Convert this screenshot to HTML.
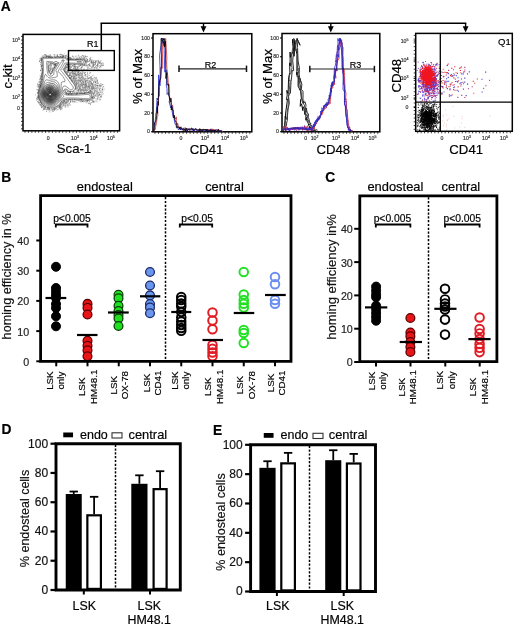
<!DOCTYPE html>
<html><head><meta charset="utf-8"><style>
html,body{margin:0;padding:0;background:#fff;}
svg{display:block;font-family:"Liberation Sans", sans-serif;filter:blur(0.35px);}
text{stroke:currentColor;stroke-width:0.18px;paint-order:stroke;}
</style></head><body>
<svg width="520" height="628" viewBox="0 0 520 628">
<rect width="520" height="628" fill="#fff"/>
<text x="0.8" y="11.2" font-size="13.8" text-anchor="start" font-weight="bold" fill="#000" color="#000">A</text>
<line x1="101.3" y1="50.6" x2="101.3" y2="23.3" stroke="#000" stroke-width="1.5"/>
<line x1="100.55" y1="23.3" x2="466.3" y2="23.3" stroke="#000" stroke-width="1.5"/>
<line x1="203.5" y1="23.3" x2="203.5" y2="27" stroke="#000" stroke-width="1.4"/>
<path d="M200.6,26.2 L206.4,26.2 L203.5,32.4 Z" fill="#000"/>
<line x1="330.8" y1="23.3" x2="330.8" y2="27" stroke="#000" stroke-width="1.4"/>
<path d="M327.90000000000003,26.2 L333.7,26.2 L330.8,32.4 Z" fill="#000"/>
<line x1="465.6" y1="23.3" x2="465.6" y2="27" stroke="#000" stroke-width="1.4"/>
<path d="M462.70000000000005,26.2 L468.5,26.2 L465.6,32.4 Z" fill="#000"/>
<path d="M74.5 71.8h0.75M78.0 85.6h0.75M90.9 62.6h0.75M50.4 64.1h0.75M54.3 66.4h0.75M52.3 109.5h0.75M60.9 104.3h0.75M85.7 92.9h0.75M48.7 72.4h0.75M67.1 70.8h0.75M89.1 89.0h0.75M89.9 72.6h0.75M66.6 64.7h0.75M85.2 85.9h0.75M82.3 89.3h0.75M85.6 56.6h0.75M87.2 90.6h0.75M91.9 62.9h0.75M66.9 100.8h0.75M84.1 73.5h0.75M84.1 93.0h0.75M81.9 76.7h0.75M95.0 82.4h0.75M74.3 82.2h0.75M68.5 99.7h0.75M96.1 68.0h0.75M54.9 65.1h0.75M65.1 67.4h0.75M95.2 64.1h0.75M101.9 89.6h0.75M71.4 78.6h0.75M80.9 56.8h0.75M99.1 94.3h0.75M95.5 61.2h0.75M97.4 83.0h0.75M75.9 85.0h0.75M47.7 109.6h0.75M70.0 64.7h0.75M89.1 65.8h0.75M89.8 60.2h0.75M83.9 59.2h0.75M102.1 84.7h0.75M94.3 62.5h0.75M74.0 73.3h0.75M67.1 74.8h0.75M73.3 70.5h0.75M75.6 79.1h0.75M81.3 77.4h0.75M89.3 64.1h0.75M90.9 61.5h0.75M79.5 80.8h0.75M42.4 69.8h0.75M40.0 76.9h0.75M41.1 106.9h0.75M68.4 94.4h0.75M38.5 97.5h0.75M75.4 69.4h0.75M72.9 76.3h0.75M45.9 56.5h0.75M82.1 78.1h0.75M48.7 110.4h0.75M97.2 85.4h0.75M88.5 83.7h0.75M64.8 55.6h0.75M74.0 66.5h0.75M69.8 77.4h0.75M74.4 99.5h0.75M91.4 61.8h0.75M42.1 72.7h0.75M97.5 93.2h0.75M76.7 59.5h0.75M74.6 66.1h0.75M40.8 61.9h0.75M73.3 71.9h0.75M48.6 70.5h0.75M100.2 96.5h0.75M70.9 79.7h0.75M37.7 99.7h0.75M67.9 93.3h0.75M84.2 93.0h0.75M70.4 69.4h0.75M85.9 70.0h0.75M54.1 64.8h0.75M52.7 69.4h0.75M72.5 73.7h0.75M83.9 89.0h0.75M41.9 104.9h0.75M97.2 99.2h0.75M70.9 94.2h0.75M78.9 87.9h0.75M92.9 101.2h0.75M66.6 93.7h0.75M67.5 64.4h0.75M66.1 67.4h0.75M69.3 78.6h0.75M85.3 87.1h0.75M80.9 100.1h0.75M59.1 106.3h0.75M43.1 109.3h0.75M72.8 57.0h0.75M53.7 109.2h0.75M79.1 77.9h0.75M81.2 100.0h0.75M80.2 99.7h0.75M70.5 93.7h0.75M81.2 67.7h0.75M44.0 54.7h0.75M66.3 67.2h0.75M40.8 60.0h0.75M66.6 93.2h0.75M95.7 91.6h0.75M92.5 65.5h0.75M74.7 94.1h0.75M48.0 56.8h0.75M98.7 88.4h0.75M62.4 55.8h0.75M85.5 101.7h0.75M70.9 58.9h0.75M100.0 66.3h0.75M94.2 69.2h0.75M79.9 86.1h0.75M91.5 93.4h0.75M81.7 83.5h0.75M46.1 56.9h0.75M77.3 93.7h0.75M83.8 84.4h0.75M68.9 67.6h0.75M68.0 59.0h0.75M97.3 65.5h0.75M41.1 103.1h0.75M91.4 80.1h0.75M78.8 73.5h0.75M53.4 109.6h0.75M74.7 69.6h0.75M99.6 86.3h0.75M69.2 66.3h0.75M78.2 74.9h0.75M74.1 64.7h0.75M101.9 92.1h0.75M65.9 102.6h0.75M77.8 100.0h0.75M97.0 80.1h0.75M94.6 64.1h0.75M82.5 81.3h0.75M80.5 89.1h0.75M90.6 82.0h0.75M72.5 65.9h0.75M39.4 87.1h0.75M81.5 93.1h0.75M99.9 99.2h0.75M85.3 81.1h0.75M49.2 56.9h0.75M95.2 62.7h0.75M70.5 57.3h0.75M97.7 96.9h0.75M49.2 64.8h0.75M82.7 65.1h0.75M72.2 71.7h0.75M72.5 59.2h0.75M41.1 76.3h0.75M67.4 58.9h0.75M70.9 69.7h0.75M38.6 90.8h0.75M84.5 58.6h0.75M40.3 85.5h0.75M67.1 70.1h0.75M95.7 79.0h0.75M85.3 78.6h0.75M83.0 90.7h0.75M90.5 59.5h0.75M60.2 108.4h0.75M97.1 81.0h0.75M89.1 60.7h0.75M86.2 86.6h0.75M40.1 84.9h0.75M82.5 87.9h0.75M40.1 70.6h0.75M81.5 92.6h0.75M74.7 82.0h0.75M80.9 83.1h0.75M90.9 89.1h0.75M37.3 96.3h0.75M38.5 89.9h0.75M95.4 88.3h0.75M41.9 106.4h0.75M37.3 83.8h0.75M100.6 66.1h0.75M75.2 74.5h0.75M74.9 68.1h0.75M83.6 90.8h0.75M79.6 84.3h0.75M78.1 90.4h0.75M66.4 93.9h0.75M98.3 61.5h0.75M40.6 62.7h0.75M66.9 64.6h0.75M93.9 91.3h0.75M103.4 86.5h0.75M94.3 67.5h0.75M77.8 80.7h0.75M48.9 71.3h0.75M82.5 101.0h0.75M85.5 87.7h0.75M70.6 75.5h0.75M94.5 101.7h0.75M78.4 89.0h0.75M59.0 106.7h0.75M75.4 73.6h0.75M40.0 87.1h0.75M73.0 74.6h0.75M41.5 60.2h0.75M75.7 84.9h0.75M66.2 99.9h0.75M41.6 63.2h0.75M92.9 63.7h0.75M41.3 58.9h0.75M39.5 100.1h0.75M60.9 54.9h0.75M82.6 72.3h0.75M79.8 59.4h0.75M41.4 73.9h0.75M78.4 85.8h0.75M77.7 77.0h0.75M90.4 90.3h0.75M59.9 106.2h0.75M81.0 80.4h0.75M89.9 92.0h0.75M78.3 91.8h0.75M75.5 87.4h0.75M57.0 56.2h0.75M89.1 87.5h0.75M73.1 68.5h0.75M97.0 85.4h0.75M87.2 78.1h0.75M47.7 56.2h0.75M46.2 109.4h0.75M78.7 75.8h0.75M84.6 86.0h0.75M55.3 65.0h0.75M37.7 97.3h0.75M81.7 70.5h0.75M89.9 85.4h0.75M87.1 100.5h0.75M83.1 82.4h0.75M91.8 97.6h0.75M75.1 79.1h0.75M40.5 105.8h0.75M78.9 80.3h0.75M75.2 59.7h0.75M87.1 59.8h0.75M92.1 86.3h0.75M70.2 78.6h0.75M41.4 78.2h0.75M75.8 87.2h0.75M93.8 79.8h0.75M68.0 94.3h0.75M65.3 103.1h0.75M92.8 62.1h0.75M71.2 94.0h0.75M74.8 83.5h0.75M80.3 86.4h0.75M63.3 100.8h0.75M54.4 109.0h0.75M48.5 108.0h0.75M78.6 92.6h0.75M66.8 71.6h0.75M86.9 60.3h0.75M81.8 70.4h0.75M86.5 100.2h0.75M65.5 99.9h0.75M71.2 76.5h0.75M84.6 88.0h0.75M91.7 98.2h0.75M88.8 77.8h0.75M79.1 66.0h0.75M62.1 102.1h0.75M75.9 74.6h0.75M70.2 78.1h0.75M99.5 85.5h0.75M78.2 74.7h0.75M85.5 61.3h0.75M84.0 93.2h0.75M81.1 77.5h0.75M65.3 92.2h0.75M59.2 107.4h0.75M79.2 89.2h0.75M79.6 79.0h0.75M89.0 93.0h0.75M41.7 76.6h0.75M79.6 100.4h0.75M101.3 96.1h0.75M72.3 80.0h0.75M96.0 85.7h0.75M92.8 88.9h0.75M92.7 63.1h0.75M71.9 65.5h0.75M76.2 94.1h0.75M58.1 57.0h0.75M64.1 68.9h0.75M65.0 68.3h0.75M47.2 56.3h0.75M68.0 91.6h0.75M88.7 84.2h0.75M92.4 66.5h0.75M89.2 100.0h0.75M58.4 106.1h0.75M40.3 85.3h0.75M43.1 105.4h0.75M70.7 70.9h0.75M81.4 85.7h0.75M79.0 86.4h0.75M68.3 100.2h0.75M48.8 57.1h0.75M83.3 93.5h0.75M94.8 86.0h0.75M49.9 74.1h0.75M95.0 61.5h0.75M90.8 79.1h0.75M97.5 96.9h0.75M54.2 65.4h0.75M60.3 106.8h0.75M61.4 57.3h0.75M76.1 83.9h0.75M93.6 64.8h0.75M89.6 85.6h0.75M43.1 105.5h0.75M91.2 87.8h0.75M95.7 78.1h0.75M74.1 92.6h0.75M76.3 93.9h0.75M88.4 103.3h0.75M70.0 101.9h0.75M93.3 81.9h0.75M84.4 87.1h0.75M82.2 64.8h0.75M85.3 85.7h0.75M70.7 93.5h0.75M66.3 66.9h0.75M99.0 62.4h0.75M90.9 102.7h0.75M40.9 102.9h0.75M99.5 63.1h0.75M90.9 82.4h0.75M87.6 82.3h0.75M67.8 94.2h0.75M77.0 88.1h0.75M93.3 82.8h0.75M63.3 56.3h0.75M69.5 68.3h0.75M90.9 61.0h0.75M59.4 105.9h0.75M40.0 86.5h0.75M40.9 83.4h0.75M97.1 64.3h0.75M83.2 79.1h0.75M50.5 70.0h0.75M51.4 71.3h0.75M71.1 80.5h0.75M70.2 67.0h0.75M41.2 66.4h0.75M53.9 68.0h0.75M80.1 81.2h0.75M71.6 69.3h0.75M43.4 57.7h0.75M77.3 83.6h0.75M67.1 70.6h0.75M64.9 102.9h0.75M93.1 87.6h0.75M69.2 69.5h0.75M75.6 75.3h0.75M40.5 58.8h0.75M91.5 67.6h0.75M66.0 101.6h0.75M91.1 87.0h0.75M50.7 56.8h0.75M41.5 65.6h0.75M41.0 65.7h0.75M77.4 69.4h0.75M73.6 82.2h0.75M83.9 65.3h0.75M91.9 96.7h0.75M51.2 68.1h0.75M48.8 108.7h0.75M85.1 84.4h0.75M41.7 79.6h0.75M59.2 57.5h0.75M90.2 104.3h0.75M89.2 65.4h0.75M73.1 77.6h0.75M75.2 68.4h0.75M69.0 64.9h0.75M61.5 108.7h0.75M49.4 66.0h0.75M100.8 65.2h0.75M68.6 65.3h0.75M38.8 98.0h0.75M74.1 66.9h0.75M75.1 66.9h0.75M85.4 61.1h0.75M52.2 57.5h0.75M61.9 56.7h0.75M83.8 57.2h0.75M100.6 83.7h0.75M85.7 90.5h0.75M93.1 101.9h0.75M74.4 80.9h0.75M78.0 72.2h0.75M86.7 56.5h0.75M69.5 91.9h0.75M37.1 93.6h0.75M85.2 90.2h0.75M41.4 107.6h0.75M90.3 90.6h0.75M66.0 93.2h0.75M77.5 87.3h0.75M79.9 84.5h0.75M85.0 74.4h0.75M77.8 74.6h0.75M87.4 100.6h0.75M81.1 79.2h0.75M90.7 92.0h0.75M66.4 94.0h0.75M84.1 65.2h0.75M78.6 70.4h0.75M52.4 63.9h0.75M74.0 74.0h0.75M77.0 93.9h0.75M82.4 84.4h0.75M69.4 59.3h0.75M84.8 84.5h0.75M82.2 66.7h0.75M89.7 90.4h0.75M88.8 85.5h0.75M83.7 91.0h0.75M79.6 77.1h0.75M87.4 86.6h0.75M85.6 65.9h0.75M71.9 75.1h0.75M66.3 92.9h0.75M39.9 82.6h0.75M64.9 102.1h0.75M97.7 95.5h0.75M41.7 60.8h0.75M82.8 87.7h0.75M100.1 85.2h0.75M91.4 83.5h0.75M92.3 85.0h0.75M91.5 99.2h0.75M101.9 89.8h0.75M93.7 87.8h0.75M64.5 101.2h0.75M71.2 77.1h0.75M62.1 57.4h0.75M73.7 76.2h0.75M47.9 67.7h0.75M66.9 67.4h0.75M94.6 84.9h0.75M41.1 60.3h0.75M91.4 91.5h0.75M87.1 80.3h0.75M46.3 111.3h0.75M86.3 61.1h0.75M40.1 81.4h0.75M86.5 80.7h0.75M93.2 86.1h0.75M72.7 70.5h0.75M54.5 108.4h0.75M59.1 105.0h0.75M73.5 58.0h0.75M92.0 97.3h0.75M70.0 58.4h0.75M47.2 107.7h0.75M91.1 63.0h0.75M69.3 57.8h0.75M67.9 70.9h0.75M63.4 102.6h0.75M69.9 74.2h0.75M93.7 64.9h0.75M83.1 65.2h0.75M66.8 90.0h0.75M94.6 94.9h0.75M49.4 108.8h0.75M63.9 101.6h0.75M75.6 69.6h0.75M100.6 92.7h0.75M49.3 109.5h0.75M39.2 61.7h0.75M78.1 85.1h0.75M81.4 101.7h0.75M74.7 67.9h0.75M78.3 80.9h0.75M88.3 86.2h0.75M87.9 64.8h0.75M85.7 81.0h0.75M41.8 58.0h0.75M67.4 58.3h0.75M81.0 65.8h0.75M73.4 78.6h0.75M66.8 67.4h0.75M42.5 106.5h0.75M77.3 67.3h0.75M53.8 54.7h0.75M89.0 86.9h0.75M74.9 72.9h0.75M92.3 84.7h0.75M77.2 74.1h0.75M47.7 57.0h0.75M63.7 68.9h0.75M60.2 109.8h0.75M82.8 56.3h0.75M85.5 88.8h0.75M73.7 68.0h0.75M93.3 66.7h0.75M87.1 61.8h0.75M81.9 55.5h0.75M84.7 84.1h0.75M92.3 97.5h0.75M69.6 105.1h0.75M82.0 75.0h0.75M55.9 65.4h0.75M40.9 104.4h0.75M82.9 84.6h0.75M89.5 88.5h0.75M93.6 98.3h0.75M47.5 108.8h0.75M50.7 63.1h0.75M90.6 76.8h0.75M101.3 63.4h0.75M97.1 66.3h0.75M56.0 108.3h0.75M71.7 70.4h0.75M86.4 87.0h0.75M55.0 108.5h0.75M94.3 88.4h0.75M95.2 84.3h0.75M92.5 78.3h0.75M71.4 70.7h0.75M40.9 60.2h0.75M84.6 55.9h0.75M50.1 67.8h0.75M37.1 101.7h0.75M43.7 107.3h0.75M70.6 72.4h0.75M48.8 55.2h0.75M79.6 91.0h0.75M65.6 55.5h0.75M81.4 85.2h0.75M91.0 93.4h0.75M64.2 70.2h0.75M85.5 63.3h0.75M50.8 65.2h0.75M84.0 92.7h0.75M41.5 79.8h0.75M40.1 82.8h0.75M75.8 93.2h0.75M71.5 76.4h0.75M72.2 99.7h0.75M99.4 94.6h0.75M66.6 74.5h0.75M57.0 55.2h0.75M48.6 108.0h0.75M72.2 92.9h0.75M38.3 96.3h0.75M63.3 56.4h0.75M72.9 91.9h0.75M69.6 99.6h0.75M87.5 82.9h0.75M38.7 87.4h0.75M78.2 71.8h0.75M89.9 91.2h0.75M63.2 101.9h0.75M67.0 71.8h0.75M70.1 92.4h0.75M83.8 59.4h0.75M62.7 102.6h0.75M80.3 87.9h0.75M50.9 57.4h0.75M81.2 73.7h0.75M40.4 70.0h0.75M82.2 101.4h0.75M54.7 65.1h0.75" stroke="#444" stroke-width="0.75" fill="none"/>
<path d="M70.8 59.1h0.75M80.8 90.8h0.75M95.0 63.2h0.75M89.1 103.6h0.75M74.0 81.8h0.75M37.8 86.1h0.75M80.8 90.5h0.75M60.0 105.3h0.75M66.5 73.6h0.75M92.9 64.6h0.75M76.0 58.3h0.75M91.1 83.4h0.75M52.1 70.4h0.75M79.4 58.1h0.75M40.3 62.7h0.75M69.0 73.1h0.75M60.3 56.4h0.75M44.6 56.6h0.75M84.7 100.2h0.75M70.8 77.4h0.75M83.6 100.7h0.75M83.8 72.3h0.75M63.3 102.4h0.75M93.0 96.6h0.75M65.4 71.1h0.75M65.1 67.8h0.75M79.3 65.9h0.75M42.3 66.0h0.75M75.9 89.7h0.75M45.3 108.6h0.75M74.8 100.7h0.75M64.8 107.0h0.75M96.5 60.6h0.75M50.5 57.4h0.75M85.9 81.9h0.75M69.1 58.8h0.75M43.0 109.3h0.75M99.0 63.4h0.75M85.6 79.3h0.75M69.2 77.8h0.75M96.0 96.1h0.75M42.2 73.5h0.75M40.4 76.6h0.75M82.5 86.4h0.75M79.3 58.4h0.75M78.2 79.9h0.75M87.4 101.0h0.75M91.9 66.4h0.75M95.0 67.1h0.75M82.3 83.4h0.75M86.5 84.5h0.75M75.2 66.8h0.75M99.5 92.3h0.75M82.3 84.0h0.75M38.9 86.3h0.75M88.1 78.6h0.75M88.5 83.6h0.75M73.7 78.2h0.75M77.1 88.7h0.75M75.0 77.0h0.75M65.7 92.6h0.75M79.3 85.6h0.75M87.5 88.4h0.75M75.1 85.5h0.75M101.7 65.6h0.75M66.8 73.1h0.75M36.7 97.5h0.75M75.0 89.3h0.75M83.5 78.0h0.75M89.8 85.9h0.75M92.5 78.7h0.75M82.1 85.7h0.75M95.7 66.9h0.75M92.9 86.1h0.75M87.7 89.6h0.75M55.4 57.2h0.75M54.1 108.8h0.75M86.6 65.6h0.75M94.7 60.5h0.75M98.0 63.7h0.75M46.3 56.1h0.75M89.4 70.7h0.75M74.9 79.6h0.75M69.0 70.7h0.75M72.0 81.7h0.75M99.2 85.2h0.75M89.8 83.9h0.75M77.8 69.5h0.75M61.4 105.2h0.75M50.6 55.8h0.75M38.0 95.2h0.75M61.3 102.0h0.75M49.3 71.4h0.75M80.6 92.6h0.75M75.7 82.1h0.75M75.1 83.9h0.75M65.3 67.7h0.75M54.9 109.6h0.75M91.7 98.0h0.75M52.7 70.3h0.75M77.2 92.3h0.75M90.7 78.4h0.75M77.3 72.7h0.75M79.7 78.6h0.75M93.4 87.1h0.75M70.4 99.6h0.75M87.3 60.0h0.75M64.3 69.8h0.75M83.8 89.1h0.75M93.1 102.3h0.75M41.0 59.9h0.75M100.0 94.7h0.75M80.1 84.7h0.75M90.7 62.4h0.75M82.7 91.7h0.75M82.2 83.6h0.75M89.3 77.9h0.75M74.0 84.6h0.75M86.0 85.0h0.75M87.7 86.9h0.75M84.5 60.6h0.75M92.4 92.5h0.75M69.4 59.4h0.75M78.1 82.5h0.75M61.0 109.3h0.75M94.3 91.6h0.75M67.0 101.0h0.75M71.7 77.6h0.75M41.9 59.1h0.75M75.7 71.5h0.75M69.4 78.4h0.75M74.6 85.9h0.75M85.8 90.5h0.75M68.6 102.9h0.75M42.6 110.2h0.75M56.0 57.0h0.75M81.3 85.2h0.75M99.2 63.2h0.75M86.5 80.1h0.75M36.0 100.1h0.75M96.9 87.0h0.75M76.0 92.9h0.75M77.6 79.7h0.75M89.1 83.9h0.75M52.0 110.2h0.75M72.6 101.7h0.75M89.8 90.2h0.75M87.2 100.6h0.75M80.8 90.3h0.75M76.7 69.2h0.75M59.0 107.4h0.75M59.8 106.2h0.75M102.5 65.5h0.75M81.9 87.4h0.75M69.0 68.8h0.75M72.0 59.0h0.75M92.1 101.3h0.75M65.5 65.7h0.75M93.1 63.9h0.75M84.0 69.9h0.75M93.2 96.9h0.75M75.2 88.6h0.75M97.3 90.4h0.75M77.5 58.8h0.75M85.1 82.6h0.75M74.5 64.5h0.75M80.0 82.2h0.75M79.5 73.4h0.75M63.5 69.5h0.75M86.7 87.8h0.75M73.3 65.7h0.75M82.3 58.2h0.75M67.0 105.8h0.75M102.9 93.9h0.75M71.5 64.6h0.75M96.5 68.6h0.75M40.5 64.4h0.75M66.8 105.7h0.75M69.6 57.6h0.75M38.7 85.9h0.75M85.1 92.9h0.75M99.2 95.3h0.75M84.2 78.9h0.75M70.1 69.8h0.75M41.2 66.8h0.75M75.4 71.9h0.75M89.8 65.3h0.75M79.2 76.9h0.75M75.4 72.8h0.75M37.7 97.4h0.75M69.7 76.2h0.75M67.7 76.0h0.75M100.4 62.8h0.75M88.7 87.1h0.75M75.6 59.6h0.75M86.5 100.6h0.75M74.6 79.0h0.75M82.2 77.0h0.75M63.5 69.9h0.75M71.6 81.0h0.75M92.4 102.3h0.75M101.9 65.5h0.75M89.4 90.6h0.75M68.8 75.7h0.75M79.3 78.4h0.75M63.4 100.5h0.75M79.4 93.9h0.75M92.2 85.4h0.75M39.9 101.3h0.75M67.5 93.4h0.75M95.1 90.3h0.75M87.1 69.3h0.75M90.8 60.9h0.75M68.3 71.7h0.75M83.2 82.5h0.75M76.5 69.6h0.75M102.7 84.6h0.75M96.4 81.4h0.75M39.0 85.2h0.75M69.5 104.6h0.75M91.7 62.0h0.75M88.3 91.3h0.75M68.1 56.1h0.75M96.1 90.7h0.75M97.6 69.6h0.75M69.6 91.9h0.75M82.6 100.2h0.75M84.1 64.5h0.75M99.6 100.1h0.75M46.0 57.0h0.75M80.5 80.0h0.75M82.3 78.9h0.75M101.2 97.3h0.75M80.4 59.5h0.75M89.4 61.5h0.75M91.2 60.8h0.75M82.6 81.3h0.75M88.0 61.2h0.75M82.6 89.2h0.75M92.0 95.2h0.75M90.7 61.9h0.75M48.3 66.6h0.75M80.2 72.8h0.75M87.6 85.3h0.75M43.1 57.1h0.75M70.2 59.2h0.75M39.0 102.9h0.75M48.3 68.6h0.75M93.7 95.0h0.75M39.1 84.7h0.75M58.6 105.7h0.75M63.7 103.6h0.75M66.3 71.2h0.75M80.3 79.2h0.75M64.2 71.4h0.75M76.2 58.8h0.75M95.1 62.6h0.75M46.9 108.7h0.75M84.9 59.7h0.75M100.7 85.8h0.75M38.3 82.1h0.75M43.2 105.4h0.75M88.0 100.2h0.75M91.9 75.7h0.75M62.8 101.6h0.75M93.2 96.1h0.75M100.2 96.3h0.75M90.3 83.9h0.75M96.5 82.7h0.75M81.5 89.7h0.75M67.1 101.1h0.75M77.4 57.9h0.75M76.7 74.3h0.75M38.3 91.4h0.75M42.2 104.7h0.75M77.8 59.5h0.75M75.1 81.1h0.75M75.9 56.1h0.75M92.1 87.9h0.75M95.0 66.9h0.75M74.2 66.0h0.75M100.8 85.0h0.75M62.4 55.7h0.75M67.2 66.4h0.75M69.9 73.4h0.75M78.6 90.5h0.75M65.2 105.9h0.75M40.8 73.2h0.75M89.5 92.4h0.75M91.7 63.9h0.75M86.4 60.1h0.75M84.6 65.6h0.75M85.5 83.5h0.75M62.0 106.8h0.75M40.7 105.3h0.75M60.6 56.7h0.75M92.7 84.2h0.75M57.4 54.3h0.75M44.5 55.6h0.75M84.5 85.9h0.75M67.6 72.1h0.75M96.6 80.2h0.75M65.3 73.0h0.75M84.0 90.8h0.75M70.8 59.3h0.75M65.2 90.7h0.75M72.3 76.5h0.75M76.3 80.4h0.75M44.6 106.7h0.75M78.9 101.3h0.75M84.5 92.9h0.75M84.5 92.9h0.75M93.6 97.7h0.75M79.5 77.9h0.75M81.7 74.2h0.75M78.9 71.4h0.75M70.1 102.1h0.75M72.0 70.4h0.75M78.7 68.6h0.75M85.9 85.5h0.75M82.7 89.0h0.75M65.5 73.4h0.75M69.8 66.6h0.75M65.4 90.0h0.75M84.5 70.4h0.75M84.1 90.0h0.75M66.8 74.9h0.75M64.9 105.2h0.75M98.1 66.2h0.75M41.7 74.2h0.75M68.0 76.3h0.75M95.8 87.8h0.75M95.3 62.8h0.75M96.9 81.6h0.75M75.6 81.1h0.75M99.8 86.2h0.75M85.4 60.8h0.75M42.2 64.9h0.75M83.5 59.6h0.75M83.2 81.3h0.75M74.2 80.8h0.75M38.0 102.6h0.75M100.9 85.6h0.75M42.6 104.3h0.75M86.0 64.3h0.75M38.4 86.5h0.75M70.7 66.5h0.75M74.2 64.5h0.75M78.4 86.3h0.75M88.6 64.5h0.75M46.5 55.5h0.75M63.4 101.4h0.75M54.6 66.4h0.75M69.9 69.8h0.75M60.2 107.3h0.75M89.6 59.3h0.75M92.0 89.3h0.75M86.9 76.0h0.75M100.3 88.5h0.75M38.5 91.9h0.75M57.1 55.9h0.75M76.4 100.7h0.75M40.2 79.4h0.75M68.3 91.8h0.75M88.6 86.5h0.75M78.4 79.5h0.75M87.8 78.4h0.75M75.2 67.8h0.75M91.0 92.8h0.75M88.4 78.5h0.75M75.9 59.1h0.75M67.6 71.9h0.75M61.2 104.3h0.75M40.4 83.7h0.75M92.1 88.9h0.75M70.8 93.8h0.75M52.3 70.6h0.75M85.2 85.9h0.75M62.5 104.6h0.75M49.8 71.8h0.75M74.1 82.6h0.75M88.4 92.1h0.75M81.1 59.0h0.75M90.1 92.6h0.75M65.5 100.7h0.75M52.4 108.8h0.75M65.3 68.6h0.75M92.7 67.2h0.75M68.0 71.9h0.75M98.0 83.3h0.75M95.8 80.1h0.75M71.7 76.3h0.75M97.5 98.4h0.75M39.9 59.9h0.75M43.4 106.5h0.75M61.7 106.3h0.75M66.8 100.3h0.75M50.8 64.2h0.75M41.6 65.4h0.75M64.4 102.9h0.75M54.3 107.8h0.75M39.2 86.0h0.75M64.1 68.8h0.75M41.4 61.9h0.75M92.7 69.2h0.75M94.5 92.4h0.75M91.1 94.6h0.75M96.6 89.4h0.75M37.2 96.1h0.75M85.8 102.8h0.75M73.9 101.2h0.75M68.3 76.9h0.75M92.9 62.4h0.75M77.3 67.3h0.75M41.8 56.9h0.75M40.5 102.4h0.75M89.5 81.5h0.75M76.5 78.8h0.75M40.0 81.2h0.75M94.3 90.6h0.75M96.5 61.4h0.75M77.1 90.7h0.75M100.6 60.6h0.75M82.1 74.1h0.75M94.9 78.0h0.75M39.7 100.7h0.75M87.3 61.3h0.75M95.7 62.2h0.75M46.2 56.8h0.75M41.1 83.6h0.75M91.0 92.4h0.75M89.7 91.3h0.75M81.7 82.9h0.75M98.7 84.7h0.75M86.1 85.4h0.75M63.4 57.4h0.75M62.6 105.6h0.75M42.9 108.7h0.75M74.4 81.1h0.75M90.7 87.9h0.75M69.2 75.3h0.75M43.3 105.9h0.75M72.6 79.2h0.75M90.2 66.3h0.75M40.9 68.3h0.75M72.0 55.9h0.75M87.3 72.2h0.75M62.7 103.6h0.75M81.0 57.7h0.75M77.5 71.9h0.75M41.4 106.0h0.75M85.6 93.6h0.75M69.7 57.7h0.75M89.3 101.2h0.75M69.8 69.2h0.75M51.2 108.2h0.75M73.1 78.8h0.75M77.9 84.1h0.75M91.9 83.8h0.75M76.1 88.7h0.75M73.1 68.7h0.75M84.5 79.4h0.75M87.1 65.3h0.75M86.8 89.7h0.75M102.8 63.4h0.75M48.2 66.0h0.75M79.2 84.0h0.75M80.8 74.4h0.75M63.7 91.1h0.75M92.5 101.4h0.75M97.6 60.6h0.75M63.2 55.4h0.75M88.5 84.5h0.75M66.3 64.7h0.75M40.3 80.8h0.75M94.4 84.4h0.75M89.2 75.3h0.75M93.8 80.7h0.75M74.8 73.6h0.75M64.4 71.4h0.75M86.0 84.2h0.75M99.3 90.3h0.75M74.6 82.7h0.75M79.9 72.3h0.75M81.3 80.9h0.75M66.7 102.3h0.75M41.9 56.3h0.75M88.0 81.0h0.75M61.2 104.6h0.75M99.0 62.4h0.75M85.7 60.3h0.75M77.6 71.6h0.75M79.9 65.3h0.75M101.1 64.2h0.75M60.7 103.0h0.75M94.0 97.6h0.75M89.2 86.6h0.75M67.3 65.8h0.75M65.5 68.2h0.75M88.9 103.3h0.75M67.1 91.4h0.75M88.7 64.7h0.75M98.1 95.6h0.75M55.4 65.5h0.75M86.6 74.8h0.75M82.9 58.0h0.75M79.7 77.9h0.75M81.8 82.8h0.75M80.8 86.8h0.75M76.8 73.5h0.75M77.2 73.7h0.75M72.3 59.6h0.75M50.6 65.3h0.75M53.2 108.2h0.75M92.5 88.4h0.75M68.9 75.5h0.75M94.2 96.0h0.75M98.6 69.1h0.75M73.7 58.3h0.75M90.0 92.6h0.75M39.0 104.4h0.75M38.2 101.9h0.75M84.3 64.8h0.75M67.2 65.8h0.75M62.0 102.9h0.75M76.4 92.7h0.75M67.6 64.4h0.75M92.2 93.1h0.75M85.2 82.6h0.75M70.3 92.0h0.75M89.8 68.3h0.75M41.6 69.9h0.75M88.9 101.8h0.75M80.3 90.8h0.75M79.9 92.0h0.75M77.8 77.9h0.75M38.7 87.3h0.75M94.6 63.2h0.75M74.9 80.5h0.75M76.4 93.1h0.75M80.0 58.7h0.75M68.1 69.6h0.75M75.4 67.2h0.75M74.0 78.6h0.75M80.5 93.6h0.75M87.3 59.1h0.75M48.6 57.3h0.75M81.9 59.0h0.75M35.1 94.9h0.75M49.6 70.1h0.75M85.3 83.8h0.75M80.4 89.0h0.75M70.0 100.9h0.75M37.5 89.7h0.75M99.0 89.8h0.75M84.2 85.5h0.75M75.0 71.8h0.75M90.1 103.2h0.75M60.0 105.1h0.75M87.8 85.1h0.75M79.3 100.3h0.75M79.9 78.6h0.75M71.6 101.1h0.75M82.1 85.6h0.75M69.2 69.1h0.75M99.4 89.5h0.75M76.9 70.5h0.75M74.4 70.9h0.75M74.8 99.7h0.75M69.4 94.2h0.75M67.8 104.1h0.75M73.0 101.4h0.75M72.1 74.0h0.75M41.2 105.4h0.75M70.5 75.4h0.75M82.2 84.2h0.75M87.9 78.9h0.75M92.5 68.2h0.75M77.1 68.7h0.75M63.1 104.9h0.75M96.1 91.9h0.75M42.7 107.7h0.75M77.3 67.3h0.75M76.0 75.6h0.75M53.6 67.8h0.75M70.7 67.3h0.75M83.3 69.4h0.75M77.7 69.8h0.75M57.8 56.7h0.75M77.0 73.0h0.75" stroke="#888" stroke-width="0.75" fill="none"/>
<path d="M78.2 59.3h0.75M92.3 80.3h0.75M41.9 70.6h0.75M82.1 87.2h0.75M77.8 90.0h0.75M39.9 102.2h0.75M41.7 68.7h0.75M96.6 93.2h0.75M40.9 105.8h0.75M46.2 55.8h0.75M79.9 81.2h0.75M60.0 56.5h0.75M65.7 68.9h0.75M41.5 75.6h0.75M65.0 66.7h0.75M73.0 80.0h0.75M47.7 107.9h0.75M44.5 107.3h0.75M69.8 74.9h0.75M54.2 110.3h0.75M76.1 84.5h0.75M56.8 55.9h0.75M93.2 94.3h0.75M74.2 77.3h0.75M85.2 81.1h0.75M64.9 69.8h0.75M82.8 102.0h0.75M59.7 105.6h0.75M75.6 76.0h0.75M36.5 89.6h0.75M85.3 89.9h0.75M42.2 68.8h0.75M96.0 88.1h0.75M39.0 102.9h0.75M76.4 83.2h0.75M76.7 93.6h0.75M61.8 55.3h0.75M37.3 99.0h0.75M100.8 96.1h0.75M45.4 57.6h0.75M72.7 80.5h0.75M68.5 72.4h0.75M96.6 101.6h0.75M50.6 66.1h0.75M84.7 75.7h0.75M84.5 64.8h0.75M41.4 74.9h0.75M75.4 78.6h0.75M54.8 107.9h0.75M62.0 103.1h0.75M72.2 81.8h0.75M50.8 109.3h0.75M56.5 106.7h0.75M62.7 55.1h0.75M83.7 87.5h0.75M41.4 77.6h0.75M61.5 102.3h0.75M54.2 109.5h0.75M50.6 69.3h0.75M93.0 65.1h0.75M48.5 57.5h0.75M86.1 58.6h0.75M52.1 72.7h0.75M71.9 100.8h0.75M81.6 93.6h0.75M77.9 83.7h0.75M90.9 68.2h0.75M86.2 89.8h0.75M76.3 78.5h0.75M69.7 93.1h0.75M38.1 90.7h0.75M86.9 76.6h0.75M92.1 83.6h0.75M86.5 62.0h0.75M71.0 79.8h0.75M81.0 83.0h0.75M79.5 75.0h0.75M66.2 71.9h0.75M60.5 107.1h0.75M87.6 87.8h0.75M76.3 66.8h0.75M44.0 109.4h0.75M52.2 111.0h0.75M70.0 73.3h0.75M83.5 83.4h0.75M82.7 76.1h0.75M60.7 103.0h0.75M79.7 93.3h0.75M76.1 74.9h0.75M76.2 84.0h0.75M65.2 71.2h0.75M69.0 93.8h0.75M76.8 80.8h0.75M75.3 69.6h0.75M48.4 66.1h0.75M37.3 97.6h0.75M90.6 86.4h0.75M65.5 57.1h0.75M85.2 72.5h0.75M80.5 90.7h0.75M83.1 100.8h0.75M87.0 73.1h0.75M44.1 107.0h0.75M41.7 75.4h0.75M52.9 109.1h0.75M61.5 107.8h0.75M45.5 55.1h0.75M76.4 69.9h0.75M62.9 55.9h0.75M68.2 70.7h0.75M59.2 108.7h0.75M98.0 92.5h0.75M61.1 101.8h0.75M77.8 56.8h0.75M82.7 77.9h0.75M65.3 91.2h0.75M84.8 75.3h0.75M45.3 107.5h0.75M81.2 84.9h0.75M103.3 65.3h0.75M40.0 104.7h0.75M81.9 79.4h0.75M79.8 88.9h0.75M95.4 95.9h0.75M92.4 98.7h0.75M78.6 81.5h0.75M73.9 79.0h0.75M48.3 69.4h0.75M92.5 89.3h0.75M93.1 94.0h0.75M57.6 109.6h0.75M89.8 93.0h0.75M90.5 57.4h0.75M81.6 100.1h0.75M73.2 73.5h0.75M45.1 107.7h0.75M60.9 107.4h0.75M50.1 57.0h0.75M57.6 106.9h0.75M65.9 56.1h0.75M38.1 97.3h0.75M102.1 89.8h0.75M39.3 60.9h0.75M94.2 97.4h0.75M87.2 92.7h0.75M40.2 79.2h0.75M95.8 77.5h0.75M89.9 99.8h0.75M50.2 63.9h0.75M89.0 91.8h0.75M90.0 90.6h0.75M73.6 83.6h0.75M97.3 65.2h0.75M88.7 78.3h0.75M38.8 85.8h0.75M79.3 93.3h0.75M92.4 100.3h0.75M69.8 92.9h0.75M66.0 103.4h0.75M63.9 101.4h0.75M41.2 103.3h0.75M91.9 91.7h0.75M48.9 56.3h0.75M52.8 111.5h0.75M79.5 89.3h0.75M50.0 69.9h0.75M40.3 102.5h0.75M76.0 82.5h0.75M80.1 65.3h0.75M59.4 54.9h0.75M79.6 56.8h0.75M55.7 55.0h0.75M71.6 73.5h0.75M48.2 108.1h0.75M82.7 77.8h0.75M56.8 107.5h0.75M76.6 86.3h0.75M50.8 108.7h0.75M99.7 97.5h0.75M95.4 95.4h0.75M84.8 74.9h0.75M80.2 81.2h0.75M41.1 81.3h0.75M98.1 62.3h0.75M80.6 75.1h0.75M73.8 68.8h0.75M97.2 91.6h0.75M76.3 68.7h0.75M40.3 64.7h0.75M80.7 91.7h0.75M38.8 88.3h0.75M68.9 73.8h0.75M80.2 84.9h0.75M81.5 89.3h0.75M76.6 99.9h0.75M74.4 75.1h0.75M93.3 62.6h0.75M69.7 75.6h0.75M86.2 85.5h0.75M84.4 60.7h0.75M77.7 74.8h0.75M40.7 66.7h0.75M87.8 66.8h0.75M74.9 76.9h0.75M88.7 68.6h0.75M67.7 75.6h0.75M92.7 97.1h0.75M43.8 106.9h0.75M73.6 101.9h0.75M39.7 100.8h0.75M57.3 56.2h0.75M39.9 78.1h0.75M41.5 79.2h0.75M82.0 73.4h0.75M47.8 108.9h0.75M74.1 73.6h0.75M86.0 92.8h0.75M97.1 94.9h0.75M50.0 63.9h0.75M87.5 74.2h0.75M74.4 70.2h0.75M67.7 72.0h0.75M93.5 60.8h0.75M65.2 57.0h0.75M72.1 101.8h0.75M85.5 88.8h0.75M39.2 84.4h0.75M50.2 68.7h0.75M90.5 91.1h0.75M45.4 54.7h0.75M66.8 104.8h0.75M67.6 65.4h0.75M76.4 75.3h0.75M67.3 56.6h0.75M68.2 100.9h0.75M42.0 70.9h0.75M93.8 77.7h0.75M95.8 94.4h0.75M85.4 83.3h0.75M44.1 107.3h0.75M90.7 76.8h0.75M49.1 68.0h0.75M88.2 86.3h0.75M73.7 81.9h0.75M54.6 67.5h0.75M77.8 83.2h0.75M84.3 79.6h0.75M93.2 65.1h0.75M95.1 81.6h0.75M101.5 93.9h0.75M69.3 75.7h0.75M64.3 71.8h0.75M69.2 66.8h0.75M73.5 64.4h0.75M84.6 57.7h0.75M81.5 80.6h0.75M70.0 101.4h0.75M53.5 68.2h0.75M86.3 65.8h0.75M38.2 95.3h0.75M91.3 84.6h0.75M90.6 78.7h0.75M79.3 74.7h0.75M75.8 83.4h0.75M69.6 91.7h0.75M73.6 77.8h0.75M66.3 73.0h0.75M65.3 92.0h0.75M63.6 103.8h0.75M94.7 82.1h0.75M91.1 100.3h0.75M63.8 100.5h0.75M75.6 88.3h0.75M91.8 90.1h0.75M62.0 57.3h0.75M91.1 88.8h0.75M48.6 56.8h0.75M77.9 100.7h0.75M88.1 92.1h0.75M69.7 58.1h0.75M86.1 83.2h0.75M36.4 98.9h0.75M98.7 85.8h0.75M39.0 81.4h0.75M102.0 89.2h0.75M52.3 68.0h0.75M96.9 83.1h0.75M88.5 92.7h0.75M97.8 62.6h0.75M87.8 61.8h0.75M48.7 70.9h0.75M79.8 92.9h0.75M66.1 74.0h0.75M50.5 72.1h0.75M70.4 70.0h0.75M78.9 57.7h0.75M76.6 81.1h0.75M90.1 77.7h0.75M88.9 91.4h0.75M87.3 67.1h0.75M71.8 93.8h0.75M54.5 56.9h0.75M69.6 64.9h0.75M69.9 102.2h0.75M69.5 67.8h0.75M63.5 104.1h0.75M81.1 80.5h0.75M80.9 84.9h0.75M74.6 102.2h0.75M72.5 71.7h0.75M87.4 80.4h0.75M62.5 102.8h0.75M59.5 106.6h0.75M69.1 74.2h0.75M80.8 76.2h0.75M64.5 70.6h0.75M62.0 56.8h0.75M38.6 103.0h0.75M92.8 92.7h0.75M85.2 81.5h0.75M41.1 58.2h0.75M73.7 78.8h0.75M87.7 100.3h0.75M39.7 60.5h0.75M92.8 96.1h0.75M65.1 72.0h0.75M51.1 73.8h0.75M66.3 102.1h0.75M73.0 66.8h0.75M67.0 102.2h0.75M89.1 58.8h0.75M39.3 82.6h0.75M72.7 93.9h0.75M92.2 87.4h0.75M73.7 91.1h0.75M79.2 75.0h0.75M68.9 65.8h0.75M76.9 92.4h0.75M80.6 68.7h0.75M74.9 56.3h0.75M98.4 94.2h0.75M40.0 85.3h0.75M71.0 58.7h0.75M64.7 72.0h0.75M70.2 78.1h0.75M88.1 87.1h0.75M45.9 56.5h0.75M80.2 101.7h0.75M89.8 80.3h0.75M79.9 65.0h0.75M85.8 86.1h0.75M61.5 103.1h0.75M70.9 72.6h0.75M102.6 64.6h0.75M92.8 98.7h0.75M81.8 71.7h0.75M53.3 65.1h0.75M48.9 111.9h0.75M38.3 102.4h0.75M44.0 108.3h0.75M45.1 106.9h0.75M39.0 79.2h0.75M75.6 85.3h0.75M81.9 90.2h0.75M52.0 68.6h0.75M91.3 89.0h0.75M70.2 58.9h0.75M70.2 99.7h0.75M41.2 74.7h0.75M92.6 86.7h0.75M80.3 73.3h0.75M94.0 93.5h0.75M99.2 67.4h0.75M98.2 60.3h0.75M91.9 79.8h0.75M78.6 86.8h0.75M78.0 72.9h0.75M96.2 65.5h0.75M36.9 92.6h0.75M66.6 73.6h0.75M76.5 91.1h0.75M38.1 92.3h0.75M54.1 55.8h0.75M92.5 84.2h0.75M76.3 59.4h0.75M72.7 73.5h0.75M94.3 92.5h0.75M89.4 73.3h0.75M95.7 100.2h0.75M38.8 84.3h0.75M74.6 65.7h0.75M69.0 77.7h0.75M100.0 63.0h0.75M39.3 99.5h0.75M98.7 94.0h0.75M51.6 63.7h0.75M79.4 88.6h0.75M52.1 57.2h0.75M73.9 76.2h0.75M37.8 87.0h0.75M55.0 57.5h0.75M100.5 67.3h0.75M43.8 108.0h0.75M97.7 64.3h0.75M83.8 80.3h0.75M95.3 90.9h0.75M48.0 56.1h0.75M85.6 85.0h0.75M72.1 80.7h0.75M83.6 93.6h0.75M67.9 106.0h0.75M78.3 66.8h0.75M42.7 55.6h0.75M80.5 80.4h0.75M64.3 90.3h0.75M40.4 85.3h0.75M76.7 81.1h0.75M37.4 92.2h0.75M90.9 77.8h0.75M39.9 101.1h0.75M93.9 81.6h0.75M44.6 109.3h0.75M68.0 68.3h0.75M71.0 67.3h0.75M78.1 90.3h0.75M60.3 103.8h0.75M38.2 85.3h0.75M40.7 103.5h0.75M62.4 57.4h0.75M86.4 91.7h0.75M77.7 72.4h0.75M96.8 93.0h0.75M85.3 56.6h0.75M80.2 59.1h0.75M84.7 64.7h0.75M83.0 84.6h0.75M72.6 94.3h0.75M86.2 62.7h0.75M70.1 68.1h0.75M74.0 77.0h0.75M60.3 104.8h0.75M79.3 87.5h0.75M64.5 105.9h0.75M74.6 93.4h0.75M63.8 101.3h0.75M78.1 89.6h0.75M87.7 67.7h0.75M99.1 89.2h0.75M68.1 70.1h0.75M44.1 108.0h0.75M95.5 89.0h0.75M91.3 86.1h0.75M78.5 81.2h0.75M40.9 66.5h0.75M65.5 104.0h0.75M53.4 108.6h0.75M69.9 66.2h0.75M40.3 104.4h0.75M84.5 92.3h0.75M75.5 88.4h0.75M96.8 67.7h0.75M59.9 54.4h0.75M39.9 78.1h0.75M67.5 58.8h0.75M38.0 98.8h0.75M67.3 91.3h0.75M67.3 72.6h0.75M80.7 89.6h0.75M61.7 101.8h0.75M72.6 91.4h0.75M68.8 93.4h0.75M68.9 66.0h0.75M88.5 92.5h0.75M97.6 85.4h0.75M81.0 75.8h0.75M69.5 77.5h0.75M47.1 109.1h0.75M83.7 57.8h0.75M95.2 82.6h0.75M86.7 101.5h0.75M54.3 109.1h0.75M98.8 99.7h0.75M41.9 72.9h0.75M97.3 98.2h0.75M45.1 55.1h0.75M41.9 71.6h0.75M49.7 65.3h0.75M93.4 65.0h0.75M81.8 93.5h0.75M82.5 86.0h0.75M49.6 68.5h0.75M41.7 68.2h0.75M90.9 62.2h0.75M56.7 109.3h0.75M83.3 89.1h0.75M50.5 69.5h0.75M82.0 81.7h0.75M60.3 107.8h0.75M60.1 54.6h0.75M39.3 84.3h0.75M75.7 79.0h0.75M64.5 105.1h0.75M42.0 69.1h0.75M60.1 103.7h0.75M78.3 77.0h0.75M82.5 80.8h0.75M68.4 66.8h0.75M54.7 107.7h0.75M84.5 82.3h0.75M74.6 84.8h0.75M77.4 68.1h0.75M52.7 70.1h0.75M78.0 65.0h0.75M58.1 105.8h0.75M92.8 60.9h0.75M80.1 65.5h0.75M74.5 64.5h0.75M74.8 80.5h0.75M50.3 55.2h0.75M103.7 89.2h0.75M66.5 72.8h0.75M66.7 72.9h0.75M84.7 80.6h0.75M100.6 86.8h0.75M92.6 61.8h0.75M102.4 62.9h0.75M84.1 101.4h0.75M50.5 57.0h0.75M59.9 106.7h0.75M36.6 98.7h0.75M68.3 101.5h0.75M72.7 72.7h0.75M65.8 92.7h0.75M76.0 83.1h0.75M58.5 107.8h0.75M83.4 82.4h0.75M93.0 93.5h0.75M77.7 74.6h0.75M84.6 78.3h0.75M90.9 84.1h0.75M72.6 70.0h0.75M41.7 58.8h0.75M68.8 91.3h0.75M70.0 99.9h0.75M85.5 100.6h0.75M38.3 93.6h0.75M83.1 84.9h0.75M38.7 89.8h0.75M76.7 75.6h0.75M76.4 93.4h0.75M69.0 75.0h0.75M69.6 99.9h0.75M90.1 58.7h0.75M82.8 55.8h0.75M68.8 68.5h0.75M97.2 63.9h0.75M77.1 59.3h0.75M84.9 60.2h0.75M86.9 59.8h0.75M69.9 92.1h0.75M78.6 72.2h0.75M54.5 67.2h0.75M81.5 67.5h0.75M76.6 83.5h0.75M90.1 81.5h0.75M49.8 57.0h0.75M59.8 105.0h0.75M88.3 92.7h0.75M89.3 81.9h0.75M90.7 99.0h0.75M68.4 66.0h0.75M56.7 57.3h0.75M95.2 95.8h0.75M38.5 96.7h0.75M68.7 75.7h0.75M93.0 88.4h0.75M65.5 92.2h0.75M38.1 102.1h0.75M57.0 106.3h0.75M79.7 75.4h0.75M63.6 101.9h0.75M94.9 86.7h0.75M72.3 56.4h0.75M90.6 82.5h0.75M94.0 89.7h0.75M49.0 70.8h0.75M88.9 82.2h0.75M95.9 83.8h0.75M73.2 78.3h0.75M72.3 72.2h0.75M73.9 99.4h0.75M60.3 57.1h0.75M73.4 75.8h0.75M92.5 88.0h0.75M76.4 85.4h0.75M42.9 57.3h0.75M63.2 105.3h0.75M83.0 84.3h0.75M92.1 93.4h0.75M69.0 103.4h0.75M68.5 75.4h0.75M37.6 84.6h0.75M99.6 92.0h0.75M88.6 64.7h0.75M72.4 65.9h0.75M87.2 101.8h0.75M99.7 61.6h0.75M89.2 80.7h0.75M50.7 57.5h0.75M72.0 72.0h0.75M77.5 66.4h0.75M83.0 58.5h0.75M39.8 58.7h0.75M76.4 71.3h0.75M96.8 87.0h0.75M81.8 90.5h0.75M75.2 70.7h0.75M60.3 105.7h0.75M64.1 100.2h0.75M40.1 78.2h0.75M67.8 69.9h0.75" stroke="#666" stroke-width="0.75" fill="none"/>
<path d="M65.0 107.1h0.75M38.8 99.0h0.75M91.6 66.4h0.75M97.8 89.0h0.75M80.1 79.7h0.75M85.4 62.5h0.75M81.7 64.6h0.75M40.0 84.0h0.75M50.3 68.6h0.75M67.4 72.4h0.75M66.1 55.8h0.75M86.4 58.1h0.75M53.5 110.3h0.75M77.6 89.8h0.75M94.1 102.2h0.75M67.4 93.0h0.75M81.8 58.3h0.75M92.2 64.1h0.75M94.4 90.9h0.75M83.3 59.0h0.75M80.3 87.3h0.75M87.9 89.5h0.75M43.9 106.0h0.75M102.6 87.4h0.75M80.8 69.3h0.75M77.8 86.9h0.75M87.9 89.5h0.75M86.5 81.0h0.75M38.5 89.0h0.75M90.1 60.4h0.75M40.9 83.9h0.75M71.6 65.3h0.75M96.6 92.8h0.75M37.9 91.9h0.75M77.0 70.8h0.75M65.6 90.9h0.75M93.6 88.1h0.75M84.7 75.3h0.75M74.4 101.1h0.75M41.9 103.8h0.75M80.8 65.9h0.75M50.0 67.3h0.75M78.7 99.8h0.75M100.4 90.5h0.75M70.7 66.8h0.75M85.4 89.1h0.75M76.1 100.1h0.75M72.6 70.3h0.75M68.8 65.1h0.75M82.3 90.0h0.75M77.0 74.6h0.75M79.2 74.5h0.75M81.0 77.3h0.75M54.4 66.2h0.75M82.4 65.8h0.75M89.0 90.3h0.75M66.2 73.7h0.75M71.2 78.0h0.75M56.2 57.1h0.75M99.8 87.2h0.75M87.9 82.2h0.75M84.6 60.7h0.75M70.5 99.9h0.75M91.8 93.7h0.75M86.7 78.6h0.75M77.0 72.7h0.75M82.3 73.7h0.75M72.1 101.2h0.75M73.2 99.9h0.75M81.0 80.1h0.75M75.8 86.5h0.75M93.0 75.1h0.75M78.0 81.8h0.75M67.6 107.3h0.75M41.5 105.2h0.75M88.3 88.2h0.75M89.0 92.6h0.75M46.6 55.2h0.75M81.7 75.2h0.75M78.2 80.1h0.75M67.5 71.4h0.75M101.0 91.4h0.75M41.9 64.5h0.75M79.7 93.3h0.75M84.4 73.1h0.75M67.1 74.8h0.75M75.6 86.3h0.75M75.1 68.7h0.75M82.9 93.0h0.75M51.2 66.3h0.75M88.6 91.5h0.75M40.7 83.7h0.75M85.3 64.6h0.75M92.8 96.2h0.75M66.5 58.1h0.75M39.1 104.9h0.75M43.6 57.7h0.75M75.6 78.1h0.75M49.1 70.2h0.75M64.8 69.7h0.75M79.8 59.4h0.75M87.7 64.9h0.75M56.8 107.6h0.75M41.6 57.1h0.75M89.4 85.5h0.75M77.3 74.2h0.75M55.0 108.8h0.75M90.1 83.8h0.75M85.4 92.3h0.75M84.0 72.5h0.75M62.7 102.5h0.75M93.6 62.1h0.75M71.8 81.0h0.75M41.4 103.0h0.75M96.7 94.7h0.75M69.2 76.1h0.75M37.1 89.8h0.75M76.9 75.0h0.75M82.6 84.7h0.75M81.8 70.8h0.75M83.6 74.8h0.75M85.4 80.1h0.75M77.0 72.3h0.75M48.1 65.4h0.75M50.1 70.2h0.75M93.6 87.0h0.75M98.7 65.6h0.75M75.0 81.8h0.75M55.6 107.9h0.75M54.1 65.3h0.75M83.0 89.6h0.75M64.1 53.8h0.75M96.3 93.6h0.75M51.9 71.4h0.75M55.8 110.6h0.75M100.3 64.9h0.75M90.5 85.0h0.75M61.5 103.1h0.75M74.7 92.0h0.75M80.4 77.7h0.75M80.8 74.9h0.75M53.2 67.0h0.75M95.5 93.0h0.75M77.3 92.7h0.75M77.5 82.1h0.75M37.9 100.8h0.75M41.1 73.7h0.75M86.8 92.5h0.75M68.3 99.7h0.75M85.3 75.4h0.75M37.2 85.8h0.75M61.3 102.7h0.75M93.6 94.8h0.75M94.3 77.0h0.75M90.8 82.3h0.75M77.3 86.6h0.75M42.4 106.4h0.75M49.9 54.6h0.75M84.5 92.6h0.75M97.3 92.6h0.75M87.6 88.9h0.75M94.8 78.8h0.75M74.3 84.2h0.75M77.8 83.7h0.75M39.7 58.4h0.75M42.6 107.2h0.75M41.4 67.2h0.75M88.8 68.5h0.75M90.9 99.3h0.75M81.5 72.7h0.75M61.9 54.8h0.75M91.6 66.4h0.75M102.7 91.2h0.75M77.7 73.2h0.75M82.8 68.2h0.75M87.6 79.3h0.75M56.6 107.2h0.75M67.2 58.7h0.75M97.2 93.8h0.75M95.6 84.8h0.75M74.1 59.2h0.75M75.0 89.5h0.75M84.3 81.4h0.75M79.6 93.5h0.75M82.0 81.2h0.75M70.2 75.2h0.75M74.8 75.8h0.75M76.1 83.7h0.75M52.2 109.0h0.75M52.2 57.5h0.75M68.2 101.9h0.75M43.7 106.2h0.75M93.6 97.8h0.75M58.7 56.4h0.75M62.0 103.8h0.75M92.4 59.8h0.75M80.1 73.6h0.75M77.0 84.7h0.75M74.2 77.1h0.75M39.8 76.0h0.75M39.0 88.8h0.75M42.6 106.9h0.75M83.9 85.2h0.75M66.7 67.7h0.75M50.1 73.3h0.75M42.4 107.1h0.75M62.8 100.9h0.75M74.2 71.9h0.75M65.4 92.7h0.75M49.2 68.3h0.75M99.3 62.1h0.75M63.1 106.0h0.75M81.8 65.4h0.75M85.0 85.5h0.75M76.0 85.9h0.75M73.6 83.2h0.75M76.6 102.5h0.75M74.7 78.7h0.75M82.0 87.2h0.75M76.3 74.4h0.75M37.9 99.0h0.75M79.6 86.7h0.75M81.4 65.8h0.75M90.2 86.9h0.75M82.5 71.4h0.75M40.6 57.6h0.75M41.7 76.8h0.75M51.2 72.1h0.75M39.1 85.1h0.75M99.6 66.1h0.75M77.3 74.0h0.75M94.5 88.1h0.75M97.3 87.0h0.75M86.5 85.9h0.75M76.9 82.7h0.75M65.3 90.8h0.75M52.8 67.7h0.75M76.5 82.1h0.75M44.5 107.3h0.75M58.6 108.7h0.75M99.0 88.1h0.75M88.7 90.8h0.75M52.0 71.7h0.75M39.9 105.5h0.75M39.7 75.3h0.75M64.9 107.2h0.75M85.3 75.1h0.75M37.7 92.6h0.75M52.9 109.5h0.75M80.0 86.4h0.75M45.2 108.0h0.75M72.6 73.7h0.75M86.7 80.9h0.75M50.7 111.9h0.75M62.3 56.1h0.75M79.1 82.9h0.75M81.1 68.7h0.75M87.5 78.4h0.75M97.7 91.1h0.75M92.0 99.9h0.75M66.4 66.1h0.75M77.9 55.5h0.75M76.6 78.1h0.75M50.2 68.2h0.75M41.7 77.4h0.75M64.3 71.0h0.75M87.4 80.9h0.75M96.8 89.0h0.75M91.4 80.9h0.75M78.8 78.9h0.75M40.7 60.0h0.75M75.9 81.1h0.75M80.9 74.4h0.75M68.3 71.4h0.75M80.1 92.4h0.75M86.0 83.5h0.75M80.7 57.0h0.75M96.0 69.9h0.75M80.9 84.5h0.75M88.6 77.9h0.75M64.8 105.6h0.75M102.1 87.3h0.75M71.0 58.9h0.75M71.5 79.8h0.75M74.1 101.2h0.75M72.9 81.6h0.75M53.4 108.1h0.75M85.6 63.7h0.75M97.8 87.2h0.75M89.0 92.4h0.75M95.6 62.3h0.75M75.3 84.7h0.75M50.8 66.0h0.75M79.3 75.3h0.75M94.7 68.5h0.75M91.5 96.9h0.75M78.6 74.4h0.75M65.6 89.5h0.75M52.3 70.3h0.75M48.5 67.6h0.75M95.8 98.9h0.75M64.2 55.9h0.75M99.9 91.4h0.75M75.5 64.8h0.75M100.1 66.0h0.75M75.1 92.1h0.75M89.2 64.3h0.75M92.4 66.9h0.75M89.5 92.4h0.75M92.6 92.9h0.75M87.9 75.7h0.75M92.7 63.7h0.75M86.3 101.9h0.75M69.5 70.8h0.75M93.8 85.4h0.75M95.3 84.6h0.75M90.4 79.1h0.75M70.5 74.8h0.75M91.9 80.2h0.75M80.0 82.2h0.75M81.2 70.1h0.75M78.8 77.4h0.75M80.7 84.1h0.75M67.8 68.9h0.75M42.4 70.1h0.75M95.3 65.3h0.75M64.9 101.9h0.75M90.4 79.5h0.75M96.4 88.9h0.75M72.7 74.4h0.75M72.1 79.1h0.75M54.3 57.1h0.75M76.8 100.3h0.75M87.8 103.7h0.75M61.0 103.8h0.75M78.5 92.6h0.75M95.4 80.8h0.75M69.3 69.2h0.75M87.2 68.4h0.75M75.6 83.5h0.75M87.4 77.5h0.75M85.9 76.2h0.75M80.1 85.0h0.75M74.7 69.2h0.75M76.3 94.1h0.75M53.5 54.4h0.75M40.8 85.0h0.75M82.6 72.7h0.75M81.9 90.1h0.75M66.2 69.7h0.75M75.6 82.5h0.75M82.6 57.5h0.75M87.4 88.5h0.75M102.4 88.2h0.75M79.9 68.0h0.75M36.7 86.6h0.75M86.6 87.8h0.75M36.7 89.9h0.75M38.1 102.9h0.75M68.1 93.3h0.75M89.6 85.6h0.75M67.2 70.9h0.75M67.4 74.7h0.75M80.0 100.9h0.75M83.8 59.5h0.75M80.3 83.7h0.75M38.5 92.4h0.75M75.5 87.2h0.75M92.4 64.3h0.75M74.4 90.4h0.75M40.0 76.5h0.75M48.4 65.5h0.75M98.6 95.5h0.75M76.4 89.2h0.75M68.2 104.1h0.75M90.7 89.5h0.75M81.0 79.3h0.75M61.7 104.1h0.75M78.2 55.2h0.75M93.7 90.5h0.75M89.3 63.6h0.75M70.3 64.6h0.75M76.4 77.8h0.75M39.4 83.0h0.75M41.5 60.9h0.75M45.4 109.5h0.75M73.8 71.7h0.75M98.6 69.2h0.75M78.2 67.0h0.75M75.4 58.0h0.75M91.1 94.0h0.75M41.5 74.5h0.75M73.7 75.5h0.75M91.7 89.6h0.75M90.4 88.7h0.75M94.9 85.9h0.75M38.2 87.8h0.75M62.4 55.9h0.75M95.5 98.3h0.75M98.2 87.1h0.75M51.3 65.2h0.75M86.4 92.3h0.75M85.7 78.1h0.75M89.8 100.4h0.75M44.9 108.5h0.75M75.9 78.0h0.75M82.5 92.2h0.75M78.0 81.3h0.75M79.4 85.8h0.75M73.4 74.7h0.75M40.4 75.6h0.75M60.9 105.8h0.75M72.8 92.7h0.75M88.5 100.8h0.75M75.3 72.2h0.75M67.1 104.3h0.75M90.1 85.2h0.75M91.6 93.7h0.75M50.0 110.2h0.75M73.8 70.3h0.75M39.5 79.9h0.75M71.8 78.7h0.75M69.5 73.0h0.75M79.8 68.2h0.75M66.8 72.2h0.75M87.6 87.5h0.75M101.8 88.5h0.75M84.8 61.1h0.75M38.2 98.0h0.75M93.9 96.5h0.75M70.0 66.7h0.75M81.4 90.0h0.75M75.3 75.8h0.75M74.4 65.3h0.75M67.3 74.8h0.75M81.4 75.6h0.75M71.6 72.4h0.75M91.5 60.0h0.75M61.8 56.1h0.75M84.4 79.0h0.75M77.3 93.1h0.75M91.3 87.2h0.75M101.7 94.7h0.75M44.3 107.7h0.75M76.6 88.0h0.75M93.3 100.4h0.75M77.1 71.0h0.75M77.7 85.8h0.75M66.2 93.9h0.75M60.9 54.1h0.75M74.1 84.3h0.75M53.6 110.3h0.75M78.2 85.7h0.75M79.2 66.3h0.75M53.8 56.4h0.75M78.1 84.3h0.75M72.9 94.0h0.75M94.9 95.5h0.75M96.4 61.0h0.75M78.8 92.0h0.75M37.5 84.8h0.75M83.6 90.5h0.75M74.8 75.4h0.75M66.8 103.9h0.75M69.6 72.7h0.75M75.8 94.1h0.75M97.4 88.5h0.75M89.7 57.8h0.75M93.3 86.2h0.75M77.2 88.5h0.75M51.9 71.6h0.75M78.4 71.0h0.75M93.8 90.0h0.75M68.2 69.6h0.75M90.0 100.0h0.75M74.9 68.2h0.75M77.3 90.7h0.75M79.7 92.7h0.75M92.0 100.3h0.75M82.1 83.5h0.75M76.9 89.8h0.75M66.6 54.6h0.75M75.1 76.1h0.75M78.5 55.2h0.75M77.2 92.9h0.75M41.0 61.7h0.75M74.3 80.2h0.75M49.6 68.8h0.75M65.5 104.8h0.75M92.4 86.5h0.75M81.2 85.3h0.75M76.4 77.2h0.75M68.1 72.5h0.75M90.6 63.8h0.75M87.4 82.0h0.75M38.2 91.9h0.75M85.5 63.8h0.75M80.5 78.1h0.75M85.5 91.4h0.75M70.8 59.6h0.75M50.4 73.6h0.75M101.5 89.4h0.75M63.8 90.5h0.75M75.0 86.2h0.75M75.0 79.1h0.75M77.3 73.6h0.75M84.8 76.7h0.75M80.6 101.3h0.75M66.2 93.4h0.75M82.3 86.8h0.75M60.2 106.7h0.75M81.9 100.3h0.75M70.2 99.6h0.75M68.0 93.7h0.75M77.9 81.4h0.75M89.0 81.8h0.75M76.9 94.0h0.75M100.5 60.8h0.75M70.0 64.5h0.75M65.8 105.7h0.75M84.2 86.1h0.75M80.8 80.8h0.75M73.2 80.8h0.75M58.2 107.4h0.75M37.3 96.8h0.75M50.2 66.3h0.75M97.3 62.3h0.75M86.0 86.1h0.75M75.2 80.0h0.75M80.7 92.1h0.75M51.4 110.4h0.75M56.2 107.0h0.75M40.4 79.1h0.75M50.1 74.2h0.75M67.7 55.7h0.75M68.2 70.8h0.75M70.1 73.3h0.75M84.1 68.0h0.75M43.9 106.6h0.75M84.8 63.9h0.75M89.1 63.3h0.75M80.5 101.0h0.75M65.5 71.6h0.75M98.7 97.9h0.75M52.9 64.8h0.75M91.2 92.4h0.75M92.6 91.0h0.75M77.1 100.3h0.75M70.7 73.9h0.75M90.6 82.7h0.75M37.1 92.8h0.75M82.3 84.0h0.75M98.6 61.5h0.75M70.3 94.3h0.75M87.2 93.1h0.75M71.9 101.4h0.75M82.7 83.5h0.75M69.5 78.5h0.75M72.8 92.2h0.75M52.4 108.3h0.75M38.1 101.9h0.75M86.1 92.0h0.75M77.6 83.4h0.75M79.3 100.0h0.75M77.5 74.9h0.75M77.2 68.3h0.75M71.1 100.0h0.75M71.8 99.9h0.75M49.8 70.6h0.75M76.8 93.8h0.75M74.9 101.4h0.75M80.0 59.0h0.75M49.0 64.5h0.75M92.2 92.8h0.75M78.6 82.6h0.75M54.0 57.1h0.75" stroke="#aaa" stroke-width="0.75" fill="none"/>
<path d="M52.6,107.4 L52.1,107.5 L51.6,107.6 L51.1,107.6 L50.6,107.7 L50.1,107.7 L49.6,107.7 L49.1,107.6 L48.6,107.6 L48.1,107.6 L47.6,107.5 L47.3,107.4 L46.8,107.3 L46.3,107.2 L46.1,107.1 L45.8,106.9 L45.3,106.7 L45.1,106.5 L44.8,106.3 L44.6,106.1 L44.3,105.9 L44.1,105.7 L43.8,105.4 L43.6,105.2 L43.3,104.9 L43.1,104.6 L42.8,104.4 L42.6,104.1 L42.3,103.8 L42.1,103.5 L41.8,103.2 L41.6,102.9 L41.4,102.7 L41.2,102.4 L41.0,102.2 L40.8,101.9 L40.5,101.5 L40.4,101.2 L40.2,100.9 L40.0,100.7 L39.8,100.2 L39.7,99.9 L39.5,99.7 L39.3,99.2 L39.2,98.9 L39.0,98.4 L39.0,98.2 L38.8,97.7 L38.7,97.4 L38.6,96.9 L38.5,96.5 L38.5,96.2 L38.4,95.7 L38.4,95.2 L38.3,94.7 L38.3,94.2 L38.3,93.7 L38.3,93.2 L38.4,92.6 L38.4,92.1 L38.5,91.6 L38.6,91.4 L38.7,90.9 L38.8,90.4 L38.8,90.1 L39.0,89.6 L39.1,89.4 L39.2,88.9 L39.3,88.6 L39.5,88.1 L39.6,87.9 L39.8,87.4 L39.9,87.1 L40.0,86.7 L40.2,86.4 L40.3,86.1 L40.4,85.6 L40.5,85.3 L40.7,84.9 L40.8,84.5 L40.9,84.1 L41.0,83.6 L41.1,83.4 L41.2,82.9 L41.3,82.4 L41.3,82.1 L41.4,81.6 L41.4,81.1 L41.5,80.6 L41.6,80.2 L41.6,79.9 L41.6,79.4 L41.7,78.9 L41.8,78.4 L41.8,77.9 L41.8,77.6 L41.9,77.1 L41.9,76.6 L42.0,76.1 L42.0,75.6 L42.1,75.1 L42.1,74.9 L42.1,74.4 L42.1,73.9 L42.2,73.4 L42.2,72.9 L42.2,72.4 L42.2,71.8 L42.2,71.3 L42.2,70.8 L42.2,70.3 L42.2,69.8 L42.2,69.3 L42.2,68.8 L42.2,68.3 L42.2,67.8 L42.2,67.3 L42.2,66.8 L42.2,66.3 L42.2,65.8 L42.2,65.3 L42.2,64.8 L42.2,64.3 L42.2,63.8 L42.2,63.3 L42.2,62.8 L42.2,62.3 L42.2,61.8 L42.1,61.3 L41.9,61.1 L41.8,60.8 L41.6,60.3 L41.6,59.9 L41.6,59.7 L41.6,59.3 L41.7,58.8 L41.9,58.6 L42.1,58.3 L42.3,58.0 L42.6,57.8 L42.8,57.6 L43.3,57.3 L43.6,57.2 L44.1,57.1 L44.6,57.1 L45.1,57.1 L45.6,57.1 L46.1,57.1 L46.6,57.1 L47.1,57.1 L47.6,57.1 L48.1,57.1 L48.6,57.1 L49.1,57.1 L49.6,57.1 L50.1,57.1 L50.6,57.1 L51.1,57.1 L51.6,57.1 L52.1,57.1 L52.6,57.1 L53.1,57.1 L53.6,57.1 L54.1,57.1 L54.6,57.1 L55.1,57.1 L55.6,57.1 L55.8,57.1 L56.3,57.1 L56.8,57.0 L57.3,57.0 L57.8,57.0 L58.3,57.0 L58.8,57.0 L59.3,57.0 L59.8,57.0 L60.3,57.0 L60.8,57.0 L61.3,57.0 L61.8,57.0 L62.4,57.0 L62.9,57.0 L63.4,57.0 L63.9,57.0 L64.4,57.0 L64.7,57.1 L65.1,57.2 L65.5,57.3 L65.9,57.5 L66.1,57.6 L66.4,57.8 L66.7,58.1 L66.9,58.3 L67.1,58.6 L67.4,58.9 L67.6,59.1 L68.1,59.1 L68.6,59.2 L69.1,59.2 L69.6,59.2 L70.1,59.3 L70.6,59.3 L71.1,59.3 L71.4,59.3 L71.9,59.3 L72.4,59.4 L72.9,59.4 L73.4,59.4 L73.9,59.4 L74.4,59.4 L74.9,59.3 L75.3,59.3 L75.6,59.3 L76.1,59.3 L76.6,59.2 L77.1,59.2 L77.6,59.2 L78.1,59.2 L78.6,59.1 L79.1,59.1 L79.6,59.2 L80.1,59.2 L80.6,59.2 L81.1,59.3 L81.6,59.3 L81.9,59.3 L82.4,59.4 L82.9,59.6 L83.2,59.6 L83.6,59.8 L83.9,60.0 L84.2,60.1 L84.5,60.3 L84.8,60.6 L85.0,60.8 L85.2,61.1 L85.4,61.5 L85.5,61.8 L85.4,62.2 L85.3,62.6 L85.1,62.8 L84.9,63.1 L84.6,63.3 L84.2,63.6 L83.9,63.8 L83.7,63.9 L83.2,64.1 L82.9,64.1 L82.4,64.3 L81.9,64.3 L81.6,64.4 L81.1,64.4 L80.6,64.4 L80.1,64.4 L79.6,64.3 L79.4,64.3 L78.9,64.3 L78.4,64.3 L77.9,64.3 L77.4,64.3 L76.9,64.2 L76.4,64.2 L75.9,64.2 L75.4,64.2 L74.9,64.1 L74.4,64.1 L73.9,64.1 L73.6,64.1 L73.1,64.1 L72.6,64.0 L72.1,64.0 L71.6,64.0 L71.1,64.0 L70.6,64.0 L70.1,64.0 L69.6,64.0 L69.1,64.0 L68.6,64.1 L68.1,64.1 L67.6,64.1 L67.1,64.1 L66.9,64.1 L66.4,64.1 L66.0,64.3 L65.9,64.6 L65.6,65.1 L65.5,65.3 L65.4,65.7 L65.2,66.1 L65.0,66.3 L64.9,66.7 L64.6,67.1 L64.5,67.3 L64.4,67.6 L64.1,68.0 L63.9,68.3 L63.8,68.6 L63.6,68.9 L63.4,69.2 L63.1,69.6 L63.4,69.9 L63.6,70.2 L63.9,70.5 L64.1,70.8 L64.3,71.1 L64.5,71.3 L64.7,71.6 L64.9,71.8 L65.1,72.1 L65.4,72.4 L65.6,72.7 L65.9,73.0 L66.1,73.4 L66.3,73.6 L66.5,73.9 L66.7,74.1 L66.9,74.4 L67.1,74.7 L67.4,75.0 L67.6,75.4 L67.8,75.6 L68.0,75.9 L68.1,76.1 L68.4,76.4 L68.6,76.8 L68.9,77.1 L69.1,77.4 L69.2,77.6 L69.4,77.9 L69.6,78.1 L69.9,78.5 L70.1,78.8 L70.3,79.1 L70.5,79.4 L70.7,79.6 L70.9,79.9 L71.1,80.2 L71.4,80.6 L71.6,80.9 L71.8,81.1 L71.9,81.4 L72.1,81.6 L72.4,82.0 L72.6,82.3 L72.9,82.6 L73.0,82.9 L73.2,83.1 L73.4,83.4 L73.6,83.7 L73.9,84.0 L74.1,84.4 L74.3,84.6 L74.5,84.9 L74.7,85.1 L74.9,85.4 L75.1,85.9 L75.2,86.1 L75.3,86.6 L75.4,87.1 L75.4,87.6 L75.3,88.1 L75.2,88.6 L75.1,88.9 L74.9,89.3 L74.7,89.6 L74.5,89.9 L74.3,90.1 L74.0,90.4 L73.7,90.6 L73.4,90.9 L73.1,91.0 L72.9,91.2 L72.4,91.4 L72.1,91.4 L71.6,91.5 L71.1,91.6 L70.6,91.5 L70.1,91.5 L69.9,91.4 L69.4,91.2 L69.1,91.1 L68.7,90.9 L68.4,90.6 L68.1,90.4 L67.9,90.2 L67.6,90.0 L67.4,89.8 L67.1,89.6 L66.7,89.4 L66.4,89.2 L66.1,89.1 L65.6,89.0 L65.1,89.0 L64.8,89.1 L64.4,89.4 L64.2,89.6 L64.1,89.9 L63.9,90.3 L63.7,90.6 L63.6,91.1 L63.7,91.6 L63.9,92.0 L64.1,92.4 L64.3,92.6 L64.6,92.9 L64.9,93.1 L65.1,93.2 L65.6,93.4 L65.9,93.5 L66.4,93.6 L66.6,93.7 L67.1,93.7 L67.6,93.8 L68.1,93.8 L68.6,93.9 L69.1,93.9 L69.6,93.9 L69.9,93.9 L70.4,93.9 L70.9,93.9 L71.4,93.9 L71.9,93.9 L72.4,93.9 L72.7,93.9 L73.1,93.9 L73.6,93.9 L74.1,93.9 L74.6,93.8 L75.1,93.8 L75.6,93.8 L76.1,93.8 L76.6,93.8 L77.1,93.7 L77.6,93.7 L78.1,93.7 L78.4,93.7 L78.9,93.6 L79.4,93.6 L79.9,93.5 L80.4,93.5 L80.9,93.5 L81.4,93.4 L81.8,93.4 L82.1,93.4 L82.6,93.3 L83.2,93.3 L83.7,93.2 L84.2,93.2 L84.5,93.2 L84.9,93.1 L85.4,93.1 L85.9,93.0 L86.4,93.0 L86.9,92.9 L87.3,92.9 L87.7,92.9 L88.2,92.8 L88.7,92.9 L88.9,92.9 L89.4,93.0 L89.7,93.2 L90.1,93.4 L90.4,93.6 L90.7,93.9 L90.9,94.1 L91.1,94.4 L91.2,94.7 L91.4,95.0 L91.5,95.4 L91.6,95.9 L91.7,96.4 L91.6,96.9 L91.5,97.4 L91.4,97.7 L91.2,98.1 L91.0,98.4 L90.8,98.7 L90.5,98.9 L90.2,99.2 L89.9,99.4 L89.7,99.5 L89.3,99.7 L88.9,99.8 L88.4,99.9 L87.9,99.9 L87.4,99.9 L86.9,99.8 L86.4,99.8 L85.9,99.8 L85.4,99.8 L84.9,99.7 L84.4,99.7 L83.9,99.7 L83.6,99.7 L83.2,99.6 L82.6,99.6 L82.1,99.6 L81.6,99.6 L81.1,99.5 L80.6,99.5 L80.1,99.5 L79.6,99.4 L79.1,99.4 L78.9,99.4 L78.4,99.4 L77.9,99.4 L77.4,99.4 L76.9,99.3 L76.4,99.3 L75.9,99.3 L75.4,99.3 L74.9,99.3 L74.4,99.2 L73.9,99.2 L73.4,99.2 L72.9,99.2 L72.4,99.2 L71.9,99.2 L71.4,99.2 L70.9,99.2 L70.4,99.2 L69.9,99.2 L69.4,99.2 L68.9,99.2 L68.4,99.2 L67.9,99.3 L67.4,99.3 L66.9,99.3 L66.4,99.4 L65.9,99.4 L65.6,99.4 L65.1,99.5 L64.6,99.6 L64.2,99.7 L63.9,99.8 L63.4,99.9 L63.1,100.0 L62.7,100.2 L62.4,100.4 L62.1,100.6 L61.8,100.7 L61.6,101.0 L61.3,101.2 L61.1,101.5 L60.8,101.9 L60.6,102.2 L60.5,102.4 L60.3,102.7 L60.1,103.1 L59.9,103.4 L59.8,103.7 L59.6,103.9 L59.3,104.2 L59.1,104.5 L58.8,104.7 L58.6,104.9 L58.3,105.2 L57.9,105.4 L57.6,105.6 L57.3,105.8 L57.1,105.9 L56.6,106.2 L56.3,106.3 L56.0,106.4 L55.6,106.6 L55.3,106.7 L54.8,106.9 L54.6,107.0 L54.1,107.1 L53.8,107.2 L53.3,107.3 L52.8,107.4 L52.6,107.4Z" fill="none" stroke="#2a2a2a" stroke-width="0.55"/>
<path d="M51.0,73.9 L51.2,73.6 L51.4,73.4 L51.6,73.1 L51.8,72.6 L51.9,72.4 L52.1,71.9 L52.2,71.6 L52.3,71.1 L52.4,70.8 L52.6,70.4 L52.7,70.1 L52.8,69.8 L53.0,69.3 L53.2,69.1 L53.3,68.8 L53.6,68.5 L53.8,68.2 L54.1,67.9 L54.3,67.7 L54.6,67.5 L54.8,67.1 L55.0,66.8 L55.1,66.6 L55.3,66.3 L55.6,65.9 L55.7,65.6 L55.9,65.3 L56.1,65.0 L56.1,64.7 L55.6,64.6 L55.3,64.6 L54.8,64.5 L54.3,64.4 L54.1,64.3 L53.7,64.1 L53.3,63.9 L53.1,63.7 L52.8,63.4 L52.6,63.1 L52.3,63.0 L51.8,63.0 L51.3,62.9 L50.8,62.9 L50.3,62.8 L50.1,62.8 L49.6,62.8 L49.1,62.8 L48.6,62.7 L48.1,62.7 L48.0,63.1 L48.0,63.6 L48.0,64.1 L48.0,64.6 L48.1,65.1 L48.1,65.3 L48.1,65.8 L48.1,66.3 L48.1,66.8 L48.2,67.3 L48.2,67.8 L48.2,68.3 L48.3,68.8 L48.3,69.1 L48.4,69.6 L48.5,70.1 L48.5,70.6 L48.6,70.8 L48.7,71.3 L48.8,71.7 L49.0,72.1 L49.1,72.4 L49.3,72.9 L49.5,73.1 L49.7,73.4 L50.0,73.6 L50.3,73.8 L50.6,73.9 L51.0,73.9Z" fill="none" stroke="#2a2a2a" stroke-width="0.55"/>
<path d="M51.3,106.4 L50.8,106.5 L50.3,106.5 L49.8,106.5 L49.3,106.5 L49.1,106.4 L48.6,106.4 L48.1,106.3 L47.6,106.2 L47.3,106.1 L46.8,106.0 L46.6,105.9 L46.2,105.7 L45.8,105.5 L45.6,105.3 L45.3,105.2 L45.0,104.9 L44.7,104.7 L44.4,104.4 L44.1,104.2 L43.8,103.9 L43.6,103.7 L43.3,103.4 L43.1,103.2 L42.8,102.9 L42.6,102.7 L42.4,102.4 L42.2,102.2 L42.0,101.9 L41.8,101.7 L41.6,101.4 L41.3,101.0 L41.1,100.7 L40.9,100.4 L40.8,100.2 L40.5,99.8 L40.4,99.4 L40.3,99.2 L40.0,98.7 L39.9,98.4 L39.8,98.0 L39.7,97.7 L39.5,97.2 L39.5,96.9 L39.4,96.4 L39.3,95.9 L39.3,95.7 L39.2,95.2 L39.2,94.7 L39.2,94.2 L39.2,93.7 L39.2,93.2 L39.2,92.6 L39.3,92.2 L39.3,91.9 L39.4,91.4 L39.5,90.9 L39.6,90.6 L39.7,90.1 L39.8,89.9 L40.0,89.4 L40.1,89.1 L40.2,88.6 L40.3,88.4 L40.5,87.9 L40.6,87.6 L40.8,87.2 L40.9,86.9 L41.1,86.6 L41.2,86.1 L41.3,85.9 L41.5,85.4 L41.6,85.1 L41.7,84.6 L41.8,84.3 L41.9,83.9 L42.0,83.4 L42.1,83.1 L42.2,82.6 L42.3,82.1 L42.3,81.9 L42.4,81.4 L42.4,80.9 L42.5,80.4 L42.6,80.0 L42.6,79.6 L42.7,79.1 L42.7,78.6 L42.8,78.1 L42.8,77.9 L42.9,77.4 L43.0,76.9 L43.0,76.4 L43.1,76.0 L43.1,75.6 L43.1,75.1 L43.2,74.6 L43.2,74.1 L43.3,73.6 L43.3,73.2 L43.3,72.9 L43.4,72.4 L43.4,71.8 L43.4,71.3 L43.4,70.8 L43.4,70.3 L43.4,69.8 L43.5,69.3 L43.5,68.8 L43.5,68.3 L43.5,67.8 L43.5,67.3 L43.5,66.8 L43.5,66.3 L43.5,65.8 L43.5,65.3 L43.5,64.8 L43.4,64.3 L43.4,63.8 L43.4,63.3 L43.4,62.8 L43.4,62.3 L43.4,61.8 L43.4,61.3 L43.3,60.9 L43.1,60.6 L43.0,60.3 L42.9,59.8 L42.9,59.3 L43.1,59.1 L43.3,58.8 L43.6,58.6 L44.1,58.3 L44.3,58.3 L44.8,58.3 L45.3,58.3 L45.8,58.3 L46.3,58.3 L46.8,58.3 L47.3,58.3 L47.8,58.3 L48.3,58.3 L48.8,58.3 L49.3,58.3 L49.8,58.3 L50.3,58.3 L50.8,58.3 L51.3,58.3 L51.8,58.3 L52.3,58.3 L52.8,58.3 L53.3,58.3 L53.8,58.2 L54.3,58.2 L54.8,58.2 L55.3,58.2 L55.8,58.2 L56.3,58.2 L56.8,58.2 L57.3,58.2 L57.8,58.1 L58.3,58.1 L58.8,58.1 L59.3,58.1 L59.8,58.1 L60.3,58.1 L60.8,58.1 L61.3,58.1 L61.8,58.1 L62.4,58.1 L62.9,58.1 L63.4,58.1 L63.9,58.1 L64.4,58.1 L64.9,58.3 L65.1,58.4 L65.5,58.6 L65.8,58.8 L66.0,59.1 L66.2,59.3 L66.4,59.7 L66.6,59.9 L67.1,59.9 L67.6,59.9 L68.1,60.0 L68.6,60.0 L69.1,60.0 L69.6,60.1 L69.9,60.1 L70.4,60.1 L70.9,60.1 L71.4,60.2 L71.9,60.2 L72.4,60.2 L72.9,60.2 L73.4,60.2 L73.9,60.2 L74.4,60.2 L74.9,60.2 L75.4,60.2 L75.9,60.2 L76.4,60.2 L76.9,60.1 L77.4,60.1 L77.9,60.1 L78.4,60.1 L78.9,60.1 L79.4,60.1 L79.9,60.1 L80.4,60.2 L80.9,60.2 L81.4,60.2 L81.9,60.3 L82.1,60.4 L82.6,60.6 L82.9,60.7 L83.2,60.8 L83.4,61.1 L83.7,61.4 L83.8,61.8 L83.7,62.3 L83.6,62.6 L83.3,62.8 L83.0,63.1 L82.6,63.3 L82.4,63.3 L81.9,63.5 L81.4,63.5 L80.9,63.6 L80.4,63.5 L79.9,63.5 L79.4,63.5 L78.9,63.5 L78.4,63.4 L77.9,63.4 L77.4,63.4 L76.9,63.4 L76.4,63.3 L76.1,63.3 L75.6,63.3 L75.1,63.2 L74.6,63.2 L74.1,63.2 L73.6,63.1 L73.1,63.1 L72.6,63.1 L72.2,63.1 L71.9,63.1 L71.4,63.1 L70.9,63.0 L70.4,63.0 L69.9,63.0 L69.4,63.0 L68.9,63.0 L68.4,63.0 L67.9,63.0 L67.4,63.0 L66.9,63.0 L66.4,63.0 L65.9,63.0 L65.4,63.0 L64.9,63.1 L64.8,63.3 L64.6,63.6 L64.4,64.1 L64.2,64.3 L64.1,64.6 L63.9,65.0 L63.7,65.3 L63.6,65.6 L63.4,65.9 L63.1,66.3 L63.0,66.6 L62.8,66.8 L62.6,67.2 L62.4,67.6 L62.2,67.8 L62.1,68.1 L61.8,68.4 L61.6,68.8 L61.4,69.1 L61.2,69.3 L61.1,69.6 L60.8,70.0 L60.7,70.3 L61.0,70.6 L61.2,70.8 L61.4,71.1 L61.6,71.4 L61.8,71.7 L62.1,72.0 L62.4,72.3 L62.6,72.6 L62.8,72.9 L63.0,73.1 L63.2,73.4 L63.4,73.6 L63.6,73.9 L63.9,74.1 L64.1,74.4 L64.4,74.8 L64.6,75.1 L64.8,75.4 L65.0,75.6 L65.2,75.9 L65.4,76.1 L65.6,76.4 L65.9,76.8 L66.1,77.1 L66.3,77.4 L66.5,77.6 L66.7,77.9 L66.9,78.1 L67.1,78.5 L67.4,78.8 L67.6,79.1 L67.7,79.4 L67.9,79.6 L68.1,79.9 L68.4,80.3 L68.6,80.6 L68.8,80.9 L69.0,81.1 L69.2,81.4 L69.4,81.7 L69.6,82.0 L69.9,82.4 L70.0,82.6 L70.2,82.9 L70.4,83.1 L70.6,83.4 L70.9,83.8 L71.1,84.1 L71.3,84.4 L71.5,84.6 L71.7,84.9 L71.9,85.2 L72.1,85.5 L72.4,85.8 L72.6,86.1 L72.8,86.4 L73.0,86.6 L73.1,87.0 L73.2,87.4 L73.2,87.9 L73.1,88.4 L73.0,88.6 L72.9,88.9 L72.6,89.2 L72.4,89.4 L72.0,89.6 L71.6,89.8 L71.1,89.9 L70.6,89.8 L70.1,89.6 L69.9,89.5 L69.6,89.3 L69.4,89.1 L69.1,88.8 L68.9,88.6 L68.6,88.4 L68.4,88.1 L68.1,87.9 L67.8,87.6 L67.4,87.4 L67.1,87.1 L66.9,87.0 L66.6,86.8 L66.3,86.6 L65.9,86.4 L65.6,86.3 L65.3,86.1 L64.9,86.0 L64.4,86.0 L63.9,86.1 L63.6,86.2 L63.4,86.4 L63.1,86.8 L62.9,87.1 L62.8,87.4 L62.7,87.9 L62.6,88.3 L62.5,88.6 L62.4,89.1 L62.4,89.6 L62.3,89.9 L62.3,90.4 L62.3,90.9 L62.3,91.4 L62.3,91.9 L62.4,92.1 L62.6,92.6 L62.7,92.9 L62.9,93.2 L63.1,93.5 L63.4,93.7 L63.6,93.9 L64.0,94.2 L64.4,94.3 L64.6,94.4 L65.1,94.6 L65.4,94.7 L65.9,94.8 L66.3,94.9 L66.6,95.0 L67.1,95.0 L67.6,95.1 L68.1,95.1 L68.6,95.1 L69.1,95.2 L69.4,95.2 L69.9,95.2 L70.4,95.2 L70.9,95.2 L71.4,95.2 L71.9,95.2 L72.4,95.2 L72.9,95.2 L73.3,95.2 L73.6,95.1 L74.1,95.1 L74.6,95.1 L75.1,95.1 L75.6,95.1 L76.1,95.1 L76.6,95.0 L77.1,95.0 L77.6,95.0 L78.1,95.0 L78.6,95.0 L79.1,94.9 L79.5,94.9 L79.9,94.9 L80.4,94.9 L80.9,94.8 L81.4,94.8 L81.9,94.8 L82.4,94.7 L82.9,94.7 L83.4,94.7 L83.7,94.7 L84.2,94.6 L84.7,94.6 L85.2,94.6 L85.7,94.5 L86.2,94.5 L86.7,94.5 L87.2,94.4 L87.7,94.4 L88.2,94.4 L88.7,94.5 L89.1,94.7 L89.4,94.8 L89.7,95.0 L89.9,95.3 L90.1,95.7 L90.2,95.9 L90.3,96.4 L90.3,96.9 L90.2,97.3 L90.0,97.7 L89.8,97.9 L89.6,98.2 L89.3,98.4 L88.9,98.6 L88.7,98.7 L88.2,98.8 L87.7,98.7 L87.2,98.7 L86.7,98.7 L86.2,98.7 L85.7,98.7 L85.4,98.6 L84.9,98.6 L84.4,98.6 L83.9,98.6 L83.4,98.5 L82.9,98.5 L82.4,98.5 L81.9,98.4 L81.5,98.4 L81.1,98.4 L80.6,98.4 L80.1,98.3 L79.6,98.3 L79.1,98.3 L78.6,98.2 L78.1,98.2 L77.6,98.2 L77.1,98.2 L76.9,98.2 L76.4,98.1 L75.9,98.1 L75.4,98.1 L74.9,98.1 L74.4,98.1 L73.9,98.0 L73.4,98.0 L72.9,98.0 L72.4,98.0 L71.9,98.0 L71.4,98.0 L70.9,98.0 L70.4,98.0 L69.9,98.0 L69.4,98.0 L68.9,98.0 L68.4,98.0 L67.9,98.0 L67.4,98.0 L66.9,98.1 L66.4,98.1 L65.9,98.1 L65.6,98.2 L65.1,98.2 L64.6,98.3 L64.2,98.4 L63.9,98.5 L63.4,98.7 L63.1,98.8 L62.7,98.9 L62.4,99.1 L62.1,99.2 L61.8,99.4 L61.4,99.7 L61.1,99.9 L60.8,100.1 L60.6,100.3 L60.3,100.6 L60.1,100.8 L59.8,101.1 L59.6,101.4 L59.4,101.7 L59.2,101.9 L59.0,102.2 L58.8,102.4 L58.6,102.7 L58.3,103.0 L58.1,103.2 L57.8,103.5 L57.6,103.8 L57.3,104.0 L57.1,104.2 L56.8,104.4 L56.5,104.7 L56.1,104.9 L55.8,105.1 L55.6,105.2 L55.1,105.4 L54.8,105.6 L54.5,105.7 L54.1,105.8 L53.8,105.9 L53.3,106.1 L52.9,106.2 L52.6,106.3 L52.1,106.3 L51.6,106.4 L51.3,106.4Z" fill="none" stroke="#2a2a2a" stroke-width="0.55"/>
<path d="M51.1,76.1 L51.6,76.0 L52.0,75.9 L52.3,75.7 L52.6,75.5 L52.9,75.4 L53.2,75.1 L53.4,74.9 L53.6,74.6 L53.8,74.1 L53.8,73.9 L53.9,73.4 L53.9,72.9 L53.9,72.4 L53.9,71.8 L54.0,71.3 L54.1,71.0 L54.2,70.6 L54.3,70.3 L54.5,69.8 L54.6,69.6 L54.8,69.2 L55.1,68.8 L55.2,68.6 L55.4,68.3 L55.6,68.1 L55.8,67.7 L56.1,67.3 L56.2,67.1 L56.4,66.8 L56.6,66.5 L56.8,66.1 L57.0,65.8 L57.1,65.6 L57.3,65.3 L57.6,64.9 L57.8,64.6 L57.9,64.3 L58.1,64.1 L58.3,63.7 L58.6,63.3 L58.8,63.1 L58.9,62.8 L58.8,62.4 L58.6,62.7 L58.4,63.1 L58.2,63.3 L57.8,63.6 L57.6,63.7 L57.3,63.8 L56.8,63.9 L56.3,64.0 L55.8,64.0 L55.3,64.0 L54.8,63.9 L54.6,63.8 L54.1,63.6 L53.8,63.4 L53.6,63.2 L53.3,62.8 L53.3,62.6 L53.3,62.1 L52.9,61.8 L52.6,61.8 L52.1,61.8 L51.6,61.7 L51.1,61.7 L50.6,61.6 L50.1,61.6 L49.6,61.6 L49.3,61.6 L48.8,61.5 L48.3,61.5 L47.8,61.5 L47.3,61.4 L46.8,61.4 L46.7,61.8 L46.7,62.3 L46.7,62.8 L46.7,63.3 L46.7,63.8 L46.7,64.3 L46.8,64.8 L46.8,65.3 L46.8,65.8 L46.8,66.3 L46.8,66.6 L46.8,67.1 L46.9,67.6 L46.9,68.1 L46.9,68.6 L47.0,69.1 L47.0,69.6 L47.1,70.0 L47.1,70.3 L47.2,70.8 L47.3,71.3 L47.3,71.6 L47.4,72.1 L47.5,72.6 L47.6,72.9 L47.8,73.4 L47.9,73.6 L48.1,74.1 L48.2,74.4 L48.3,74.6 L48.6,75.0 L48.8,75.3 L49.1,75.5 L49.3,75.7 L49.6,75.9 L50.1,76.0 L50.6,76.1 L51.0,76.1 L51.1,76.1Z" fill="none" stroke="#2a2a2a" stroke-width="0.55"/>
<path d="M51.3,105.4 L50.8,105.5 L50.3,105.5 L49.8,105.5 L49.3,105.4 L49.1,105.4 L48.6,105.3 L48.1,105.2 L47.8,105.2 L47.3,105.0 L47.1,104.9 L46.6,104.7 L46.3,104.6 L46.0,104.4 L45.6,104.2 L45.3,104.0 L45.1,103.8 L44.8,103.6 L44.5,103.4 L44.2,103.2 L44.0,102.9 L43.7,102.7 L43.4,102.4 L43.2,102.2 L42.9,101.9 L42.7,101.7 L42.5,101.4 L42.3,101.2 L42.1,100.8 L41.8,100.5 L41.6,100.2 L41.5,99.9 L41.3,99.6 L41.1,99.2 L40.9,98.9 L40.8,98.6 L40.6,98.2 L40.5,97.9 L40.4,97.4 L40.3,97.2 L40.2,96.7 L40.1,96.2 L40.0,95.9 L39.9,95.4 L39.9,94.9 L39.9,94.4 L39.9,93.9 L39.9,93.4 L39.9,92.9 L40.0,92.4 L40.0,92.0 L40.1,91.6 L40.2,91.1 L40.3,90.8 L40.4,90.4 L40.5,90.0 L40.6,89.6 L40.8,89.2 L40.9,88.9 L41.1,88.6 L41.2,88.1 L41.3,87.9 L41.6,87.4 L41.7,87.1 L41.8,86.8 L42.0,86.4 L42.1,86.1 L42.3,85.6 L42.4,85.4 L42.5,84.9 L42.6,84.6 L42.8,84.1 L42.8,83.9 L43.0,83.4 L43.1,83.0 L43.1,82.6 L43.2,82.1 L43.3,81.7 L43.4,81.4 L43.5,80.9 L43.5,80.4 L43.6,80.1 L43.7,79.6 L43.8,79.1 L43.8,78.9 L44.0,78.4 L44.1,77.9 L44.1,77.6 L44.2,77.1 L44.3,76.9 L44.4,76.4 L44.6,76.0 L44.7,75.6 L44.8,75.3 L45.0,74.9 L45.2,74.6 L45.6,74.4 L45.9,74.6 L46.1,74.9 L46.3,75.1 L46.6,75.5 L46.8,75.8 L47.0,76.1 L47.2,76.4 L47.4,76.6 L47.7,76.9 L47.9,77.1 L48.2,77.4 L48.6,77.6 L48.8,77.7 L49.1,77.9 L49.6,78.0 L50.1,78.0 L50.6,78.0 L51.1,78.0 L51.6,77.9 L52.0,77.9 L52.3,77.8 L52.8,77.7 L53.3,77.6 L53.6,77.6 L54.1,77.5 L54.6,77.4 L55.1,77.4 L55.3,77.3 L55.8,77.2 L56.3,77.1 L56.6,77.0 L56.8,76.8 L57.1,76.4 L57.2,76.1 L57.3,75.6 L57.3,75.1 L57.2,74.6 L57.2,74.1 L57.1,73.6 L57.1,73.3 L57.0,72.9 L57.0,72.4 L56.8,72.0 L56.6,71.8 L56.2,71.6 L56.1,71.3 L55.9,70.8 L56.0,70.3 L56.1,70.1 L56.3,69.7 L56.6,69.3 L56.8,69.1 L56.9,68.8 L57.1,68.6 L57.3,68.2 L57.6,67.8 L57.7,67.6 L57.9,67.3 L58.1,67.0 L58.3,66.6 L58.5,66.3 L58.7,66.1 L58.8,65.8 L59.1,65.4 L59.3,65.1 L59.5,64.8 L59.6,64.6 L59.8,64.3 L60.1,63.9 L60.3,63.6 L60.5,63.3 L60.7,63.1 L60.9,62.8 L61.1,62.5 L61.3,62.2 L61.6,61.9 L61.8,61.6 L62.1,61.3 L62.3,61.1 L62.5,60.8 L62.4,60.5 L61.8,60.4 L61.8,60.2 L62.3,60.1 L62.6,60.1 L63.1,60.0 L63.6,60.0 L64.1,60.0 L64.4,60.3 L64.4,60.4 L64.1,60.7 L63.6,60.7 L63.6,61.0 L63.6,61.3 L63.5,61.6 L63.4,62.0 L63.2,62.3 L63.1,62.6 L62.9,63.1 L62.8,63.3 L62.6,63.7 L62.4,64.1 L62.3,64.3 L62.1,64.6 L61.8,65.1 L61.7,65.3 L61.6,65.6 L61.3,65.9 L61.1,66.3 L61.0,66.6 L60.8,66.8 L60.6,67.2 L60.3,67.6 L60.2,67.8 L60.0,68.1 L59.8,68.3 L59.6,68.7 L59.4,69.1 L59.2,69.3 L59.0,69.6 L58.8,69.9 L58.6,70.3 L58.5,70.6 L58.3,70.8 L58.1,71.3 L57.9,71.6 L58.3,71.8 L58.6,72.0 L58.8,72.2 L59.1,72.4 L59.4,72.6 L59.6,72.9 L59.9,73.1 L60.1,73.4 L60.4,73.6 L60.6,73.9 L60.8,74.1 L61.1,74.4 L61.3,74.7 L61.6,75.0 L61.8,75.3 L62.1,75.6 L62.3,75.9 L62.5,76.1 L62.7,76.4 L62.9,76.6 L63.1,76.9 L63.4,77.3 L63.6,77.6 L63.7,77.9 L63.9,78.1 L64.1,78.5 L64.3,78.9 L64.5,79.1 L64.6,79.4 L64.8,79.9 L64.9,80.1 L65.0,80.6 L65.1,81.1 L64.9,81.5 L64.6,81.6 L64.1,81.7 L63.6,81.7 L63.1,81.7 L62.6,81.8 L62.2,81.9 L61.8,82.1 L61.6,82.4 L61.5,82.6 L61.3,83.0 L61.3,83.4 L61.2,83.9 L61.2,84.4 L61.2,84.9 L61.2,85.4 L61.1,85.9 L61.1,86.4 L61.1,86.9 L61.1,87.4 L61.1,87.9 L61.1,88.4 L61.1,88.9 L61.1,89.4 L61.1,89.9 L61.1,90.4 L61.2,90.9 L61.2,91.4 L61.2,91.9 L61.3,92.4 L61.4,92.6 L61.6,93.2 L61.7,93.4 L61.8,93.7 L62.1,94.1 L62.3,94.4 L62.5,94.7 L62.7,94.9 L62.9,95.2 L63.1,95.4 L63.4,95.7 L63.6,96.1 L63.6,96.4 L63.6,96.7 L63.4,97.0 L63.1,97.2 L62.8,97.4 L62.5,97.7 L62.2,97.9 L61.8,98.1 L61.6,98.3 L61.3,98.5 L61.1,98.7 L60.8,98.9 L60.6,99.2 L60.3,99.4 L60.1,99.7 L59.8,99.9 L59.5,100.2 L59.3,100.4 L59.1,100.7 L58.8,100.9 L58.6,101.2 L58.3,101.5 L58.1,101.7 L57.8,102.0 L57.6,102.3 L57.3,102.5 L57.1,102.8 L56.8,103.0 L56.6,103.2 L56.3,103.4 L56.0,103.7 L55.7,103.9 L55.3,104.1 L55.1,104.3 L54.8,104.4 L54.3,104.6 L54.1,104.8 L53.6,104.9 L53.3,105.0 L52.8,105.2 L52.6,105.2 L52.1,105.3 L51.6,105.4 L51.3,105.4Z" fill="none" stroke="#2a2a2a" stroke-width="0.55"/>
<path d="M56.3,63.4 L55.8,63.4 L55.3,63.3 L55.1,63.3 L54.7,63.1 L54.4,62.8 L54.3,62.6 L54.3,62.1 L54.6,61.8 L54.8,61.7 L55.1,61.6 L55.6,61.5 L56.1,61.5 L56.6,61.5 L56.8,61.6 L57.2,61.8 L57.4,62.1 L57.5,62.6 L57.3,62.9 L57.1,63.1 L56.6,63.3 L56.3,63.4Z" fill="none" stroke="#2a2a2a" stroke-width="0.55"/>
<path d="M81.1,62.3 L80.8,62.3 L80.4,62.3 L79.9,62.3 L79.4,62.2 L78.9,62.2 L78.4,62.2 L77.9,62.1 L77.5,62.1 L77.1,61.9 L76.8,61.8 L77.0,61.6 L77.4,61.5 L77.9,61.5 L78.4,61.4 L78.9,61.4 L79.4,61.4 L79.9,61.5 L80.4,61.5 L80.9,61.5 L81.4,61.6 L81.6,61.8 L81.7,62.1 L81.4,62.3 L81.1,62.3Z" fill="none" stroke="#2a2a2a" stroke-width="0.55"/>
<path d="M51.6,104.4 L51.1,104.5 L50.6,104.5 L50.1,104.5 L49.6,104.5 L49.1,104.4 L48.8,104.4 L48.3,104.3 L47.9,104.2 L47.6,104.1 L47.1,103.9 L46.8,103.8 L46.5,103.7 L46.1,103.4 L45.8,103.3 L45.6,103.1 L45.3,102.9 L44.9,102.7 L44.6,102.4 L44.3,102.2 L44.1,102.0 L43.8,101.7 L43.6,101.5 L43.3,101.2 L43.1,100.9 L42.9,100.7 L42.7,100.4 L42.5,100.2 L42.3,99.9 L42.1,99.5 L41.9,99.2 L41.7,98.9 L41.6,98.6 L41.4,98.2 L41.3,97.9 L41.1,97.4 L41.0,97.2 L40.9,96.7 L40.8,96.3 L40.7,95.9 L40.6,95.4 L40.6,94.9 L40.6,94.4 L40.6,93.9 L40.6,93.4 L40.6,92.9 L40.7,92.4 L40.8,91.9 L40.8,91.6 L40.9,91.1 L41.1,90.8 L41.2,90.4 L41.3,90.0 L41.4,89.6 L41.6,89.3 L41.7,88.9 L41.8,88.6 L42.1,88.2 L42.2,87.9 L42.3,87.6 L42.5,87.1 L42.6,86.9 L42.8,86.5 L43.0,86.1 L43.1,85.9 L43.3,85.4 L43.4,85.1 L43.6,84.9 L43.8,84.4 L43.9,84.1 L44.1,83.7 L44.2,83.4 L44.3,82.9 L44.4,82.6 L44.6,82.2 L44.7,81.9 L44.8,81.5 L45.0,81.1 L45.1,80.9 L45.3,80.6 L45.6,80.2 L45.8,80.0 L46.1,79.9 L46.6,79.8 L47.0,79.9 L47.3,79.9 L47.8,80.1 L48.1,80.1 L48.6,80.2 L49.1,80.3 L49.6,80.3 L50.1,80.2 L50.6,80.1 L50.8,80.1 L51.3,80.0 L51.8,79.9 L52.2,79.9 L52.6,79.8 L53.1,79.8 L53.6,79.8 L54.1,79.9 L54.3,79.9 L54.8,80.0 L55.2,80.1 L55.6,80.3 L55.8,80.4 L56.3,80.6 L56.6,80.8 L56.8,81.0 L57.1,81.2 L57.3,81.5 L57.6,81.8 L57.8,82.1 L58.0,82.4 L58.2,82.6 L58.3,82.9 L58.6,83.4 L58.7,83.6 L58.8,84.0 L59.0,84.4 L59.1,84.7 L59.2,85.1 L59.3,85.6 L59.4,85.9 L59.5,86.4 L59.6,86.8 L59.7,87.1 L59.7,87.6 L59.8,88.1 L59.8,88.4 L59.9,88.9 L60.0,89.4 L60.0,89.9 L60.1,90.4 L60.1,90.8 L60.1,91.1 L60.2,91.6 L60.3,92.1 L60.3,92.4 L60.5,92.9 L60.6,93.4 L60.7,93.7 L60.8,94.2 L60.9,94.4 L61.1,94.9 L61.2,95.2 L61.3,95.7 L61.3,96.2 L61.2,96.7 L61.1,97.0 L60.8,97.4 L60.7,97.7 L60.5,97.9 L60.3,98.2 L60.1,98.4 L59.8,98.7 L59.6,98.9 L59.3,99.2 L59.1,99.4 L58.8,99.7 L58.6,99.9 L58.3,100.2 L58.1,100.5 L57.8,100.8 L57.6,101.0 L57.3,101.3 L57.1,101.5 L56.8,101.8 L56.6,102.0 L56.3,102.2 L56.1,102.5 L55.8,102.7 L55.5,102.9 L55.1,103.2 L54.8,103.3 L54.6,103.5 L54.2,103.7 L53.8,103.8 L53.6,103.9 L53.1,104.1 L52.8,104.2 L52.3,104.3 L51.8,104.4 L51.6,104.4Z" fill="none" stroke="#2a2a2a" stroke-width="0.55"/>
<path d="M51.6,103.7 L51.1,103.8 L50.6,103.8 L50.1,103.8 L49.6,103.8 L49.1,103.7 L48.8,103.7 L48.3,103.6 L47.8,103.4 L47.6,103.3 L47.1,103.2 L46.8,103.0 L46.6,102.9 L46.1,102.7 L45.8,102.5 L45.6,102.4 L45.3,102.2 L45.0,101.9 L44.7,101.7 L44.4,101.4 L44.1,101.2 L43.9,100.9 L43.6,100.7 L43.4,100.4 L43.2,100.2 L43.0,99.9 L42.8,99.6 L42.6,99.2 L42.4,98.9 L42.2,98.7 L42.1,98.3 L41.9,97.9 L41.8,97.7 L41.6,97.2 L41.5,96.9 L41.4,96.4 L41.3,95.9 L41.2,95.7 L41.2,95.2 L41.1,94.7 L41.1,94.2 L41.1,93.7 L41.2,93.2 L41.2,92.6 L41.3,92.1 L41.3,91.9 L41.5,91.4 L41.6,91.1 L41.7,90.6 L41.8,90.3 L41.9,89.9 L42.1,89.6 L42.3,89.1 L42.4,88.9 L42.6,88.5 L42.8,88.1 L42.9,87.9 L43.1,87.6 L43.3,87.1 L43.4,86.9 L43.6,86.6 L43.8,86.2 L44.0,85.9 L44.2,85.6 L44.3,85.4 L44.6,85.0 L44.8,84.6 L45.0,84.4 L45.2,84.1 L45.4,83.9 L45.6,83.6 L45.8,83.4 L46.1,83.1 L46.4,82.9 L46.8,82.7 L47.1,82.6 L47.6,82.5 L48.1,82.4 L48.6,82.4 L48.8,82.3 L49.3,82.3 L49.8,82.2 L50.1,82.1 L50.6,82.0 L51.0,81.9 L51.3,81.8 L51.8,81.7 L52.3,81.7 L52.8,81.7 L53.3,81.7 L53.8,81.8 L54.2,81.9 L54.6,82.0 L54.9,82.1 L55.3,82.4 L55.6,82.5 L55.8,82.7 L56.1,82.9 L56.3,83.2 L56.6,83.5 L56.8,83.8 L57.1,84.1 L57.2,84.4 L57.4,84.6 L57.6,85.0 L57.8,85.4 L57.9,85.6 L58.1,86.1 L58.2,86.4 L58.3,86.8 L58.5,87.1 L58.6,87.6 L58.7,87.9 L58.8,88.4 L58.9,88.6 L59.0,89.1 L59.1,89.6 L59.1,89.9 L59.2,90.4 L59.3,90.9 L59.3,91.2 L59.4,91.6 L59.5,92.1 L59.6,92.5 L59.7,92.9 L59.8,93.4 L59.9,93.7 L60.0,94.2 L60.1,94.6 L60.2,94.9 L60.2,95.4 L60.2,95.9 L60.2,96.4 L60.1,96.7 L59.9,97.2 L59.8,97.4 L59.6,97.7 L59.3,98.1 L59.1,98.4 L58.8,98.7 L58.6,98.9 L58.4,99.2 L58.2,99.4 L57.9,99.7 L57.7,99.9 L57.5,100.2 L57.3,100.4 L57.0,100.7 L56.8,100.9 L56.5,101.2 L56.3,101.4 L56.0,101.7 L55.7,101.9 L55.3,102.2 L55.1,102.3 L54.8,102.5 L54.5,102.7 L54.1,102.9 L53.8,103.0 L53.5,103.2 L53.1,103.3 L52.8,103.4 L52.3,103.6 L51.8,103.7 L51.6,103.7Z" fill="none" stroke="#2a2a2a" stroke-width="0.55"/>
<path d="M51.8,102.9 L51.3,103.0 L50.8,103.1 L50.3,103.1 L49.8,103.1 L49.3,103.0 L48.8,103.0 L48.6,102.9 L48.1,102.8 L47.7,102.7 L47.3,102.5 L47.1,102.4 L46.6,102.2 L46.3,102.0 L46.1,101.9 L45.7,101.7 L45.4,101.4 L45.1,101.2 L44.8,101.0 L44.6,100.7 L44.3,100.5 L44.1,100.2 L43.8,99.9 L43.6,99.7 L43.4,99.4 L43.2,99.2 L43.1,98.9 L42.8,98.4 L42.7,98.2 L42.6,97.9 L42.3,97.4 L42.2,97.2 L42.1,96.7 L42.0,96.4 L41.9,95.9 L41.8,95.4 L41.8,95.2 L41.7,94.7 L41.7,94.2 L41.7,93.7 L41.7,93.2 L41.8,92.7 L41.9,92.4 L42.0,91.9 L42.1,91.5 L42.2,91.1 L42.3,90.7 L42.4,90.4 L42.6,90.1 L42.7,89.6 L42.9,89.4 L43.1,89.0 L43.3,88.6 L43.4,88.4 L43.6,88.1 L43.8,87.7 L44.0,87.4 L44.2,87.1 L44.4,86.9 L44.6,86.6 L44.8,86.4 L45.1,86.1 L45.3,85.8 L45.6,85.6 L45.8,85.4 L46.2,85.1 L46.6,84.9 L46.8,84.8 L47.3,84.6 L47.6,84.5 L48.1,84.4 L48.3,84.3 L48.8,84.2 L49.1,84.1 L49.6,84.0 L50.1,83.9 L50.3,83.9 L50.8,83.8 L51.3,83.7 L51.8,83.6 L52.1,83.6 L52.6,83.6 L52.8,83.6 L53.3,83.7 L53.8,83.9 L54.1,84.0 L54.4,84.1 L54.8,84.4 L55.1,84.6 L55.3,84.8 L55.6,85.0 L55.8,85.2 L56.1,85.5 L56.3,85.8 L56.5,86.1 L56.7,86.4 L56.9,86.6 L57.1,87.0 L57.3,87.4 L57.4,87.6 L57.6,88.1 L57.7,88.4 L57.8,88.7 L58.0,89.1 L58.1,89.5 L58.2,89.9 L58.3,90.4 L58.4,90.6 L58.5,91.1 L58.6,91.4 L58.7,91.9 L58.8,92.4 L58.8,92.6 L59.0,93.2 L59.0,93.7 L59.1,93.9 L59.2,94.4 L59.3,94.9 L59.3,95.4 L59.3,95.9 L59.2,96.4 L59.1,96.7 L58.9,97.2 L58.8,97.4 L58.6,97.7 L58.3,98.0 L58.1,98.4 L57.9,98.7 L57.7,98.9 L57.5,99.2 L57.3,99.4 L57.0,99.7 L56.8,99.9 L56.6,100.2 L56.3,100.4 L56.1,100.7 L55.8,100.9 L55.5,101.2 L55.2,101.4 L54.8,101.7 L54.6,101.8 L54.3,102.0 L54.0,102.2 L53.6,102.4 L53.3,102.5 L52.8,102.7 L52.6,102.8 L52.1,102.9 L51.8,102.9Z" fill="none" stroke="#2a2a2a" stroke-width="0.8"/>
<path d="M52.1,102.2 L51.6,102.3 L51.1,102.4 L50.6,102.4 L50.1,102.4 L49.6,102.4 L49.1,102.3 L48.6,102.2 L48.3,102.1 L47.8,102.0 L47.6,101.9 L47.1,101.7 L46.8,101.6 L46.5,101.4 L46.1,101.2 L45.8,101.0 L45.6,100.8 L45.3,100.6 L45.1,100.3 L44.8,100.1 L44.6,99.8 L44.3,99.6 L44.1,99.2 L43.8,98.9 L43.6,98.7 L43.5,98.4 L43.3,98.1 L43.1,97.7 L43.0,97.4 L42.8,96.9 L42.7,96.7 L42.6,96.2 L42.5,95.9 L42.4,95.4 L42.3,94.9 L42.3,94.4 L42.3,94.0 L42.3,93.9 L42.3,93.4 L42.4,92.9 L42.5,92.4 L42.6,92.0 L42.6,91.6 L42.8,91.1 L42.9,90.9 L43.1,90.5 L43.2,90.1 L43.3,89.9 L43.6,89.5 L43.7,89.1 L43.9,88.9 L44.1,88.6 L44.3,88.3 L44.6,88.0 L44.8,87.7 L45.1,87.4 L45.3,87.2 L45.6,87.0 L45.8,86.8 L46.1,86.6 L46.4,86.4 L46.8,86.2 L47.1,86.1 L47.6,85.9 L47.8,85.8 L48.3,85.7 L48.6,85.6 L49.1,85.5 L49.6,85.4 L49.8,85.4 L50.3,85.3 L50.8,85.2 L51.3,85.2 L51.8,85.2 L52.3,85.2 L52.8,85.3 L53.1,85.4 L53.6,85.5 L53.8,85.7 L54.2,85.9 L54.6,86.1 L54.8,86.3 L55.1,86.5 L55.3,86.7 L55.6,87.0 L55.8,87.3 L56.1,87.6 L56.3,87.9 L56.4,88.1 L56.6,88.4 L56.8,88.8 L57.0,89.1 L57.1,89.4 L57.3,89.9 L57.4,90.1 L57.6,90.6 L57.7,90.9 L57.8,91.4 L57.9,91.6 L58.0,92.1 L58.1,92.6 L58.1,92.9 L58.2,93.4 L58.3,93.9 L58.3,94.2 L58.4,94.7 L58.4,95.2 L58.4,95.7 L58.3,95.9 L58.2,96.4 L58.1,96.8 L57.9,97.2 L57.8,97.4 L57.6,97.8 L57.3,98.2 L57.2,98.4 L57.0,98.7 L56.8,98.9 L56.6,99.2 L56.3,99.5 L56.1,99.7 L55.8,100.0 L55.6,100.2 L55.3,100.5 L55.1,100.7 L54.8,100.9 L54.4,101.2 L54.1,101.4 L53.8,101.5 L53.5,101.7 L53.1,101.9 L52.8,102.0 L52.3,102.1 L52.1,102.2Z" fill="none" stroke="#2a2a2a" stroke-width="0.8"/>
<path d="M51.3,101.7 L50.8,101.7 L50.3,101.8 L49.8,101.7 L49.3,101.7 L49.1,101.7 L48.6,101.5 L48.1,101.4 L47.8,101.3 L47.5,101.2 L47.1,101.0 L46.8,100.8 L46.5,100.7 L46.1,100.4 L45.8,100.2 L45.6,100.0 L45.3,99.7 L45.1,99.5 L44.8,99.2 L44.6,98.9 L44.4,98.7 L44.2,98.4 L44.0,98.2 L43.8,97.7 L43.6,97.4 L43.5,97.2 L43.3,96.7 L43.3,96.4 L43.1,95.9 L43.1,95.6 L43.0,95.2 L42.9,94.7 L42.9,94.2 L42.9,93.7 L42.9,93.2 L43.0,92.6 L43.1,92.4 L43.2,91.9 L43.3,91.6 L43.5,91.1 L43.6,90.9 L43.8,90.4 L43.9,90.1 L44.1,89.9 L44.3,89.5 L44.6,89.2 L44.8,88.9 L45.0,88.6 L45.2,88.4 L45.5,88.1 L45.8,87.9 L46.1,87.7 L46.3,87.5 L46.6,87.4 L47.0,87.1 L47.3,87.0 L47.7,86.9 L48.1,86.8 L48.6,86.6 L48.8,86.6 L49.3,86.5 L49.8,86.4 L50.3,86.4 L50.6,86.4 L51.1,86.4 L51.6,86.4 L51.8,86.4 L52.3,86.5 L52.8,86.6 L53.1,86.7 L53.5,86.9 L53.8,87.0 L54.1,87.2 L54.4,87.4 L54.7,87.6 L55.0,87.9 L55.2,88.1 L55.4,88.4 L55.6,88.6 L55.8,88.9 L56.1,89.3 L56.3,89.6 L56.4,89.9 L56.6,90.2 L56.8,90.6 L56.9,90.9 L57.0,91.4 L57.1,91.6 L57.3,92.1 L57.3,92.5 L57.4,92.9 L57.5,93.4 L57.6,93.9 L57.6,94.2 L57.6,94.7 L57.6,95.2 L57.6,95.4 L57.5,95.9 L57.4,96.4 L57.3,96.7 L57.1,97.2 L57.0,97.4 L56.8,97.7 L56.6,98.0 L56.3,98.4 L56.2,98.7 L56.0,98.9 L55.7,99.2 L55.5,99.4 L55.3,99.7 L55.0,99.9 L54.7,100.2 L54.4,100.4 L54.1,100.6 L53.8,100.8 L53.6,100.9 L53.1,101.2 L52.8,101.3 L52.4,101.4 L52.1,101.5 L51.6,101.6 L51.3,101.7Z" fill="none" stroke="#2a2a2a" stroke-width="0.8"/>
<path d="M51.8,100.9 L51.3,101.0 L50.8,101.1 L50.3,101.1 L49.8,101.1 L49.3,101.1 L48.8,101.0 L48.6,100.9 L48.1,100.7 L47.8,100.6 L47.3,100.4 L47.1,100.3 L46.8,100.1 L46.5,99.9 L46.1,99.7 L45.9,99.4 L45.6,99.2 L45.3,98.9 L45.1,98.7 L44.9,98.4 L44.8,98.2 L44.6,97.9 L44.3,97.4 L44.2,97.2 L44.1,96.9 L43.9,96.4 L43.8,96.2 L43.7,95.7 L43.6,95.2 L43.5,94.9 L43.5,94.4 L43.5,93.9 L43.5,93.4 L43.6,93.0 L43.6,92.6 L43.7,92.1 L43.8,91.9 L44.0,91.4 L44.1,91.1 L44.3,90.8 L44.5,90.4 L44.7,90.1 L44.9,89.9 L45.1,89.6 L45.3,89.4 L45.6,89.1 L45.8,88.9 L46.1,88.6 L46.5,88.4 L46.8,88.2 L47.1,88.0 L47.4,87.9 L47.8,87.7 L48.1,87.6 L48.6,87.5 L49.1,87.4 L49.3,87.4 L49.8,87.3 L50.3,87.3 L50.8,87.3 L51.3,87.3 L51.8,87.4 L52.1,87.4 L52.6,87.6 L52.8,87.7 L53.3,87.9 L53.6,88.0 L53.8,88.2 L54.1,88.4 L54.4,88.6 L54.7,88.9 L54.9,89.1 L55.1,89.4 L55.3,89.6 L55.6,90.0 L55.8,90.4 L56.0,90.6 L56.1,90.9 L56.3,91.4 L56.4,91.6 L56.6,92.1 L56.6,92.4 L56.7,92.9 L56.8,93.4 L56.9,93.7 L56.9,94.2 L56.9,94.7 L56.9,95.2 L56.8,95.5 L56.8,95.9 L56.6,96.4 L56.5,96.7 L56.3,97.1 L56.2,97.4 L56.1,97.7 L55.8,98.0 L55.6,98.4 L55.3,98.7 L55.1,98.9 L54.9,99.2 L54.6,99.4 L54.3,99.7 L54.1,99.9 L53.8,100.0 L53.6,100.2 L53.2,100.4 L52.8,100.6 L52.6,100.7 L52.1,100.9 L51.8,100.9Z" fill="none" stroke="#2a2a2a" stroke-width="1.0"/>
<path d="M51.1,100.4 L50.6,100.5 L50.1,100.5 L49.6,100.5 L49.2,100.4 L48.8,100.3 L48.3,100.2 L48.1,100.1 L47.7,99.9 L47.3,99.7 L47.1,99.6 L46.8,99.4 L46.5,99.2 L46.2,98.9 L45.9,98.7 L45.7,98.4 L45.5,98.2 L45.3,97.9 L45.1,97.5 L44.8,97.2 L44.7,96.9 L44.6,96.6 L44.4,96.2 L44.3,95.8 L44.2,95.4 L44.1,94.9 L44.1,94.4 L44.1,93.9 L44.1,93.4 L44.2,92.9 L44.3,92.4 L44.4,92.1 L44.6,91.7 L44.7,91.4 L44.8,91.1 L45.1,90.8 L45.3,90.4 L45.5,90.1 L45.8,89.9 L46.0,89.6 L46.3,89.4 L46.6,89.2 L46.8,89.0 L47.1,88.9 L47.6,88.7 L47.8,88.5 L48.3,88.4 L48.6,88.3 L49.1,88.2 L49.4,88.1 L49.8,88.1 L50.3,88.1 L50.8,88.1 L51.3,88.1 L51.6,88.2 L52.1,88.3 L52.4,88.4 L52.8,88.6 L53.1,88.7 L53.4,88.9 L53.8,89.1 L54.1,89.4 L54.3,89.6 L54.6,89.9 L54.8,90.1 L55.0,90.4 L55.1,90.6 L55.3,91.0 L55.6,91.4 L55.7,91.6 L55.8,92.1 L55.9,92.4 L56.1,92.9 L56.1,93.2 L56.2,93.7 L56.2,94.2 L56.2,94.7 L56.2,95.2 L56.1,95.7 L56.1,95.9 L55.9,96.4 L55.8,96.7 L55.6,97.2 L55.5,97.4 L55.3,97.7 L55.1,98.0 L54.8,98.3 L54.6,98.6 L54.3,98.8 L54.1,99.1 L53.8,99.3 L53.6,99.5 L53.2,99.7 L52.8,99.9 L52.6,100.0 L52.2,100.2 L51.8,100.3 L51.3,100.4 L51.1,100.4Z" fill="none" stroke="#2a2a2a" stroke-width="1.0"/>
<path d="M50.8,99.9 L50.3,100.0 L49.8,99.9 L49.6,99.9 L49.1,99.8 L48.6,99.7 L48.3,99.6 L47.9,99.4 L47.6,99.2 L47.3,99.1 L47.0,98.9 L46.7,98.7 L46.4,98.4 L46.2,98.2 L46.0,97.9 L45.8,97.7 L45.6,97.3 L45.3,96.9 L45.2,96.7 L45.1,96.4 L44.9,95.9 L44.8,95.6 L44.7,95.2 L44.6,94.7 L44.6,94.2 L44.6,93.7 L44.7,93.2 L44.8,92.6 L44.9,92.4 L45.1,92.0 L45.2,91.6 L45.4,91.4 L45.6,91.1 L45.8,90.7 L46.1,90.5 L46.3,90.2 L46.6,90.0 L46.8,89.8 L47.1,89.6 L47.5,89.4 L47.8,89.3 L48.1,89.1 L48.6,89.0 L48.9,88.9 L49.3,88.8 L49.8,88.8 L50.3,88.7 L50.8,88.8 L51.3,88.8 L51.6,88.9 L52.1,89.0 L52.4,89.1 L52.8,89.4 L53.1,89.5 L53.3,89.7 L53.6,89.9 L53.9,90.1 L54.1,90.4 L54.4,90.6 L54.6,90.9 L54.8,91.3 L55.0,91.6 L55.1,91.9 L55.3,92.4 L55.4,92.6 L55.5,93.2 L55.6,93.4 L55.6,93.9 L55.7,94.4 L55.7,94.9 L55.6,95.4 L55.5,95.7 L55.4,96.2 L55.3,96.4 L55.1,96.9 L55.0,97.2 L54.8,97.4 L54.6,97.7 L54.3,98.0 L54.1,98.3 L53.8,98.6 L53.6,98.8 L53.3,99.0 L53.0,99.2 L52.6,99.4 L52.3,99.5 L51.9,99.7 L51.6,99.8 L51.1,99.9 L50.8,99.9Z" fill="none" stroke="#2a2a2a" stroke-width="1.0"/>
<path d="M50.6,99.4 L50.1,99.4 L49.8,99.4 L49.3,99.4 L48.8,99.2 L48.6,99.1 L48.1,98.9 L47.8,98.8 L47.6,98.7 L47.2,98.4 L46.9,98.2 L46.7,97.9 L46.4,97.7 L46.2,97.4 L46.0,97.2 L45.8,96.8 L45.6,96.4 L45.5,96.2 L45.3,95.7 L45.3,95.4 L45.2,94.9 L45.1,94.4 L45.1,93.9 L45.2,93.4 L45.3,92.9 L45.4,92.6 L45.6,92.1 L45.7,91.9 L45.8,91.6 L46.1,91.3 L46.3,91.0 L46.6,90.8 L46.8,90.5 L47.1,90.3 L47.4,90.1 L47.8,89.9 L48.1,89.8 L48.4,89.6 L48.8,89.5 L49.3,89.4 L49.6,89.4 L50.1,89.3 L50.6,89.3 L51.1,89.4 L51.3,89.4 L51.8,89.6 L52.1,89.7 L52.6,89.9 L52.8,90.0 L53.1,90.2 L53.3,90.4 L53.6,90.6 L53.8,90.9 L54.1,91.2 L54.3,91.6 L54.5,91.9 L54.6,92.1 L54.8,92.6 L54.9,92.9 L55.0,93.4 L55.1,93.7 L55.1,94.2 L55.1,94.7 L55.1,95.2 L55.1,95.4 L54.9,95.9 L54.8,96.2 L54.6,96.7 L54.5,96.9 L54.3,97.2 L54.1,97.5 L53.8,97.8 L53.6,98.1 L53.3,98.3 L53.1,98.5 L52.8,98.7 L52.4,98.9 L52.1,99.1 L51.8,99.2 L51.3,99.3 L50.8,99.4 L50.6,99.4Z" fill="none" stroke="#2a2a2a" stroke-width="1.0"/>
<path d="M51.6,98.7 L51.1,98.8 L50.6,98.9 L50.1,98.9 L49.6,98.8 L49.1,98.7 L48.8,98.7 L48.3,98.5 L48.1,98.3 L47.8,98.2 L47.5,97.9 L47.2,97.7 L46.9,97.4 L46.7,97.2 L46.5,96.9 L46.3,96.6 L46.1,96.2 L46.0,95.9 L45.8,95.4 L45.8,95.2 L45.7,94.7 L45.7,94.2 L45.7,93.7 L45.8,93.2 L45.9,92.9 L46.1,92.4 L46.2,92.1 L46.4,91.9 L46.6,91.6 L46.8,91.3 L47.1,91.1 L47.3,90.9 L47.7,90.6 L48.1,90.4 L48.3,90.3 L48.8,90.1 L49.1,90.1 L49.6,90.0 L50.1,89.9 L50.6,90.0 L51.1,90.0 L51.5,90.1 L51.8,90.2 L52.2,90.4 L52.6,90.6 L52.8,90.8 L53.1,91.0 L53.3,91.3 L53.6,91.5 L53.8,91.9 L54.0,92.1 L54.1,92.4 L54.3,92.9 L54.4,93.2 L54.5,93.7 L54.6,94.2 L54.6,94.7 L54.5,95.2 L54.4,95.7 L54.3,95.9 L54.1,96.4 L54.0,96.7 L53.8,96.9 L53.6,97.3 L53.3,97.6 L53.1,97.8 L52.8,98.0 L52.6,98.2 L52.2,98.4 L51.8,98.6 L51.6,98.7Z" fill="none" stroke="#2a2a2a" stroke-width="1.0"/>
<path d="M51.3,98.2 L50.8,98.3 L50.3,98.3 L49.8,98.3 L49.3,98.2 L49.0,98.2 L48.6,98.0 L48.3,97.8 L48.0,97.7 L47.7,97.4 L47.4,97.2 L47.2,96.9 L47.0,96.7 L46.8,96.4 L46.6,95.9 L46.5,95.7 L46.3,95.2 L46.3,94.9 L46.2,94.4 L46.2,93.9 L46.3,93.4 L46.4,93.2 L46.6,92.7 L46.7,92.4 L46.9,92.1 L47.1,91.9 L47.3,91.6 L47.6,91.4 L48.0,91.1 L48.3,91.0 L48.6,90.9 L49.1,90.7 L49.3,90.6 L49.8,90.5 L50.3,90.5 L50.8,90.6 L51.1,90.6 L51.6,90.8 L51.8,90.9 L52.3,91.1 L52.6,91.4 L52.8,91.6 L53.1,91.8 L53.3,92.1 L53.5,92.4 L53.6,92.6 L53.8,93.2 L53.9,93.4 L54.0,93.9 L54.0,94.4 L54.0,94.9 L53.9,95.4 L53.8,95.7 L53.7,96.2 L53.5,96.4 L53.3,96.7 L53.1,97.0 L52.8,97.3 L52.6,97.5 L52.3,97.7 L52.0,97.9 L51.6,98.1 L51.3,98.2Z" fill="none" stroke="#2a2a2a" stroke-width="1.0"/>
<path d="M51.1,97.7 L50.6,97.8 L50.1,97.8 L49.6,97.7 L49.3,97.7 L48.8,97.5 L48.6,97.4 L48.3,97.2 L47.9,96.9 L47.7,96.7 L47.5,96.4 L47.3,96.2 L47.1,95.7 L47.0,95.4 L46.8,94.9 L46.8,94.7 L46.8,94.2 L46.8,93.8 L46.9,93.4 L47.1,93.0 L47.3,92.6 L47.4,92.4 L47.7,92.1 L47.9,91.9 L48.3,91.6 L48.6,91.5 L48.8,91.4 L49.3,91.2 L49.8,91.1 L50.1,91.1 L50.6,91.1 L50.8,91.2 L51.3,91.3 L51.6,91.4 L52.0,91.6 L52.3,91.9 L52.6,92.1 L52.8,92.4 L53.0,92.6 L53.1,92.9 L53.3,93.4 L53.4,93.7 L53.5,94.2 L53.5,94.7 L53.4,95.2 L53.3,95.5 L53.2,95.9 L53.0,96.2 L52.8,96.5 L52.6,96.8 L52.3,97.0 L52.1,97.2 L51.7,97.4 L51.3,97.6 L51.1,97.7Z" fill="none" stroke="#2a2a2a" stroke-width="1.0"/>
<path d="M50.8,97.2 L50.3,97.3 L49.8,97.2 L49.4,97.2 L49.1,97.0 L48.8,96.9 L48.4,96.7 L48.2,96.4 L47.9,96.2 L47.8,95.9 L47.6,95.5 L47.4,95.2 L47.3,94.7 L47.3,94.4 L47.3,94.2 L47.4,93.7 L47.6,93.2 L47.7,92.9 L47.9,92.6 L48.2,92.4 L48.5,92.1 L48.8,92.0 L49.1,91.9 L49.6,91.7 L50.1,91.7 L50.6,91.7 L51.1,91.8 L51.3,91.9 L51.7,92.1 L52.0,92.4 L52.3,92.6 L52.5,92.9 L52.6,93.2 L52.8,93.7 L52.9,93.9 L53.0,94.4 L52.9,94.9 L52.8,95.3 L52.7,95.7 L52.6,95.9 L52.3,96.3 L52.1,96.5 L51.8,96.7 L51.6,96.9 L51.1,97.1 L50.8,97.2Z" fill="none" stroke="#2a2a2a" stroke-width="1.0"/>
<path d="M50.3,96.9 L50.0,96.9 L49.6,96.8 L49.1,96.7 L48.8,96.5 L48.6,96.3 L48.3,96.1 L48.1,95.7 L47.9,95.4 L47.8,95.2 L47.7,94.7 L47.7,94.2 L47.8,93.7 L47.9,93.4 L48.1,93.1 L48.3,92.8 L48.6,92.6 L48.8,92.4 L49.3,92.2 L49.6,92.1 L50.1,92.0 L50.6,92.1 L50.9,92.1 L51.3,92.3 L51.6,92.5 L51.8,92.7 L52.1,93.0 L52.3,93.4 L52.5,93.7 L52.6,94.2 L52.6,94.4 L52.6,94.8 L52.5,95.2 L52.3,95.6 L52.2,95.9 L51.9,96.2 L51.7,96.4 L51.3,96.6 L51.1,96.8 L50.6,96.9 L50.3,96.9Z" fill="none" stroke="#2a2a2a" stroke-width="1.0"/>
<path d="M50.8,96.4 L50.3,96.5 L49.8,96.5 L49.5,96.4 L49.1,96.2 L48.8,96.0 L48.6,95.8 L48.3,95.4 L48.2,95.2 L48.1,94.7 L48.1,94.2 L48.2,93.7 L48.4,93.4 L48.6,93.1 L48.8,92.9 L49.2,92.6 L49.6,92.5 L50.1,92.4 L50.6,92.5 L51.1,92.6 L51.3,92.8 L51.6,93.0 L51.8,93.3 L52.0,93.7 L52.1,93.9 L52.2,94.4 L52.2,94.9 L52.1,95.2 L51.9,95.7 L51.6,95.9 L51.4,96.2 L51.1,96.3 L50.8,96.4Z" fill="none" stroke="#2a2a2a" stroke-width="1.0"/>
<path d="M50.8,95.9 L50.3,96.1 L49.8,96.0 L49.5,95.9 L49.1,95.7 L48.9,95.4 L48.7,95.2 L48.6,94.7 L48.5,94.4 L48.6,94.1 L48.8,93.7 L48.9,93.4 L49.2,93.2 L49.6,93.0 L50.0,92.9 L50.3,92.9 L50.6,93.0 L51.0,93.2 L51.3,93.4 L51.5,93.7 L51.6,93.9 L51.7,94.4 L51.7,94.9 L51.6,95.2 L51.3,95.6 L51.1,95.8 L50.8,95.9Z" fill="none" stroke="#2a2a2a" stroke-width="1.0"/>
<path d="M50.6,95.5 L50.1,95.6 L49.6,95.4 L49.3,95.2 L49.1,94.9 L49.0,94.7 L49.1,94.2 L49.2,93.9 L49.4,93.7 L49.8,93.4 L50.1,93.4 L50.4,93.4 L50.8,93.6 L51.1,93.9 L51.2,94.2 L51.3,94.7 L51.1,95.1 L50.8,95.4 L50.6,95.5Z" fill="none" stroke="#2a2a2a" stroke-width="1.0"/>
<rect x="23" y="34.4" width="96.6" height="96.4" fill="none" stroke="#000" stroke-width="1.5"/>
<line x1="25.0" y1="130.8" x2="25.0" y2="132.8" stroke="#111" stroke-width="0.8"/>
<line x1="28.42962962962963" y1="130.8" x2="28.42962962962963" y2="132.8" stroke="#111" stroke-width="0.8"/>
<line x1="31.85925925925926" y1="130.8" x2="31.85925925925926" y2="132.8" stroke="#111" stroke-width="0.8"/>
<line x1="35.28888888888889" y1="130.8" x2="35.28888888888889" y2="132.8" stroke="#111" stroke-width="0.8"/>
<line x1="38.71851851851852" y1="130.8" x2="38.71851851851852" y2="132.8" stroke="#111" stroke-width="0.8"/>
<line x1="42.14814814814815" y1="130.8" x2="42.14814814814815" y2="132.8" stroke="#111" stroke-width="0.8"/>
<line x1="45.577777777777776" y1="130.8" x2="45.577777777777776" y2="132.8" stroke="#111" stroke-width="0.8"/>
<line x1="49.007407407407406" y1="130.8" x2="49.007407407407406" y2="132.8" stroke="#111" stroke-width="0.8"/>
<line x1="52.43703703703704" y1="130.8" x2="52.43703703703704" y2="132.8" stroke="#111" stroke-width="0.8"/>
<line x1="55.86666666666667" y1="130.8" x2="55.86666666666667" y2="132.8" stroke="#111" stroke-width="0.8"/>
<line x1="59.2962962962963" y1="130.8" x2="59.2962962962963" y2="132.8" stroke="#111" stroke-width="0.8"/>
<line x1="62.72592592592592" y1="130.8" x2="62.72592592592592" y2="132.8" stroke="#111" stroke-width="0.8"/>
<line x1="66.15555555555555" y1="130.8" x2="66.15555555555555" y2="132.8" stroke="#111" stroke-width="0.8"/>
<line x1="69.58518518518518" y1="130.8" x2="69.58518518518518" y2="132.8" stroke="#111" stroke-width="0.8"/>
<line x1="73.01481481481481" y1="130.8" x2="73.01481481481481" y2="132.8" stroke="#111" stroke-width="0.8"/>
<line x1="76.44444444444444" y1="130.8" x2="76.44444444444444" y2="132.8" stroke="#111" stroke-width="0.8"/>
<line x1="79.87407407407407" y1="130.8" x2="79.87407407407407" y2="132.8" stroke="#111" stroke-width="0.8"/>
<line x1="83.30370370370369" y1="130.8" x2="83.30370370370369" y2="132.8" stroke="#111" stroke-width="0.8"/>
<line x1="86.73333333333333" y1="130.8" x2="86.73333333333333" y2="132.8" stroke="#111" stroke-width="0.8"/>
<line x1="90.16296296296296" y1="130.8" x2="90.16296296296296" y2="132.8" stroke="#111" stroke-width="0.8"/>
<line x1="93.5925925925926" y1="130.8" x2="93.5925925925926" y2="132.8" stroke="#111" stroke-width="0.8"/>
<line x1="97.02222222222223" y1="130.8" x2="97.02222222222223" y2="132.8" stroke="#111" stroke-width="0.8"/>
<line x1="100.45185185185184" y1="130.8" x2="100.45185185185184" y2="132.8" stroke="#111" stroke-width="0.8"/>
<line x1="103.88148148148147" y1="130.8" x2="103.88148148148147" y2="132.8" stroke="#111" stroke-width="0.8"/>
<line x1="107.3111111111111" y1="130.8" x2="107.3111111111111" y2="132.8" stroke="#111" stroke-width="0.8"/>
<line x1="110.74074074074075" y1="130.8" x2="110.74074074074075" y2="132.8" stroke="#111" stroke-width="0.8"/>
<line x1="114.17037037037036" y1="130.8" x2="114.17037037037036" y2="132.8" stroke="#111" stroke-width="0.8"/>
<line x1="117.6" y1="130.8" x2="117.6" y2="132.8" stroke="#111" stroke-width="0.8"/>
<line x1="21.0" y1="36.4" x2="23" y2="36.4" stroke="#111" stroke-width="0.8"/>
<line x1="21.0" y1="40.096" x2="23" y2="40.096" stroke="#111" stroke-width="0.8"/>
<line x1="21.0" y1="43.792" x2="23" y2="43.792" stroke="#111" stroke-width="0.8"/>
<line x1="21.0" y1="47.488" x2="23" y2="47.488" stroke="#111" stroke-width="0.8"/>
<line x1="21.0" y1="51.184" x2="23" y2="51.184" stroke="#111" stroke-width="0.8"/>
<line x1="21.0" y1="54.879999999999995" x2="23" y2="54.879999999999995" stroke="#111" stroke-width="0.8"/>
<line x1="21.0" y1="58.576" x2="23" y2="58.576" stroke="#111" stroke-width="0.8"/>
<line x1="21.0" y1="62.272000000000006" x2="23" y2="62.272000000000006" stroke="#111" stroke-width="0.8"/>
<line x1="21.0" y1="65.968" x2="23" y2="65.968" stroke="#111" stroke-width="0.8"/>
<line x1="21.0" y1="69.664" x2="23" y2="69.664" stroke="#111" stroke-width="0.8"/>
<line x1="21.0" y1="73.36" x2="23" y2="73.36" stroke="#111" stroke-width="0.8"/>
<line x1="21.0" y1="77.05600000000001" x2="23" y2="77.05600000000001" stroke="#111" stroke-width="0.8"/>
<line x1="21.0" y1="80.75200000000001" x2="23" y2="80.75200000000001" stroke="#111" stroke-width="0.8"/>
<line x1="21.0" y1="84.44800000000001" x2="23" y2="84.44800000000001" stroke="#111" stroke-width="0.8"/>
<line x1="21.0" y1="88.144" x2="23" y2="88.144" stroke="#111" stroke-width="0.8"/>
<line x1="21.0" y1="91.84" x2="23" y2="91.84" stroke="#111" stroke-width="0.8"/>
<line x1="21.0" y1="95.536" x2="23" y2="95.536" stroke="#111" stroke-width="0.8"/>
<line x1="21.0" y1="99.232" x2="23" y2="99.232" stroke="#111" stroke-width="0.8"/>
<line x1="21.0" y1="102.928" x2="23" y2="102.928" stroke="#111" stroke-width="0.8"/>
<line x1="21.0" y1="106.624" x2="23" y2="106.624" stroke="#111" stroke-width="0.8"/>
<line x1="21.0" y1="110.32" x2="23" y2="110.32" stroke="#111" stroke-width="0.8"/>
<line x1="21.0" y1="114.01599999999999" x2="23" y2="114.01599999999999" stroke="#111" stroke-width="0.8"/>
<line x1="21.0" y1="117.71200000000002" x2="23" y2="117.71200000000002" stroke="#111" stroke-width="0.8"/>
<line x1="21.0" y1="121.40800000000002" x2="23" y2="121.40800000000002" stroke="#111" stroke-width="0.8"/>
<line x1="21.0" y1="125.10400000000001" x2="23" y2="125.10400000000001" stroke="#111" stroke-width="0.8"/>
<line x1="21.0" y1="128.8" x2="23" y2="128.8" stroke="#111" stroke-width="0.8"/>
<rect x="68.5" y="50.6" width="45.8" height="19.8" fill="none" stroke="#000" stroke-width="1.4"/>
<text x="87" y="47" font-size="9" text-anchor="start" font-weight="normal" fill="#000" color="#000">R1</text>
<text x="20" y="42.0" font-size="5.2" text-anchor="end" font-weight="normal" fill="#333" color="#333">10<tspan dy="-2" font-size="3.6">5</tspan></text>
<text x="20" y="61.0" font-size="5.2" text-anchor="end" font-weight="normal" fill="#333" color="#333">10<tspan dy="-2" font-size="3.6">4</tspan></text>
<text x="20" y="79.8" font-size="5.2" text-anchor="end" font-weight="normal" fill="#333" color="#333">10<tspan dy="-2" font-size="3.6">3</tspan></text>
<text x="20" y="98.9" font-size="5.2" text-anchor="end" font-weight="normal" fill="#333" color="#333">10<tspan dy="-2" font-size="3.6">2</tspan></text>
<text x="20" y="109.5" font-size="5.2" text-anchor="end" font-weight="normal" fill="#333" color="#333">0</text>
<text x="48.3" y="139.5" font-size="5.2" text-anchor="middle" font-weight="normal" fill="#333" color="#333">0</text>
<text x="75" y="139.5" font-size="5.2" text-anchor="middle" font-weight="normal" fill="#333" color="#333">10<tspan dy="-2" font-size="3.6">3</tspan></text>
<text x="93.7" y="139.5" font-size="5.2" text-anchor="middle" font-weight="normal" fill="#333" color="#333">10<tspan dy="-2" font-size="3.6">4</tspan></text>
<text x="110.9" y="139.5" font-size="5.2" text-anchor="middle" font-weight="normal" fill="#333" color="#333">10<tspan dy="-2" font-size="3.6">5</tspan></text>
<text x="11.6" y="76.4" font-size="13.2" text-anchor="middle" font-weight="normal" fill="#000" color="#000" transform="rotate(-90 11.6 76.4)">c-kit</text>
<text x="74" y="153.3" font-size="13.2" text-anchor="middle" font-weight="normal" fill="#000" color="#000">Sca-1</text>
<rect x="153" y="33.7" width="98.80000000000001" height="98.10000000000001" fill="none" stroke="#000" stroke-width="1.5"/>
<line x1="155.0" y1="131.8" x2="155.0" y2="133.8" stroke="#111" stroke-width="0.8"/>
<line x1="158.51111111111112" y1="131.8" x2="158.51111111111112" y2="133.8" stroke="#111" stroke-width="0.8"/>
<line x1="162.0222222222222" y1="131.8" x2="162.0222222222222" y2="133.8" stroke="#111" stroke-width="0.8"/>
<line x1="165.53333333333333" y1="131.8" x2="165.53333333333333" y2="133.8" stroke="#111" stroke-width="0.8"/>
<line x1="169.04444444444445" y1="131.8" x2="169.04444444444445" y2="133.8" stroke="#111" stroke-width="0.8"/>
<line x1="172.55555555555554" y1="131.8" x2="172.55555555555554" y2="133.8" stroke="#111" stroke-width="0.8"/>
<line x1="176.06666666666666" y1="131.8" x2="176.06666666666666" y2="133.8" stroke="#111" stroke-width="0.8"/>
<line x1="179.57777777777778" y1="131.8" x2="179.57777777777778" y2="133.8" stroke="#111" stroke-width="0.8"/>
<line x1="183.0888888888889" y1="131.8" x2="183.0888888888889" y2="133.8" stroke="#111" stroke-width="0.8"/>
<line x1="186.6" y1="131.8" x2="186.6" y2="133.8" stroke="#111" stroke-width="0.8"/>
<line x1="190.11111111111111" y1="131.8" x2="190.11111111111111" y2="133.8" stroke="#111" stroke-width="0.8"/>
<line x1="193.62222222222223" y1="131.8" x2="193.62222222222223" y2="133.8" stroke="#111" stroke-width="0.8"/>
<line x1="197.13333333333333" y1="131.8" x2="197.13333333333333" y2="133.8" stroke="#111" stroke-width="0.8"/>
<line x1="200.64444444444445" y1="131.8" x2="200.64444444444445" y2="133.8" stroke="#111" stroke-width="0.8"/>
<line x1="204.15555555555557" y1="131.8" x2="204.15555555555557" y2="133.8" stroke="#111" stroke-width="0.8"/>
<line x1="207.66666666666669" y1="131.8" x2="207.66666666666669" y2="133.8" stroke="#111" stroke-width="0.8"/>
<line x1="211.17777777777778" y1="131.8" x2="211.17777777777778" y2="133.8" stroke="#111" stroke-width="0.8"/>
<line x1="214.6888888888889" y1="131.8" x2="214.6888888888889" y2="133.8" stroke="#111" stroke-width="0.8"/>
<line x1="218.2" y1="131.8" x2="218.2" y2="133.8" stroke="#111" stroke-width="0.8"/>
<line x1="221.7111111111111" y1="131.8" x2="221.7111111111111" y2="133.8" stroke="#111" stroke-width="0.8"/>
<line x1="225.22222222222223" y1="131.8" x2="225.22222222222223" y2="133.8" stroke="#111" stroke-width="0.8"/>
<line x1="228.73333333333335" y1="131.8" x2="228.73333333333335" y2="133.8" stroke="#111" stroke-width="0.8"/>
<line x1="232.24444444444447" y1="131.8" x2="232.24444444444447" y2="133.8" stroke="#111" stroke-width="0.8"/>
<line x1="235.75555555555556" y1="131.8" x2="235.75555555555556" y2="133.8" stroke="#111" stroke-width="0.8"/>
<line x1="239.26666666666668" y1="131.8" x2="239.26666666666668" y2="133.8" stroke="#111" stroke-width="0.8"/>
<line x1="242.7777777777778" y1="131.8" x2="242.7777777777778" y2="133.8" stroke="#111" stroke-width="0.8"/>
<line x1="246.2888888888889" y1="131.8" x2="246.2888888888889" y2="133.8" stroke="#111" stroke-width="0.8"/>
<line x1="249.8" y1="131.8" x2="249.8" y2="133.8" stroke="#111" stroke-width="0.8"/>
<line x1="151" y1="38.0" x2="153" y2="38.0" stroke="#000" stroke-width="1"/>
<text x="150" y="39.5" font-size="5.2" text-anchor="end" font-weight="normal" fill="#333" color="#333">100</text>
<line x1="151" y1="56.75" x2="153" y2="56.75" stroke="#000" stroke-width="1"/>
<text x="150" y="58.25" font-size="5.2" text-anchor="end" font-weight="normal" fill="#333" color="#333">80</text>
<line x1="151" y1="75.5" x2="153" y2="75.5" stroke="#000" stroke-width="1"/>
<text x="150" y="77.0" font-size="5.2" text-anchor="end" font-weight="normal" fill="#333" color="#333">60</text>
<line x1="151" y1="94.25" x2="153" y2="94.25" stroke="#000" stroke-width="1"/>
<text x="150" y="95.75" font-size="5.2" text-anchor="end" font-weight="normal" fill="#333" color="#333">40</text>
<line x1="151" y1="113.0" x2="153" y2="113.0" stroke="#000" stroke-width="1"/>
<text x="150" y="114.5" font-size="5.2" text-anchor="end" font-weight="normal" fill="#333" color="#333">20</text>
<line x1="151" y1="131.75" x2="153" y2="131.75" stroke="#000" stroke-width="1"/>
<text x="150" y="133.25" font-size="5.2" text-anchor="end" font-weight="normal" fill="#333" color="#333">0</text>
<path d="M154.1,131.2 L154.7,128.5 L155.3,129.5 L155.8,125.8 L156.0,125.0 L156.5,122.6 L157.3,116.4 L157.9,115.8 L157.5,106.8 L158.4,105.1 L159.0,87.6 L159.4,96.3 L159.3,81.5 L160.2,82.4 L160.4,67.7 L162.8,68.1 L162.4,50.6 L162.7,39.2 L163.0,41.0 L163.4,38.5 L164.9,39.0 L165.3,40.2 L165.0,45.9 L165.7,38.5 L166.9,58.1 L166.6,62.0 L166.9,68.4 L168.0,78.3 L168.4,86.8 L168.9,84.5 L169.3,89.1 L169.6,90.8 L169.5,96.9 L170.9,99.0 L171.0,100.7 L171.5,103.5 L171.9,106.1 L172.6,105.1 L173.3,111.7 L173.5,112.5 L173.9,117.7 L174.6,117.4 L174.9,117.6 L175.8,119.2 L176.3,116.9 L176.4,120.5 L177.0,125.6 L177.6,123.3 L178.1,124.5 L178.3,125.4 L179.1,127.8 L179.6,127.0 L180.0,128.2 L180.5,128.7 L181.1,129.6 L181.7,127.9 L182.1,130.2 L182.5,129.8 L183.1,129.9 L183.7,131.0 L184.1,130.0 L184.7,129.5 L185.2,127.4 L185.7,130.4 L186.0,129.5 L186.5,128.8 L187.1,128.6 L187.6,130.0 L188.1,128.6 L188.6,128.9 L189.1,129.9 L189.5,130.6 L190.1,129.9 L190.7,130.3 L191.4,129.6 L191.6,127.7 L192.1,128.7 L192.6,130.1 L193.2,130.5 L193.6,128.8 L193.9,131.2 L194.6,129.7 L195.0,129.4 L195.6,129.3 L196.1,129.0 L196.6,129.9 L197.0,130.8 L197.5,130.7 L198.3,130.7 L198.6,129.9 L199.2,130.2 L199.6,130.6 L200.2,128.9 L200.5,130.8 L201.0,130.7 L201.7,129.6 L202.1,129.8 L202.6,129.0 L203.0,129.7 L203.6,131.2 L204.0,129.5 L204.5,130.2 L205.2,129.1 L205.7,130.6 L206.2,129.5 L206.6,130.2 L207.2,129.4 L207.6,129.7 L208.3,130.7 L208.5,129.2 L209.1,129.9 L209.6,129.9 L210.0,130.9 L210.5,130.7 L211.0,128.9 L211.5,129.4 L212.1,129.9 L212.5,128.8 L213.1,130.4 L213.6,130.9 L214.0,130.6 L214.6,130.0 L215.0,129.5 L215.5,131.2 L216.0,129.8 L216.6,129.7 L217.1,130.5 L217.6,131.2 L218.1,129.1 L218.5,130.3 L219.1,131.2 L219.6,130.9 L220.1,131.2 L220.6,130.5 L221.1,131.2 L221.5,130.8 L222.1,131.2 L222.6,131.2" fill="none" stroke="#d04040" stroke-width="0.85" stroke-linejoin="round"/>
<path d="M152.8,131.0 L153.6,128.9 L153.9,125.6 L154.3,122.6 L154.8,125.7 L155.6,116.8 L155.8,113.5 L156.2,112.7 L156.6,108.0 L157.0,98.0 L157.7,99.9 L158.4,97.3 L158.6,74.9 L160.0,85.8 L160.3,74.9 L159.6,55.2 L162.0,38.5 L161.4,38.5 L161.7,40.7 L161.7,40.2 L162.1,38.5 L163.0,42.8 L162.4,43.4 L163.8,41.5 L164.3,54.2 L164.7,71.9 L166.5,70.2 L166.8,75.1 L166.3,85.2 L167.0,88.4 L167.1,94.5 L168.2,92.8 L169.4,96.6 L169.6,102.4 L169.1,101.6 L170.8,108.0 L171.5,106.4 L171.7,105.7 L172.4,108.4 L172.0,111.0 L172.9,115.2 L173.2,116.3 L173.6,115.1 L174.6,121.8 L174.9,123.4 L175.5,124.5 L175.9,123.6 L176.4,127.3 L177.0,126.7 L177.3,126.1 L178.0,128.7 L178.4,129.9 L178.9,128.7 L179.3,128.8 L180.1,127.3 L180.4,129.8 L181.1,128.5 L181.3,129.4 L182.0,128.5 L182.2,129.8 L183.0,129.7 L183.4,128.1 L184.0,128.3 L184.5,129.9 L184.8,129.1 L185.3,128.6 L185.9,129.1 L186.5,129.8 L186.9,131.0 L187.3,129.7 L187.8,128.6 L188.4,129.3 L189.0,129.0 L189.4,128.5 L189.8,129.9 L190.5,129.6 L190.9,130.2 L191.3,129.8 L191.9,130.1 L192.3,130.4 L192.9,128.2 L193.3,129.8 L193.9,129.1 L194.5,130.8 L194.9,130.2 L195.5,128.5 L195.9,129.7 L196.4,129.4 L196.7,130.5 L197.5,130.2 L197.8,129.8 L198.4,130.5 L199.0,130.1 L199.3,130.4 L199.9,129.2 L200.4,130.2 L200.8,130.7 L201.4,130.9 L201.9,129.0 L202.4,130.5 L202.8,129.2 L203.4,130.7 L204.0,130.3 L204.4,131.2 L204.9,130.4 L205.6,130.4 L206.0,129.6 L206.5,129.8 L206.9,131.2 L207.4,130.0 L207.9,129.6 L208.4,131.1 L208.9,131.2 L209.4,129.6 L209.8,130.2 L210.3,129.8 L211.0,128.9 L211.5,130.9 L211.8,131.2 L212.4,130.3 L212.8,131.1 L213.4,129.4 L213.9,130.4 L214.4,130.3 L214.9,131.2 L215.4,129.9 L215.9,130.2 L216.4,130.0 L217.0,129.7 L217.4,129.7 L217.8,130.7 L218.4,131.2 L218.9,131.2 L219.4,130.4 L219.9,131.2 L220.4,131.2 L220.9,130.1 L221.4,131.2" fill="none" stroke="#2830d0" stroke-width="0.85" stroke-linejoin="round"/>
<path d="M153.4,130.9 L153.9,131.2 L154.7,125.4 L154.9,122.2 L155.5,121.9 L156.2,120.1 L156.6,115.8 L157.3,106.7 L157.3,113.3 L158.0,101.3 L158.1,105.3 L158.6,93.1 L159.1,83.9 L159.7,80.8 L160.8,78.1 L161.6,64.0 L161.0,38.5 L163.8,39.1 L162.4,40.6 L163.4,42.8 L164.2,43.5 L164.1,45.5 L164.1,38.5 L164.5,47.1 L165.4,41.3 L165.4,47.9 L165.9,78.6 L166.8,72.7 L167.2,85.1 L168.6,84.0 L168.7,94.5 L168.6,95.4 L169.1,95.9 L169.8,100.2 L170.8,101.8 L170.9,98.1 L171.3,110.0 L171.7,106.0 L172.7,110.7 L173.3,110.5 L173.2,117.7 L174.4,116.9 L174.5,115.4 L174.7,119.3 L175.5,121.0 L176.0,122.7 L176.8,123.3 L176.8,128.0 L177.4,127.5 L178.1,126.8 L178.5,127.5 L179.1,126.8 L179.6,128.9 L180.1,129.5 L180.5,127.2 L181.1,126.9 L181.4,127.6 L181.9,128.8 L182.6,129.6 L182.8,129.2 L183.5,128.9 L184.0,130.4 L184.5,129.2 L185.0,130.4 L185.4,131.2 L185.9,129.1 L186.5,128.1 L187.0,130.6 L187.5,130.9 L188.0,129.5 L188.5,129.3 L189.1,130.1 L189.6,129.5 L190.0,128.6 L190.3,128.8 L191.1,129.5 L191.5,128.6 L192.1,128.8 L192.7,129.7 L193.0,130.1 L193.5,130.6 L194.0,129.3 L194.6,129.3 L195.0,129.1 L195.5,129.2 L195.9,128.7 L196.5,129.3 L197.0,130.0 L197.4,130.2 L197.9,129.5 L198.6,130.4 L199.0,129.4 L199.5,128.7 L199.9,131.2 L200.5,129.3 L201.0,129.5 L201.6,130.2 L202.0,131.2 L202.5,131.2 L202.9,129.2 L203.5,129.4 L204.0,129.7 L204.6,129.6 L205.0,130.2 L205.6,129.0 L206.0,129.7 L206.5,131.2 L207.1,129.0 L207.5,129.7 L208.0,131.2 L208.6,130.9 L209.0,130.1 L209.5,130.5 L210.0,129.9 L210.7,130.8 L211.0,129.7 L211.4,130.3 L212.0,131.0 L212.4,130.1 L212.9,130.9 L213.5,130.2 L214.1,131.2 L214.6,131.2 L214.9,129.8 L215.5,131.2 L216.0,130.9 L216.5,131.2 L217.0,131.1 L217.5,131.2 L218.0,131.2 L218.6,129.3 L218.9,131.2 L219.5,131.2 L220.0,131.1 L220.4,131.1 L220.9,130.7 L221.5,131.2 L222.0,130.9" fill="none" stroke="#000" stroke-width="0.8" stroke-linejoin="round"/>
<line x1="179" y1="68.8" x2="246.5" y2="68.8" stroke="#222" stroke-width="1.2"/>
<line x1="179" y1="65.6" x2="179" y2="72" stroke="#111" stroke-width="1.5"/>
<line x1="246.5" y1="65.6" x2="246.5" y2="72" stroke="#111" stroke-width="1.5"/>
<text x="210.5" y="67.5" font-size="9" text-anchor="middle" font-weight="normal" fill="#000" color="#000">R2</text>
<text x="181" y="140" font-size="5.2" text-anchor="middle" font-weight="normal" fill="#333" color="#333">0</text>
<text x="205" y="140" font-size="5.2" text-anchor="middle" font-weight="normal" fill="#333" color="#333">10<tspan dy="-2" font-size="3.6">3</tspan></text>
<text x="225" y="140" font-size="5.2" text-anchor="middle" font-weight="normal" fill="#333" color="#333">10<tspan dy="-2" font-size="3.6">4</tspan></text>
<text x="243.8" y="140" font-size="5.2" text-anchor="middle" font-weight="normal" fill="#333" color="#333">10<tspan dy="-2" font-size="3.6">5</tspan></text>
<text x="206.5" y="153.7" font-size="13.2" text-anchor="middle" font-weight="normal" fill="#000" color="#000">CD41</text>
<text x="141.5" y="76.5" font-size="13.2" text-anchor="middle" font-weight="normal" fill="#000" color="#000" transform="rotate(-90 141.5 76.5)">% of Max</text>
<rect x="282" y="33.5" width="97.80000000000001" height="98.30000000000001" fill="none" stroke="#000" stroke-width="1.5"/>
<line x1="284.0" y1="131.8" x2="284.0" y2="133.8" stroke="#111" stroke-width="0.8"/>
<line x1="287.47407407407405" y1="131.8" x2="287.47407407407405" y2="133.8" stroke="#111" stroke-width="0.8"/>
<line x1="290.94814814814816" y1="131.8" x2="290.94814814814816" y2="133.8" stroke="#111" stroke-width="0.8"/>
<line x1="294.4222222222222" y1="131.8" x2="294.4222222222222" y2="133.8" stroke="#111" stroke-width="0.8"/>
<line x1="297.89629629629627" y1="131.8" x2="297.89629629629627" y2="133.8" stroke="#111" stroke-width="0.8"/>
<line x1="301.3703703703704" y1="131.8" x2="301.3703703703704" y2="133.8" stroke="#111" stroke-width="0.8"/>
<line x1="304.84444444444443" y1="131.8" x2="304.84444444444443" y2="133.8" stroke="#111" stroke-width="0.8"/>
<line x1="308.31851851851854" y1="131.8" x2="308.31851851851854" y2="133.8" stroke="#111" stroke-width="0.8"/>
<line x1="311.7925925925926" y1="131.8" x2="311.7925925925926" y2="133.8" stroke="#111" stroke-width="0.8"/>
<line x1="315.26666666666665" y1="131.8" x2="315.26666666666665" y2="133.8" stroke="#111" stroke-width="0.8"/>
<line x1="318.74074074074076" y1="131.8" x2="318.74074074074076" y2="133.8" stroke="#111" stroke-width="0.8"/>
<line x1="322.2148148148148" y1="131.8" x2="322.2148148148148" y2="133.8" stroke="#111" stroke-width="0.8"/>
<line x1="325.68888888888887" y1="131.8" x2="325.68888888888887" y2="133.8" stroke="#111" stroke-width="0.8"/>
<line x1="329.162962962963" y1="131.8" x2="329.162962962963" y2="133.8" stroke="#111" stroke-width="0.8"/>
<line x1="332.63703703703703" y1="131.8" x2="332.63703703703703" y2="133.8" stroke="#111" stroke-width="0.8"/>
<line x1="336.11111111111114" y1="131.8" x2="336.11111111111114" y2="133.8" stroke="#111" stroke-width="0.8"/>
<line x1="339.5851851851852" y1="131.8" x2="339.5851851851852" y2="133.8" stroke="#111" stroke-width="0.8"/>
<line x1="343.05925925925925" y1="131.8" x2="343.05925925925925" y2="133.8" stroke="#111" stroke-width="0.8"/>
<line x1="346.53333333333336" y1="131.8" x2="346.53333333333336" y2="133.8" stroke="#111" stroke-width="0.8"/>
<line x1="350.0074074074074" y1="131.8" x2="350.0074074074074" y2="133.8" stroke="#111" stroke-width="0.8"/>
<line x1="353.4814814814815" y1="131.8" x2="353.4814814814815" y2="133.8" stroke="#111" stroke-width="0.8"/>
<line x1="356.9555555555556" y1="131.8" x2="356.9555555555556" y2="133.8" stroke="#111" stroke-width="0.8"/>
<line x1="360.42962962962963" y1="131.8" x2="360.42962962962963" y2="133.8" stroke="#111" stroke-width="0.8"/>
<line x1="363.90370370370374" y1="131.8" x2="363.90370370370374" y2="133.8" stroke="#111" stroke-width="0.8"/>
<line x1="367.3777777777778" y1="131.8" x2="367.3777777777778" y2="133.8" stroke="#111" stroke-width="0.8"/>
<line x1="370.85185185185185" y1="131.8" x2="370.85185185185185" y2="133.8" stroke="#111" stroke-width="0.8"/>
<line x1="374.32592592592596" y1="131.8" x2="374.32592592592596" y2="133.8" stroke="#111" stroke-width="0.8"/>
<line x1="377.8" y1="131.8" x2="377.8" y2="133.8" stroke="#111" stroke-width="0.8"/>
<line x1="280" y1="38.0" x2="282" y2="38.0" stroke="#000" stroke-width="1"/>
<text x="279" y="39.5" font-size="5.2" text-anchor="end" font-weight="normal" fill="#333" color="#333">100</text>
<line x1="280" y1="56.75" x2="282" y2="56.75" stroke="#000" stroke-width="1"/>
<text x="279" y="58.25" font-size="5.2" text-anchor="end" font-weight="normal" fill="#333" color="#333">80</text>
<line x1="280" y1="75.5" x2="282" y2="75.5" stroke="#000" stroke-width="1"/>
<text x="279" y="77.0" font-size="5.2" text-anchor="end" font-weight="normal" fill="#333" color="#333">60</text>
<line x1="280" y1="94.25" x2="282" y2="94.25" stroke="#000" stroke-width="1"/>
<text x="279" y="95.75" font-size="5.2" text-anchor="end" font-weight="normal" fill="#333" color="#333">40</text>
<line x1="280" y1="113.0" x2="282" y2="113.0" stroke="#000" stroke-width="1"/>
<text x="279" y="114.5" font-size="5.2" text-anchor="end" font-weight="normal" fill="#333" color="#333">20</text>
<line x1="280" y1="131.75" x2="282" y2="131.75" stroke="#000" stroke-width="1"/>
<text x="279" y="133.25" font-size="5.2" text-anchor="end" font-weight="normal" fill="#333" color="#333">0</text>
<path d="M283.0,131.1 L283.8,130.6 L284.5,128.7 L284.5,126.2 L285.3,116.1 L285.5,119.5 L285.4,119.5 L285.5,113.9 L287.5,99.2 L286.5,99.7 L287.2,95.0 L286.8,90.4 L288.1,93.5 L288.6,77.5 L289.9,72.3 L289.7,66.3 L289.9,62.8 L290.1,66.2 L290.1,52.0 L290.3,57.3 L293.6,50.3 L293.1,45.5 L292.6,39.2 L292.6,43.0 L294.0,40.5 L293.8,38.5 L294.7,44.1 L294.0,56.3 L294.1,39.9 L296.9,54.2 L296.9,75.1 L297.0,72.1 L297.2,76.7 L297.3,77.1 L298.5,76.3 L298.2,86.3 L300.1,90.4 L300.4,88.8 L300.6,90.7 L301.4,99.0 L300.6,99.4 L300.2,106.3 L301.6,103.8 L301.6,103.9 L302.8,110.6 L303.1,106.7 L303.3,107.7 L304.2,108.2 L304.6,114.4 L304.9,111.0 L305.7,112.6 L306.0,120.3 L305.8,120.1 L306.5,117.4 L307.3,122.1 L307.9,122.5 L308.2,123.4 L308.8,125.6 L309.4,126.2 L309.6,128.7 L309.7,126.7 L311.1,128.1 L310.9,128.5 L311.5,130.2 L312.0,129.8 L312.2,130.5 L312.8,131.2 L313.1,130.2 L313.5,130.5 L314.1,131.1 L314.5,130.2 L315.0,131.2 L315.4,131.2" fill="none" stroke="#000" stroke-width="0.95" stroke-linejoin="round"/>
<path d="M285.4,131.2 L285.9,126.0 L286.6,125.1 L286.6,123.1 L287.1,121.0 L287.3,120.6 L287.5,115.1 L288.1,108.9 L289.3,103.1 L288.5,96.6 L289.4,93.3 L290.4,93.3 L290.8,85.9 L291.0,81.7 L291.6,77.1 L292.2,70.7 L293.7,70.6 L292.7,60.7 L293.5,52.5 L294.9,51.9 L294.3,51.1 L292.8,43.6 L293.9,47.9 L297.3,38.5 L296.9,41.1 L297.1,38.5 L300.1,45.3 L297.9,40.6 L297.3,47.7 L298.0,60.7 L299.3,67.6 L299.1,76.4 L299.2,75.6 L300.1,79.0 L300.0,82.3 L299.8,78.2 L301.9,84.4 L301.3,89.3 L303.0,91.3 L303.0,97.8 L302.7,102.4 L303.8,100.7 L303.4,103.8 L304.9,101.7 L306.0,105.2 L305.7,106.8 L305.9,112.3 L306.3,108.0 L306.8,110.8 L307.4,113.4 L308.5,113.9 L308.4,115.7 L308.2,117.2 L308.9,118.8 L309.6,122.5 L310.0,123.3 L310.9,123.0 L310.6,124.3 L311.5,126.0 L311.9,125.8 L312.5,128.8 L312.8,128.4 L312.8,128.8 L313.5,128.3 L314.2,129.3 L314.3,130.3 L315.0,130.0 L315.5,130.0 L316.0,130.1 L316.3,129.7 L316.9,130.1 L317.3,130.3 L317.6,130.2" fill="none" stroke="#222" stroke-width="0.95" stroke-linejoin="round"/>
<path d="M284.0,129.3 L284.6,125.5 L284.7,128.0 L285.4,123.6 L285.5,119.0 L286.2,117.4 L287.0,119.7 L287.1,112.2 L288.0,107.5 L288.6,97.5 L288.5,97.4 L289.4,89.2 L290.2,80.3 L289.0,80.5 L289.6,74.9 L291.2,72.8 L292.0,67.6 L291.6,65.8 L291.7,57.1 L291.4,55.1 L293.1,46.8 L293.9,45.3 L293.2,39.0 L294.4,40.6 L295.7,42.6 L295.9,40.2 L296.4,42.8 L295.1,50.6 L297.7,48.7 L297.7,64.9 L297.2,70.7 L299.3,67.7 L298.0,74.5 L298.2,85.9 L300.3,87.4 L301.5,81.9 L299.3,81.7 L300.9,90.3 L301.6,95.8 L301.9,98.7 L301.5,100.2 L303.0,99.6 L302.0,101.1 L303.2,103.9 L304.4,104.7 L304.9,109.4 L304.8,111.1 L305.0,109.8 L304.8,113.2 L306.3,114.7 L306.8,115.8 L306.8,114.8 L307.8,115.0 L307.1,118.7 L308.4,121.4 L308.8,120.5 L309.0,123.3 L309.8,125.2 L309.9,124.5 L310.4,124.8 L311.4,128.0 L311.4,128.7 L311.9,128.1 L312.3,128.7 L313.0,129.0 L313.5,131.1 L313.7,130.7 L314.1,131.2 L314.8,130.7 L315.2,131.2 L315.5,130.4 L316.1,130.7 L316.5,130.9" fill="none" stroke="#444" stroke-width="0.95" stroke-linejoin="round"/>
<path d="M283.5,126.1 L284.1,129.7 L284.7,128.1 L285.3,128.6 L285.9,130.3 L286.5,130.0 L287.1,127.2 L287.7,127.5 L288.3,129.9 L288.9,130.1 L289.5,130.5 L290.1,130.5 L290.7,128.9 L291.3,128.3 L291.9,129.6 L292.5,128.2 L293.1,127.2 L293.7,129.3 L294.3,130.3 L294.9,127.4 L295.5,128.7 L296.1,128.5 L296.7,129.0 L297.3,127.0 L297.9,127.3 L298.5,130.2 L299.1,128.5 L299.7,129.5 L300.3,129.5 L300.9,129.1 L301.5,128.9 L302.1,129.5 L302.7,130.4 L303.3,127.8 L303.9,128.8 L304.5,125.8 L305.1,127.9 L305.7,129.7 L306.3,128.6 L306.9,128.9 L307.5,130.1 L308.1,130.4 L308.7,129.3 L309.3,129.9 L309.9,128.7 L310.5,129.2 L311.1,130.0 L311.7,128.9" fill="none" stroke="#3030e0" stroke-width="0.8" stroke-linejoin="round"/>
<path d="M283.5,130.3 L284.1,128.2 L284.7,126.5 L285.3,129.6 L285.9,125.9 L286.5,130.5 L287.1,129.8 L287.7,130.0 L288.3,128.6 L288.9,129.0 L289.5,129.7 L290.1,128.0 L290.7,130.2 L291.3,129.4 L291.9,129.0 L292.5,128.5 L293.1,130.0 L293.7,127.5 L294.3,129.5 L294.9,128.5 L295.5,128.0 L296.1,130.5 L296.7,130.5 L297.3,129.8 L297.9,127.7 L298.5,129.2 L299.1,127.9 L299.7,130.2 L300.3,128.8 L300.9,126.8 L301.5,127.7 L302.1,129.5 L302.7,130.0 L303.3,128.9 L303.9,129.9 L304.5,125.7 L305.1,128.2 L305.7,129.7 L306.3,126.6 L306.9,130.6 L307.5,125.7 L308.1,127.6 L308.7,130.5 L309.3,130.4 L309.9,129.3 L310.5,130.1 L311.1,127.6 L311.7,128.3" fill="none" stroke="#c03050" stroke-width="0.8" stroke-linejoin="round"/>
<path d="M283.8,128.3 L284.2,129.8 L284.8,129.0 L285.1,129.2 L285.5,128.9 L286.1,129.3 L286.5,129.1 L286.9,128.9 L287.3,128.9 L287.8,128.9 L288.4,128.1 L288.7,129.0 L289.2,129.3 L289.7,128.6 L290.1,130.1 L290.6,128.5 L290.8,129.8 L291.5,128.8 L291.9,127.5 L292.2,128.9 L292.7,128.5 L293.3,127.9 L293.7,128.3 L294.1,128.9 L294.6,128.4 L295.0,127.2 L295.6,128.8 L296.0,129.3 L296.2,127.6 L297.0,129.0 L297.2,127.9 L297.7,128.1 L298.1,127.8 L298.5,128.7 L299.0,128.2 L299.6,128.0 L299.9,128.1 L300.4,127.2 L300.8,127.8 L301.3,128.2 L301.6,129.1 L302.1,129.8 L302.8,128.0 L303.1,128.1 L303.7,128.0 L304.0,128.0 L304.4,128.0 L304.9,128.2 L305.4,129.4 L306.1,129.0 L306.3,129.7 L306.7,129.9 L307.2,129.0 L307.7,129.5 L308.0,128.8 L308.5,129.3 L309.1,129.4 L309.5,129.1 L309.8,129.1 L310.5,130.1 L310.8,129.1 L311.1,130.5 L311.7,128.9 L312.2,129.2 L312.6,128.4 L312.9,128.2 L313.6,129.4 L313.9,125.9 L314.2,129.1 L314.7,126.6 L315.5,124.0 L315.3,125.8 L315.9,123.8 L316.9,122.1 L317.0,121.0 L317.5,122.0 L317.5,118.0 L318.9,118.7 L318.7,118.4 L319.2,119.2 L319.3,118.7 L320.3,116.8 L321.3,115.2 L321.2,113.6 L322.1,113.4 L321.9,114.6 L322.3,112.6 L323.0,113.1 L322.5,111.9 L323.6,110.7 L324.8,108.2 L324.6,107.8 L325.0,105.5 L325.2,105.4 L326.7,107.2 L325.8,108.4 L326.6,104.6 L327.3,105.7 L327.6,104.5 L328.6,104.5 L328.1,103.9 L329.4,102.1 L330.2,102.4 L329.8,104.1 L330.8,96.3 L331.3,93.1 L331.4,88.8 L331.0,88.1 L332.8,88.1 L332.6,85.3 L333.3,86.1 L333.8,82.4 L334.6,84.6 L334.2,80.7 L335.5,74.6 L335.8,78.3 L335.5,74.1 L335.7,72.3 L336.5,68.5 L337.2,62.7 L337.9,59.8 L339.0,59.0 L339.1,48.2 L339.2,49.9 L340.3,45.2 L340.7,41.4 L340.1,41.5 L341.5,41.0 L341.6,39.6 L341.8,45.2 L343.1,47.7 L342.9,55.2 L343.3,57.8 L343.6,72.3 L343.9,69.3 L344.6,75.3 L344.8,89.0 L346.0,93.5 L345.4,100.4 L346.1,98.7 L346.5,107.9 L347.1,110.8 L347.7,117.1 L348.3,122.7 L348.6,123.6 L349.1,128.6 L349.6,126.7 L349.9,128.4 L350.4,129.9 L350.9,129.9 L351.4,131.2 L351.7,131.2 L352.2,130.1 L352.7,130.4" fill="none" stroke="#e03030" stroke-width="0.9" stroke-linejoin="round"/>
<path d="M282.6,129.0 L282.9,128.8 L283.4,128.9 L283.8,128.8 L284.3,129.5 L284.9,129.6 L285.4,129.9 L285.5,130.1 L286.0,128.9 L286.5,129.5 L286.9,128.8 L287.4,128.5 L288.1,128.8 L288.3,129.0 L288.7,128.4 L289.2,130.9 L289.8,130.3 L290.3,128.2 L290.4,128.0 L291.2,128.3 L291.6,128.5 L291.8,129.3 L292.3,129.2 L292.7,129.4 L293.2,128.5 L293.7,128.4 L294.2,128.4 L294.5,128.1 L294.9,128.2 L295.6,128.6 L295.9,129.0 L296.5,127.9 L297.1,128.0 L297.5,127.8 L297.8,128.9 L298.1,128.5 L298.6,127.2 L299.1,128.5 L299.6,129.2 L300.3,128.2 L300.4,127.8 L300.9,128.5 L301.5,128.3 L302.0,128.6 L302.3,126.7 L302.7,128.7 L303.2,129.1 L303.7,128.7 L304.0,128.9 L304.8,129.2 L305.0,130.2 L305.6,128.9 L305.8,129.3 L306.4,129.1 L306.8,129.8 L307.2,129.3 L307.8,128.7 L308.2,129.2 L308.7,129.1 L309.0,127.5 L309.5,128.4 L310.0,129.3 L310.5,128.4 L310.9,129.1 L311.3,129.1 L311.8,128.9 L312.3,128.7 L312.6,126.8 L313.1,127.4 L313.3,124.4 L314.1,124.6 L314.5,122.3 L314.9,123.0 L315.3,123.1 L316.0,120.7 L316.7,121.8 L316.9,118.8 L316.9,121.1 L317.8,120.8 L318.1,118.7 L318.3,118.4 L319.1,117.4 L319.4,119.3 L320.4,117.2 L320.9,112.7 L320.7,111.1 L321.2,114.7 L321.8,110.8 L321.8,107.8 L322.8,108.6 L322.7,109.5 L323.7,108.2 L324.2,105.1 L323.8,107.4 L325.5,104.9 L325.9,105.1 L325.6,104.1 L326.2,105.3 L326.2,106.9 L327.0,104.3 L327.2,105.8 L328.3,103.7 L328.1,99.4 L328.4,98.8 L329.4,97.6 L329.8,94.3 L330.4,91.3 L331.5,91.3 L331.2,85.7 L331.9,82.5 L332.2,85.6 L332.7,81.9 L332.5,85.2 L334.3,81.7 L333.8,79.1 L334.2,74.9 L334.3,69.2 L334.8,67.0 L335.4,65.3 L336.6,59.9 L335.7,62.0 L336.4,54.3 L338.5,57.3 L338.0,51.3 L338.0,38.5 L338.0,40.5 L339.2,40.8 L340.1,38.5 L341.9,43.4 L340.7,45.9 L341.4,48.8 L342.1,54.0 L341.9,53.6 L342.7,71.7 L343.9,77.3 L343.2,81.7 L343.0,89.3 L344.4,91.7 L344.5,104.8 L345.3,105.0 L345.3,105.3 L345.6,113.6 L345.9,116.3 L346.6,118.8 L347.0,124.7 L347.9,127.7 L348.1,127.8 L348.6,127.2 L349.1,130.7 L349.6,129.6 L349.9,129.9 L350.5,130.8 L350.9,130.3 L351.4,130.7" fill="none" stroke="#3030e0" stroke-width="0.9" stroke-linejoin="round"/>
<path d="M283.1,129.1 L283.7,129.7 L284.2,129.5 L284.5,129.3 L285.0,130.0 L285.3,130.0 L285.8,129.3 L286.5,129.0 L286.7,128.5 L287.4,129.5 L287.6,129.5 L288.2,128.5 L288.5,130.1 L289.0,129.5 L289.6,129.3 L290.0,129.3 L290.3,129.9 L290.9,128.1 L291.3,128.3 L291.8,129.7 L292.0,129.4 L292.5,129.4 L293.2,127.7 L293.6,128.1 L294.0,129.2 L294.5,128.9 L294.8,128.0 L295.3,128.7 L295.8,129.5 L296.3,128.4 L296.8,127.5 L297.0,128.6 L297.8,128.2 L297.8,128.2 L298.6,128.0 L299.1,127.4 L299.5,128.8 L300.0,128.0 L300.3,128.6 L300.7,127.4 L301.3,127.8 L301.9,127.5 L302.3,127.1 L302.6,128.0 L302.9,129.2 L303.5,128.8 L303.9,127.4 L304.3,129.0 L304.9,126.9 L305.3,129.3 L305.7,128.6 L306.3,129.1 L306.7,129.3 L307.0,129.3 L307.3,128.4 L307.8,130.1 L308.5,129.6 L308.8,129.3 L309.4,130.0 L309.7,128.9 L310.2,130.0 L310.6,128.6 L311.0,130.1 L311.5,130.0 L311.9,129.9 L312.3,130.7 L312.9,126.8 L313.6,126.9 L314.0,126.9 L314.2,124.3 L314.6,125.0 L315.3,123.5 L315.5,124.5 L316.2,123.1 L316.4,123.9 L317.1,120.8 L317.4,119.8 L318.0,120.8 L318.0,116.5 L318.8,117.8 L319.4,115.9 L319.5,116.6 L320.0,116.0 L320.7,114.3 L321.4,113.2 L321.1,112.2 L322.2,110.7 L322.6,110.9 L323.0,110.9 L323.4,109.9 L323.7,108.4 L324.1,107.4 L324.9,108.3 L325.0,105.9 L326.0,105.9 L325.7,104.4 L325.6,106.0 L326.7,104.4 L327.2,103.6 L327.3,103.0 L328.4,103.7 L328.4,103.6 L328.7,102.5 L329.5,99.1 L330.2,95.0 L330.8,93.2 L330.9,93.0 L331.6,87.5 L330.8,90.1 L331.9,84.2 L332.7,83.5 L332.5,84.6 L333.8,84.0 L334.4,79.3 L333.8,78.8 L335.1,70.7 L335.3,74.7 L335.0,69.0 L337.4,70.7 L336.1,63.4 L336.8,61.1 L336.9,55.2 L337.5,45.4 L338.4,49.8 L338.7,45.0 L340.1,39.8 L339.6,38.5 L340.2,40.1 L339.8,40.6 L341.9,47.3 L341.3,48.7 L342.1,56.6 L342.3,59.6 L342.3,68.8 L343.3,74.3 L344.4,82.7 L344.7,84.2 L344.8,92.0 L344.4,101.7 L346.0,101.3 L346.3,108.7 L347.0,110.0 L347.1,120.2 L347.8,120.3 L347.9,124.0 L348.4,130.2 L348.6,127.6 L349.4,129.9 L349.6,128.9 L350.3,130.5 L350.7,130.1 L351.1,130.9 L351.6,130.6 L352.1,131.1" fill="none" stroke="#7030b0" stroke-width="0.9" stroke-linejoin="round"/>
<path d="M282.8,129.9 L283.4,129.7 L283.8,129.5 L284.3,129.3 L284.9,129.2 L285.1,128.5 L285.8,129.1 L286.2,129.5 L286.7,130.0 L287.3,129.2 L287.3,129.0 L288.0,128.8 L288.5,129.7 L288.8,128.3 L289.4,128.6 L289.8,128.3 L290.2,128.4 L290.7,128.5 L291.1,128.7 L291.6,128.3 L292.1,128.8 L292.5,129.1 L292.8,128.8 L293.5,127.9 L293.7,129.0 L294.2,128.3 L294.5,128.7 L295.2,127.4 L295.5,128.8 L295.9,127.3 L296.4,128.1 L296.9,129.0 L297.3,128.6 L297.8,127.5 L298.2,129.2 L298.7,127.7 L299.3,127.7 L299.6,128.5 L300.2,128.5 L300.4,128.2 L301.1,128.0 L301.4,128.5 L302.0,129.0 L302.4,128.3 L302.6,128.7 L303.3,129.0 L303.6,128.2 L304.2,128.7 L304.5,128.9 L305.1,129.2 L305.5,129.6 L306.0,127.9 L306.3,128.5 L306.9,129.1 L307.3,130.4 L307.7,129.1 L308.3,129.8 L308.6,129.6 L309.1,129.2 L309.4,129.6 L309.9,129.4 L310.4,129.1 L310.8,130.1 L311.4,130.3 L311.8,129.6 L312.2,127.9 L312.5,126.7 L313.1,125.7 L313.9,125.9 L313.9,124.8 L314.4,126.9 L315.0,124.8 L315.3,120.8 L315.8,121.2 L316.1,120.6 L316.6,121.4 L317.4,121.0 L317.8,119.6 L317.9,118.4 L318.5,119.9 L319.0,117.9 L319.9,116.0 L319.8,117.3 L320.1,115.3 L320.5,114.9 L321.4,114.0 L321.5,112.2 L322.2,110.0 L322.6,111.7 L323.3,110.7 L323.8,109.5 L323.6,106.2 L324.6,105.6 L324.3,105.5 L325.5,104.1 L326.0,105.3 L326.0,102.9 L326.8,102.6 L327.2,105.0 L327.7,104.2 L328.2,102.0 L328.2,102.6 L328.9,102.2 L329.3,95.0 L329.6,98.5 L330.4,96.0 L330.5,88.4 L331.5,91.7 L331.1,84.9 L331.4,85.1 L332.0,86.8 L332.6,81.6 L333.5,81.6 L334.6,81.3 L334.3,75.0 L334.8,76.9 L334.9,73.9 L335.6,69.3 L336.1,70.9 L337.5,60.7 L337.1,55.4 L338.5,55.1 L336.7,53.3 L338.3,50.9 L338.2,50.8 L340.3,38.5 L339.6,40.9 L340.4,40.8 L340.0,38.5 L341.5,42.4 L341.7,41.8 L342.4,45.2 L342.2,68.5 L343.5,68.1 L343.1,77.4 L343.5,84.6 L344.2,85.5 L344.7,94.2 L344.6,103.9 L345.6,107.1 L345.9,113.2 L346.6,115.1 L346.7,117.3 L347.0,122.3 L347.6,127.5 L348.2,127.5 L348.7,129.4 L349.1,130.0 L349.7,130.3 L350.0,130.1 L350.4,129.4 L350.9,131.1 L351.4,130.8 L351.9,130.8" fill="none" stroke="#2a2ab0" stroke-width="0.9" stroke-linejoin="round"/>
<line x1="309.8" y1="69" x2="374.4" y2="69" stroke="#222" stroke-width="1.2"/>
<line x1="309.8" y1="65.8" x2="309.8" y2="72.2" stroke="#111" stroke-width="1.5"/>
<line x1="374.4" y1="65.8" x2="374.4" y2="72.2" stroke="#111" stroke-width="1.5"/>
<text x="355.5" y="67.8" font-size="9" text-anchor="middle" font-weight="normal" fill="#000" color="#000">R3</text>
<text x="305.7" y="140" font-size="5.2" text-anchor="middle" font-weight="normal" fill="#333" color="#333">0</text>
<text x="314.6" y="140" font-size="5.2" text-anchor="middle" font-weight="normal" fill="#333" color="#333">10<tspan dy="-2" font-size="3.6">2</tspan></text>
<text x="336" y="140" font-size="5.2" text-anchor="middle" font-weight="normal" fill="#333" color="#333">10<tspan dy="-2" font-size="3.6">3</tspan></text>
<text x="355" y="140" font-size="5.2" text-anchor="middle" font-weight="normal" fill="#333" color="#333">10<tspan dy="-2" font-size="3.6">4</tspan></text>
<text x="372.5" y="140" font-size="5.2" text-anchor="middle" font-weight="normal" fill="#333" color="#333">10<tspan dy="-2" font-size="3.6">5</tspan></text>
<text x="333.3" y="153.7" font-size="13.2" text-anchor="middle" font-weight="normal" fill="#000" color="#000">CD48</text>
<text x="271.5" y="76.5" font-size="13.2" text-anchor="middle" font-weight="normal" fill="#000" color="#000" transform="rotate(-90 271.5 76.5)">% of Max</text>
<path d="M425.4 123.1h1.0M428.1 113.0h1.0M423.5 121.4h1.0M424.8 111.6h1.0M429.6 126.0h1.0M431.7 120.2h1.0M434.3 119.5h1.0M426.5 118.7h1.0M429.4 118.6h1.0M429.3 120.6h1.0M426.7 103.7h1.0M422.5 115.1h1.0M422.9 111.9h1.0M433.3 116.1h1.0M426.8 117.3h1.0M427.8 114.5h1.0M432.1 113.2h1.0M421.7 110.9h1.0M422.5 109.0h1.0M424.1 113.9h1.0M433.6 126.0h1.0M426.3 124.0h1.0M429.6 114.6h1.0M426.9 128.0h1.0M425.5 121.6h1.0M431.4 118.6h1.0M421.1 115.4h1.0M431.3 111.6h1.0M425.6 120.8h1.0M421.5 128.0h1.0M425.1 118.5h1.0M429.4 123.0h1.0M423.5 112.9h1.0M422.6 124.3h1.0M420.8 118.3h1.0M427.7 114.8h1.0M425.4 118.4h1.0M424.3 114.6h1.0M423.4 120.9h1.0M425.8 115.7h1.0M431.6 119.9h1.0M426.9 113.3h1.0M429.8 116.2h1.0M429.4 103.8h1.0M427.4 124.3h1.0M426.0 116.8h1.0M430.2 118.3h1.0M420.5 120.2h1.0M434.6 115.2h1.0M424.9 119.3h1.0M428.8 116.3h1.0M431.6 128.3h1.0M425.0 113.8h1.0M428.9 110.0h1.0M433.3 121.2h1.0M429.0 121.7h1.0M429.2 130.0h1.0M425.8 117.0h1.0M423.8 128.2h1.0M431.3 111.9h1.0M426.0 125.0h1.0M420.7 116.5h1.0M428.7 120.3h1.0M424.8 114.0h1.0M425.5 120.6h1.0M425.8 116.9h1.0M425.4 121.6h1.0M426.6 127.2h1.0M425.9 106.8h1.0M425.6 115.9h1.0M426.0 111.3h1.0M427.1 122.6h1.0M431.5 119.7h1.0M427.9 118.3h1.0M427.6 114.5h1.0M422.2 113.9h1.0M426.4 120.3h1.0M426.8 122.1h1.0M431.7 126.7h1.0M429.1 117.2h1.0M431.9 113.3h1.0M425.5 113.5h1.0M427.1 121.9h1.0M425.4 127.6h1.0M419.2 114.2h1.0M420.3 120.8h1.0M429.9 119.9h1.0M428.7 107.8h1.0M425.6 125.0h1.0M424.7 112.4h1.0M429.7 128.4h1.0M427.7 116.3h1.0M422.8 120.2h1.0M420.5 127.6h1.0M426.3 125.0h1.0M423.8 125.8h1.0M428.1 118.2h1.0M426.5 118.9h1.0M428.2 121.9h1.0M420.9 118.8h1.0M427.6 123.0h1.0M429.3 111.5h1.0M434.1 116.4h1.0M431.6 110.7h1.0M432.8 128.7h1.0M431.2 115.2h1.0M425.1 121.3h1.0M431.3 122.3h1.0M436.3 125.0h1.0M433.4 123.6h1.0M418.7 121.0h1.0M427.3 124.7h1.0M424.0 120.5h1.0M426.6 119.5h1.0M426.8 116.2h1.0M426.1 112.6h1.0M427.4 116.3h1.0M429.5 122.3h1.0M422.7 123.2h1.0M429.9 113.9h1.0M421.3 114.9h1.0M423.1 119.5h1.0M434.6 124.0h1.0M424.8 107.3h1.0M426.3 123.4h1.0M421.4 127.0h1.0M431.5 123.6h1.0M430.1 120.8h1.0M427.7 120.5h1.0M425.3 113.2h1.0M431.3 106.2h1.0M424.4 120.6h1.0M430.1 112.4h1.0M434.3 123.6h1.0M418.5 117.4h1.0M425.5 120.1h1.0M425.3 115.1h1.0M427.5 120.4h1.0M421.3 120.1h1.0M428.0 116.5h1.0M424.4 124.6h1.0M422.1 116.5h1.0M424.6 116.1h1.0M429.2 111.2h1.0M425.0 129.1h1.0M425.6 116.6h1.0M428.2 120.5h1.0M421.5 117.6h1.0M431.5 118.6h1.0M429.5 117.6h1.0M432.6 115.5h1.0M430.6 113.7h1.0M434.7 121.2h1.0M428.3 113.0h1.0M431.9 119.4h1.0M430.1 112.5h1.0M421.9 119.1h1.0M426.9 111.6h1.0M426.4 116.0h1.0M426.8 109.4h1.0M428.7 119.1h1.0M429.7 121.3h1.0M422.4 127.3h1.0M425.2 117.0h1.0M427.2 118.0h1.0M421.8 121.4h1.0M425.1 115.4h1.0M428.9 128.0h1.0M429.6 123.6h1.0M423.7 114.0h1.0M435.4 119.3h1.0M428.2 119.1h1.0M429.6 108.2h1.0M433.2 115.8h1.0M422.8 109.1h1.0M423.9 113.3h1.0M430.7 107.2h1.0M431.1 114.7h1.0M426.5 116.1h1.0M421.2 113.8h1.0M423.7 108.1h1.0M420.4 110.2h1.0M432.8 129.4h1.0M428.9 110.3h1.0M427.8 119.3h1.0M423.7 119.1h1.0M433.1 106.2h1.0M427.9 118.2h1.0M423.8 119.2h1.0M432.5 113.9h1.0M432.4 119.4h1.0M428.4 123.4h1.0M427.1 120.3h1.0M424.9 117.2h1.0M421.1 111.4h1.0M431.0 115.1h1.0M428.2 107.9h1.0M428.4 115.0h1.0M426.2 112.2h1.0M431.3 120.0h1.0M433.4 118.0h1.0M423.0 114.4h1.0M421.8 124.4h1.0M431.2 115.5h1.0M427.8 118.9h1.0M431.3 118.3h1.0M427.2 119.2h1.0M420.4 111.3h1.0M427.4 126.0h1.0M428.3 121.0h1.0M422.6 122.4h1.0M426.7 118.9h1.0M426.5 119.0h1.0M429.4 120.7h1.0M422.6 113.7h1.0M426.2 113.9h1.0M430.4 110.8h1.0M425.4 113.4h1.0M423.9 114.8h1.0M428.1 117.6h1.0M424.7 117.8h1.0M434.0 111.5h1.0M428.0 114.5h1.0M431.0 115.3h1.0M433.0 114.9h1.0M429.0 125.4h1.0M431.0 107.5h1.0M420.3 112.2h1.0M427.1 116.6h1.0M430.4 118.8h1.0M426.4 119.3h1.0M427.8 109.3h1.0M429.5 116.2h1.0M426.0 107.9h1.0M425.0 114.2h1.0M425.0 120.9h1.0M429.2 118.6h1.0M427.5 123.1h1.0M421.3 109.4h1.0M428.0 117.0h1.0M431.4 114.9h1.0M435.9 113.5h1.0M422.7 106.1h1.0M427.2 113.1h1.0M433.3 116.1h1.0M429.9 123.6h1.0M433.1 121.8h1.0M424.6 118.1h1.0M427.6 125.0h1.0M430.1 122.9h1.0M421.5 103.9h1.0M430.2 116.2h1.0M430.1 112.4h1.0M421.0 121.1h1.0M439.4 113.2h1.0M424.9 113.8h1.0M428.0 111.2h1.0M420.4 113.3h1.0M427.7 120.8h1.0M427.1 113.7h1.0M430.1 119.8h1.0M430.5 127.6h1.0M436.0 127.6h1.0M431.1 111.8h1.0M425.0 117.7h1.0M424.7 115.8h1.0M425.9 110.5h1.0M426.7 122.9h1.0M430.1 117.9h1.0M427.2 109.1h1.0M419.6 115.7h1.0M431.7 124.3h1.0M431.6 121.0h1.0M422.0 117.8h1.0M428.4 125.5h1.0M431.2 112.7h1.0M426.5 111.2h1.0M426.1 117.2h1.0M437.8 114.8h1.0M425.3 109.4h1.0M426.6 118.8h1.0M433.4 105.0h1.0M425.9 123.9h1.0M430.9 126.3h1.0M428.7 116.0h1.0M428.4 123.2h1.0M431.1 117.1h1.0M431.2 116.5h1.0M432.8 126.8h1.0M427.1 116.1h1.0M427.3 112.0h1.0M426.3 121.4h1.0M428.8 119.5h1.0M426.8 128.9h1.0M425.6 117.5h1.0M419.5 120.1h1.0M430.3 116.1h1.0M422.9 121.5h1.0M433.8 117.1h1.0M428.3 115.4h1.0M427.6 115.2h1.0M423.1 120.7h1.0M425.1 113.7h1.0M431.6 122.1h1.0M431.5 123.6h1.0M433.7 115.0h1.0M436.1 121.8h1.0M424.5 113.3h1.0M422.3 127.5h1.0M426.8 127.0h1.0M423.8 103.5h1.0M423.8 117.0h1.0M432.0 118.6h1.0M424.1 106.2h1.0M436.2 113.9h1.0M426.2 118.5h1.0M420.6 113.3h1.0M423.8 114.6h1.0M438.9 118.0h1.0M424.9 110.2h1.0M433.4 116.4h1.0M429.6 128.7h1.0M427.2 123.1h1.0M431.0 113.4h1.0M435.1 116.6h1.0M430.9 112.0h1.0M428.8 115.1h1.0M433.6 112.8h1.0M427.6 112.7h1.0M426.9 113.5h1.0M424.3 116.5h1.0M428.3 125.7h1.0M423.1 120.8h1.0M427.4 114.6h1.0M432.6 116.0h1.0M427.4 124.4h1.0M427.7 122.1h1.0M428.0 120.3h1.0M424.3 129.7h1.0M434.7 113.8h1.0M426.3 121.1h1.0M431.0 113.6h1.0M429.4 128.7h1.0M433.0 120.6h1.0M427.4 120.5h1.0M431.8 110.9h1.0M423.8 104.6h1.0M433.9 119.5h1.0M422.3 113.7h1.0M426.0 112.8h1.0M429.0 115.3h1.0M426.9 119.2h1.0M421.5 107.5h1.0M428.6 113.5h1.0M429.7 119.7h1.0M428.3 114.3h1.0M432.0 120.4h1.0M429.0 128.4h1.0M428.9 119.2h1.0M426.3 114.7h1.0M425.4 108.2h1.0M424.9 112.2h1.0M422.1 122.2h1.0M422.9 127.1h1.0M425.3 114.8h1.0M434.5 130.1h1.0M427.5 121.8h1.0M426.1 117.3h1.0M429.3 116.4h1.0M430.2 120.1h1.0M428.4 126.1h1.0M425.3 127.2h1.0M422.6 124.9h1.0M425.7 126.6h1.0M426.6 120.0h1.0M424.0 114.0h1.0M421.9 117.0h1.0M419.9 115.9h1.0M429.6 112.7h1.0M423.3 115.0h1.0M436.7 121.4h1.0M430.7 116.1h1.0M438.0 118.9h1.0M426.7 117.8h1.0M427.8 121.1h1.0M432.9 111.9h1.0M428.2 127.7h1.0M427.9 120.3h1.0M422.7 110.5h1.0M430.8 108.1h1.0M431.8 120.2h1.0M432.2 118.8h1.0M426.0 111.3h1.0M421.4 109.6h1.0M421.2 118.4h1.0M428.5 117.3h1.0M427.7 120.8h1.0M426.0 130.5h1.0M426.1 117.8h1.0M429.2 115.8h1.0M428.7 114.7h1.0M425.0 123.5h1.0M428.6 123.7h1.0M421.5 118.9h1.0M430.8 125.6h1.0M424.0 122.5h1.0M424.9 117.4h1.0M432.7 110.0h1.0M427.1 114.3h1.0M432.5 115.7h1.0M429.7 116.9h1.0M423.0 116.4h1.0M430.5 103.5h1.0M431.4 121.9h1.0M424.1 126.2h1.0M433.0 110.5h1.0M429.3 121.2h1.0M429.2 121.3h1.0M419.8 121.9h1.0M421.2 110.8h1.0M435.2 114.1h1.0M428.7 121.7h1.0M435.9 117.5h1.0M417.8 104.1h1.0M423.3 119.1h1.0M428.3 129.4h1.0M430.1 114.9h1.0M422.8 114.1h1.0M437.7 107.7h1.0M425.7 115.7h1.0M428.9 117.0h1.0M425.7 121.0h1.0M432.4 112.2h1.0M432.4 119.6h1.0M430.5 128.6h1.0M432.6 121.5h1.0M423.9 113.0h1.0M427.0 112.6h1.0M417.2 114.9h1.0M429.9 123.7h1.0M421.5 108.7h1.0M434.1 119.1h1.0M427.7 121.7h1.0M422.6 120.1h1.0M431.4 127.3h1.0M427.0 120.6h1.0M427.8 112.6h1.0M423.7 119.0h1.0M430.2 130.0h1.0M427.4 113.2h1.0M429.1 126.8h1.0M428.5 125.5h1.0M423.9 121.8h1.0M429.1 118.2h1.0M430.9 121.7h1.0M426.1 114.1h1.0M427.9 118.5h1.0M429.6 125.6h1.0M428.1 120.5h1.0M428.5 122.0h1.0M432.2 123.8h1.0M420.8 117.5h1.0M430.8 113.7h1.0M429.7 120.1h1.0M430.3 119.4h1.0M429.3 123.1h1.0M429.1 120.3h1.0M423.5 125.6h1.0M428.0 122.7h1.0M426.7 115.6h1.0M432.5 121.5h1.0M418.7 112.7h1.0M429.7 121.6h1.0M428.7 117.3h1.0M426.8 123.7h1.0M431.8 130.8h1.0M436.5 120.6h1.0M425.3 113.8h1.0M429.0 112.6h1.0M431.9 110.1h1.0M424.4 114.4h1.0M425.1 116.9h1.0M429.8 119.9h1.0M431.9 123.8h1.0M428.9 116.5h1.0M421.9 107.6h1.0M430.3 120.8h1.0M428.6 122.4h1.0M431.9 119.3h1.0M435.8 119.9h1.0M426.2 127.0h1.0M425.9 118.4h1.0M425.9 124.4h1.0M425.0 110.9h1.0M427.9 114.9h1.0M428.2 126.2h1.0M430.9 115.8h1.0M427.1 122.0h1.0M427.9 105.2h1.0M430.5 120.4h1.0M422.8 117.9h1.0M429.4 117.2h1.0M426.1 106.4h1.0M422.4 113.8h1.0M433.3 120.4h1.0M429.7 118.2h1.0M417.6 123.9h1.0M425.5 118.8h1.0M425.9 127.0h1.0M433.5 116.5h1.0M427.6 127.1h1.0M422.6 118.4h1.0M433.4 110.0h1.0M419.0 130.6h1.0M434.9 115.0h1.0M423.6 114.7h1.0M428.8 114.7h1.0M427.2 116.9h1.0M427.1 106.7h1.0M428.1 110.8h1.0M420.5 121.8h1.0M425.8 115.5h1.0M430.1 126.8h1.0M429.9 127.4h1.0M424.2 115.8h1.0M431.7 117.5h1.0M438.5 117.6h1.0M431.2 112.9h1.0M437.3 116.0h1.0M429.1 116.3h1.0M435.6 115.0h1.0M427.5 126.5h1.0M431.1 119.2h1.0M417.6 120.2h1.0M431.2 119.2h1.0M421.2 113.8h1.0M426.9 120.6h1.0M434.1 120.2h1.0M428.1 124.4h1.0M429.9 117.6h1.0M425.7 124.7h1.0M425.6 111.2h1.0M429.0 110.2h1.0M422.3 116.3h1.0M425.1 123.8h1.0M423.4 119.3h1.0M420.8 109.4h1.0M428.0 113.7h1.0M432.3 119.2h1.0M430.1 112.2h1.0M434.6 115.5h1.0M422.8 114.4h1.0M424.5 115.1h1.0M426.4 121.2h1.0M438.9 122.1h1.0M423.7 119.4h1.0M433.4 122.5h1.0M428.1 119.7h1.0M427.4 118.6h1.0M425.0 119.5h1.0M434.8 123.0h1.0M429.0 113.8h1.0M420.9 114.7h1.0M434.2 121.7h1.0M433.3 118.8h1.0M430.5 122.0h1.0M424.5 120.2h1.0M427.0 116.4h1.0M427.3 114.7h1.0M422.4 115.5h1.0M428.6 125.6h1.0M429.7 117.1h1.0M434.1 121.7h1.0M420.0 115.7h1.0M432.3 119.3h1.0M427.2 114.9h1.0M424.1 116.8h1.0M422.7 124.8h1.0M426.1 117.1h1.0M425.5 120.5h1.0M433.3 120.7h1.0M433.2 106.4h1.0M430.3 114.2h1.0M421.2 121.1h1.0M426.2 120.4h1.0M425.4 121.6h1.0M429.7 107.9h1.0M427.0 121.5h1.0M425.4 115.2h1.0M433.5 113.4h1.0M425.0 113.3h1.0M426.1 125.4h1.0M423.8 123.9h1.0M428.5 122.7h1.0M431.3 119.6h1.0M429.8 115.4h1.0M428.2 119.7h1.0M423.8 118.1h1.0M426.0 116.1h1.0M421.7 126.0h1.0M426.8 126.4h1.0M420.1 119.0h1.0M424.8 120.9h1.0M427.0 107.8h1.0M426.6 120.6h1.0M428.2 117.5h1.0M429.2 117.7h1.0M433.1 113.2h1.0M432.6 104.3h1.0M428.6 115.1h1.0M432.5 107.0h1.0M425.7 114.6h1.0M432.6 119.9h1.0M422.0 109.8h1.0M426.8 120.2h1.0M428.4 125.2h1.0M421.2 118.8h1.0M419.9 122.2h1.0M435.9 122.2h1.0M434.9 113.4h1.0M420.2 125.1h1.0M426.9 113.7h1.0M431.1 122.7h1.0M430.1 123.5h1.0M424.1 120.6h1.0M427.1 118.5h1.0M425.1 115.6h1.0M426.8 123.6h1.0M424.0 113.5h1.0M424.5 123.8h1.0M429.6 121.5h1.0M424.5 105.3h1.0M428.4 117.8h1.0M426.9 121.7h1.0M417.8 107.5h1.0M426.5 118.2h1.0M430.7 113.3h1.0M431.1 117.0h1.0M425.4 114.3h1.0M430.5 120.5h1.0M423.8 123.6h1.0M433.5 119.0h1.0M430.2 118.3h1.0M427.6 112.8h1.0M433.6 110.4h1.0M424.5 116.7h1.0M428.4 120.4h1.0M424.8 122.8h1.0M423.1 124.6h1.0M435.0 121.1h1.0M423.1 109.4h1.0M424.1 122.2h1.0M422.7 124.6h1.0M425.9 112.9h1.0M426.0 114.4h1.0M428.4 118.8h1.0M429.0 125.7h1.0M426.2 122.5h1.0M433.5 120.6h1.0M423.7 125.3h1.0M430.0 113.9h1.0M421.7 111.9h1.0M420.7 120.3h1.0M427.1 130.7h1.0M432.1 121.8h1.0M430.7 110.2h1.0M423.5 124.8h1.0M424.6 125.3h1.0M423.6 122.8h1.0M421.5 115.0h1.0M430.8 116.1h1.0M421.9 111.1h1.0M429.6 116.7h1.0M431.2 115.6h1.0M430.0 114.4h1.0M426.0 116.2h1.0M430.5 112.2h1.0M427.1 120.4h1.0M426.8 114.4h1.0M430.2 121.0h1.0M428.3 118.7h1.0M437.1 123.0h1.0M425.7 130.1h1.0M425.4 123.2h1.0M428.6 123.7h1.0M433.0 122.1h1.0M432.5 119.8h1.0M434.8 120.1h1.0M417.6 117.5h1.0M418.9 110.5h1.0M417.5 125.4h1.0M431.1 112.7h1.0M428.4 115.8h1.0M427.6 116.5h1.0M438.5 122.4h1.0M430.9 125.6h1.0M428.2 115.0h1.0M428.6 118.6h1.0M423.6 122.2h1.0M424.0 112.1h1.0M426.7 125.9h1.0M429.1 123.6h1.0M426.3 117.8h1.0M423.9 117.9h1.0M430.6 113.2h1.0M427.3 112.0h1.0M423.6 122.6h1.0M422.7 120.0h1.0M423.2 115.5h1.0M430.8 130.1h1.0M423.1 116.3h1.0M424.6 117.8h1.0M422.1 119.5h1.0M430.7 110.5h1.0M435.2 116.7h1.0M430.6 121.1h1.0M427.5 112.5h1.0M429.5 119.9h1.0M433.1 121.9h1.0M435.6 113.1h1.0M432.6 113.3h1.0M425.4 121.0h1.0M433.6 122.2h1.0M421.5 124.7h1.0M429.3 111.1h1.0M432.8 118.6h1.0M430.9 113.4h1.0M431.2 121.5h1.0M425.2 112.0h1.0M425.7 124.6h1.0M425.8 120.3h1.0M429.5 113.9h1.0M420.7 126.0h1.0M421.9 105.3h1.0M426.7 124.9h1.0M433.3 127.4h1.0M428.3 108.1h1.0M427.0 118.9h1.0M428.6 115.0h1.0M426.5 108.1h1.0M433.7 109.1h1.0M427.9 121.8h1.0M430.7 113.9h1.0M429.2 126.5h1.0M427.2 118.1h1.0M430.1 117.7h1.0M426.4 120.4h1.0M436.2 115.3h1.0M421.5 117.8h1.0M427.8 120.0h1.0M433.7 119.2h1.0M420.5 114.3h1.0M430.6 112.1h1.0M428.2 121.0h1.0M428.8 113.5h1.0M431.2 120.7h1.0M430.5 123.7h1.0M428.0 116.6h1.0M432.4 125.0h1.0M432.2 119.9h1.0M418.1 118.0h1.0M427.5 124.9h1.0M425.6 114.8h1.0M428.7 116.4h1.0M428.8 119.5h1.0M426.0 125.4h1.0M427.1 119.9h1.0M428.4 106.7h1.0M427.0 116.5h1.0M419.3 126.7h1.0M429.4 113.1h1.0M433.9 121.7h1.0M435.6 115.0h1.0M431.6 124.7h1.0M422.6 120.4h1.0M431.0 124.0h1.0M433.8 121.8h1.0M428.8 111.3h1.0M421.7 112.6h1.0M426.9 119.3h1.0M429.9 113.4h1.0M427.4 116.3h1.0M435.2 125.5h1.0M422.8 122.4h1.0M431.3 118.8h1.0M434.0 121.7h1.0M430.1 117.7h1.0M427.0 114.3h1.0M438.3 112.0h1.0M424.0 112.1h1.0M430.4 124.5h1.0M423.6 112.8h1.0M425.2 123.5h1.0M429.1 124.9h1.0M421.1 121.5h1.0M432.9 125.3h1.0M434.3 103.7h1.0M426.7 123.4h1.0M435.3 116.6h1.0M423.4 117.9h1.0M427.1 120.6h1.0M421.9 106.9h1.0M435.9 115.1h1.0M426.9 127.4h1.0M427.6 115.2h1.0M428.7 117.5h1.0M429.3 112.6h1.0M428.0 114.3h1.0M430.0 122.2h1.0M425.2 129.3h1.0M420.7 121.6h1.0M432.5 127.0h1.0M429.6 113.7h1.0M422.3 110.7h1.0M425.7 120.6h1.0M429.5 116.1h1.0M421.8 122.1h1.0M427.9 115.3h1.0M424.4 125.1h1.0M423.8 121.1h1.0M431.6 109.4h1.0M426.9 117.9h1.0M429.5 127.4h1.0M425.7 125.0h1.0M426.3 120.9h1.0M433.6 120.0h1.0M434.6 123.4h1.0M421.8 127.3h1.0M429.3 122.0h1.0M432.8 107.8h1.0M430.4 119.0h1.0M432.3 122.4h1.0M422.5 115.2h1.0M421.0 112.9h1.0M426.3 119.1h1.0M434.4 126.4h1.0M433.4 112.0h1.0M425.1 113.0h1.0M428.5 115.0h1.0M424.3 114.6h1.0M428.2 124.4h1.0M427.7 121.8h1.0M424.6 128.2h1.0M428.9 120.7h1.0M432.8 126.6h1.0M427.0 117.4h1.0M431.2 122.5h1.0M422.2 122.7h1.0M434.6 114.9h1.0M428.3 119.5h1.0M432.7 114.3h1.0M425.0 130.2h1.0M430.5 107.7h1.0M426.9 114.3h1.0M432.5 118.8h1.0M422.9 112.9h1.0M431.4 116.3h1.0M433.9 120.6h1.0M434.4 118.7h1.0M429.0 129.2h1.0M426.4 123.2h1.0M422.6 121.6h1.0M420.7 119.3h1.0M424.1 127.6h1.0M421.3 121.4h1.0M433.0 114.9h1.0M426.8 113.2h1.0M425.2 118.3h1.0M428.5 121.5h1.0M422.1 122.4h1.0M422.4 117.4h1.0M424.3 121.6h1.0M428.6 124.1h1.0M422.6 114.6h1.0M425.8 120.7h1.0M421.7 116.1h1.0M423.1 121.4h1.0M429.5 115.6h1.0M433.9 114.4h1.0M429.8 124.0h1.0M422.7 122.6h1.0M427.6 121.2h1.0M429.0 116.2h1.0M422.1 124.9h1.0M419.9 125.7h1.0M426.0 117.1h1.0M421.5 111.0h1.0M428.7 113.3h1.0M425.1 113.0h1.0M425.2 118.1h1.0M423.1 119.5h1.0M429.9 123.3h1.0M429.5 113.4h1.0M425.9 115.0h1.0M423.5 116.6h1.0M428.8 114.8h1.0M428.9 117.8h1.0M430.4 121.8h1.0M426.5 125.1h1.0M431.1 109.9h1.0M433.5 121.3h1.0M422.6 124.2h1.0M428.1 113.3h1.0M431.9 117.9h1.0M428.3 108.1h1.0M422.9 110.2h1.0M427.4 118.9h1.0M431.9 118.8h1.0M429.7 119.9h1.0M430.0 109.6h1.0M429.8 117.2h1.0M435.4 118.4h1.0M425.1 114.7h1.0M418.1 115.8h1.0M435.4 121.9h1.0M424.7 120.2h1.0M424.6 116.3h1.0M421.4 121.8h1.0M427.0 116.5h1.0M425.6 117.7h1.0" stroke="#000" stroke-width="1.0" fill="none"/>
<path d="M418.8 122.5h0.8M435.9 108.2h0.8M430.4 116.2h0.8M416.9 126.7h0.8M419.0 130.2h0.8M426.5 130.6h0.8M436.1 119.7h0.8M437.9 117.5h0.8M425.4 130.4h0.8M421.4 120.0h0.8M438.1 122.6h0.8M430.5 107.8h0.8M434.1 130.1h0.8M426.1 104.1h0.8M422.8 105.0h0.8M432.3 129.7h0.8M420.0 104.0h0.8M421.8 121.6h0.8M427.0 103.8h0.8M420.3 122.4h0.8M429.9 122.7h0.8M438.7 121.6h0.8M419.0 129.2h0.8M428.3 113.0h0.8M437.4 113.0h0.8M436.4 127.3h0.8M418.3 114.6h0.8M423.7 125.2h0.8M427.7 125.3h0.8M437.1 129.6h0.8M424.3 121.2h0.8M429.5 107.6h0.8M422.3 115.1h0.8M422.5 108.8h0.8M432.4 104.5h0.8M428.4 125.3h0.8M419.0 116.1h0.8M436.9 112.7h0.8M425.2 128.0h0.8M428.3 129.6h0.8M424.5 123.9h0.8M435.4 126.2h0.8M430.5 111.6h0.8M430.9 110.6h0.8M423.9 125.2h0.8M437.1 120.8h0.8M438.1 129.7h0.8M436.8 123.3h0.8M431.0 114.4h0.8M439.0 104.2h0.8M431.7 115.3h0.8M425.6 119.1h0.8M422.8 109.6h0.8M417.7 119.9h0.8M424.6 130.6h0.8M437.2 112.2h0.8M425.5 124.7h0.8M438.3 107.1h0.8M432.4 121.5h0.8M425.7 126.1h0.8M432.2 124.5h0.8M434.9 117.3h0.8M432.3 119.2h0.8M420.7 120.3h0.8M421.8 113.6h0.8M428.8 126.5h0.8M423.9 112.3h0.8M423.9 129.3h0.8M433.6 112.4h0.8M427.3 120.6h0.8M423.4 115.5h0.8M421.1 128.4h0.8M428.9 122.4h0.8M429.2 126.3h0.8M424.6 111.6h0.8M425.9 127.3h0.8M436.1 117.0h0.8M422.1 113.8h0.8M418.2 119.6h0.8M429.7 116.7h0.8M432.7 108.6h0.8M417.4 126.4h0.8M434.2 122.8h0.8M422.3 121.4h0.8M427.4 125.7h0.8M437.0 128.9h0.8M430.4 123.7h0.8M418.0 121.5h0.8M434.4 104.3h0.8M418.2 115.0h0.8M433.7 121.2h0.8M430.1 119.6h0.8M428.7 104.9h0.8M419.9 111.9h0.8M430.0 122.0h0.8M434.8 116.2h0.8M430.2 129.3h0.8M421.5 117.1h0.8M417.2 120.4h0.8M419.9 130.2h0.8M422.7 108.8h0.8M416.7 122.3h0.8M439.5 127.0h0.8M436.5 123.5h0.8M426.4 121.3h0.8M436.7 108.9h0.8M432.3 115.2h0.8M434.9 115.8h0.8M437.6 122.1h0.8M427.4 117.6h0.8M430.6 125.0h0.8M435.3 130.0h0.8M430.8 126.3h0.8M439.3 106.4h0.8M438.9 129.1h0.8M428.6 110.1h0.8M426.4 103.7h0.8M422.9 106.6h0.8M435.9 126.8h0.8M427.9 120.7h0.8M434.2 104.8h0.8M438.7 130.2h0.8M424.2 122.8h0.8M422.9 112.6h0.8M434.7 106.1h0.8M425.1 122.1h0.8M427.7 105.0h0.8M434.1 125.9h0.8M426.0 125.3h0.8M423.3 129.9h0.8M420.3 125.7h0.8M421.8 124.4h0.8M433.7 122.0h0.8M438.9 127.8h0.8M428.2 130.5h0.8M431.6 105.5h0.8M435.9 118.6h0.8M418.7 110.8h0.8M422.4 128.6h0.8M422.6 120.8h0.8M418.6 105.5h0.8M425.6 103.5h0.8M439.3 119.5h0.8M429.9 108.4h0.8M432.0 119.1h0.8M432.3 110.4h0.8M421.2 123.5h0.8M432.9 126.2h0.8M423.5 109.1h0.8M431.4 129.8h0.8M432.9 130.4h0.8M430.9 113.9h0.8M436.4 117.1h0.8M425.5 105.3h0.8M419.6 114.0h0.8M437.7 115.3h0.8M438.3 123.3h0.8M421.3 117.3h0.8M431.2 129.0h0.8M418.6 110.0h0.8M422.2 127.3h0.8M417.5 118.1h0.8M430.1 130.0h0.8M427.7 130.0h0.8M423.4 120.7h0.8M417.6 111.6h0.8M435.7 104.6h0.8M421.8 105.4h0.8M437.9 116.0h0.8M438.9 116.4h0.8M422.8 105.7h0.8M432.6 128.4h0.8M438.7 113.5h0.8M432.5 121.7h0.8M437.1 109.9h0.8M421.7 123.3h0.8M430.4 120.7h0.8M423.0 129.0h0.8M417.4 129.5h0.8M436.1 126.1h0.8M427.5 107.4h0.8M431.8 108.0h0.8M417.3 122.8h0.8M438.4 116.0h0.8M436.2 106.5h0.8M435.3 115.2h0.8M419.7 118.2h0.8M420.7 115.8h0.8M424.0 109.1h0.8M417.3 125.7h0.8M422.1 123.1h0.8M430.9 107.8h0.8M436.4 104.6h0.8M433.5 122.6h0.8M429.3 123.4h0.8M427.2 126.6h0.8M438.8 129.1h0.8M432.2 130.5h0.8M423.5 109.4h0.8M434.2 104.5h0.8M423.4 107.0h0.8M432.7 105.7h0.8M421.9 112.0h0.8M433.3 121.4h0.8M434.4 120.4h0.8M423.6 126.7h0.8M435.4 115.2h0.8M420.5 124.4h0.8M427.0 122.0h0.8M419.0 123.0h0.8M424.4 107.9h0.8M434.5 118.2h0.8M417.1 116.2h0.8M423.4 125.0h0.8M428.4 114.2h0.8M424.6 110.9h0.8M429.5 112.8h0.8M427.5 117.2h0.8M427.8 108.4h0.8M424.4 121.6h0.8" stroke="#111" stroke-width="0.8" fill="none"/>
<path d="M430.5 77.9h0.95M426.0 81.0h0.95M427.6 88.1h0.95M432.8 66.1h0.95M431.8 82.3h0.95M428.9 72.9h0.95M434.2 89.1h0.95M431.2 82.6h0.95M424.4 89.3h0.95M422.0 67.6h0.95M420.2 98.4h0.95M422.3 86.8h0.95M422.9 62.3h0.95M434.0 80.0h0.95M429.5 77.8h0.95M422.0 96.0h0.95M434.5 95.6h0.95M428.4 73.8h0.95M427.6 74.1h0.95M432.7 84.1h0.95M417.5 80.2h0.95M426.5 64.1h0.95M435.4 82.8h0.95M437.1 89.6h0.95M431.7 75.3h0.95M425.6 85.5h0.95M422.6 83.3h0.95M432.4 82.7h0.95M428.6 84.1h0.95M421.3 88.4h0.95M433.5 84.6h0.95M438.9 68.3h0.95M428.6 74.5h0.95M421.3 77.7h0.95M429.5 89.5h0.95M437.4 81.1h0.95M418.2 86.2h0.95M426.2 85.3h0.95M430.3 67.8h0.95M427.7 85.8h0.95M424.7 80.5h0.95M437.5 74.5h0.95M425.6 86.3h0.95M424.2 72.8h0.95M437.1 88.2h0.95M430.8 79.9h0.95M431.3 84.8h0.95M427.1 81.1h0.95M427.1 85.7h0.95M428.0 97.4h0.95M439.9 73.5h0.95M434.3 66.6h0.95M420.2 76.5h0.95M427.5 80.3h0.95M427.2 88.0h0.95M438.6 93.7h0.95M433.1 92.8h0.95M421.1 79.0h0.95M431.1 73.2h0.95M425.9 90.1h0.95M418.2 86.9h0.95M429.8 74.4h0.95M427.6 91.5h0.95M434.7 98.9h0.95M425.6 81.0h0.95M433.1 83.7h0.95M430.6 80.6h0.95M427.6 96.9h0.95M436.5 85.2h0.95M420.5 81.6h0.95M427.1 90.7h0.95M422.2 62.6h0.95M422.6 92.5h0.95M434.4 79.7h0.95M422.9 84.6h0.95M427.7 86.2h0.95M431.1 81.1h0.95M431.2 88.0h0.95M434.2 78.5h0.95M430.8 74.3h0.95M427.3 89.0h0.95M432.0 97.5h0.95M436.8 88.2h0.95M431.1 88.3h0.95M421.7 84.7h0.95M426.7 84.5h0.95M429.1 76.7h0.95M433.6 73.1h0.95M426.0 83.1h0.95M432.4 74.5h0.95M424.9 86.0h0.95M428.1 83.9h0.95M432.9 74.8h0.95M426.3 73.5h0.95M431.0 72.0h0.95M430.9 86.9h0.95M433.2 80.4h0.95M424.4 99.3h0.95M423.5 72.5h0.95M428.6 78.7h0.95M431.8 81.9h0.95M418.2 91.2h0.95M437.9 86.6h0.95M435.1 86.7h0.95M417.9 78.3h0.95M419.7 80.8h0.95M430.9 82.6h0.95M422.5 91.9h0.95M428.6 77.6h0.95M428.3 72.9h0.95M434.8 77.9h0.95M428.2 83.3h0.95M424.9 67.9h0.95M424.6 91.6h0.95M429.5 82.6h0.95M421.1 87.1h0.95M432.2 87.3h0.95M433.9 85.6h0.95M436.4 84.6h0.95M425.2 79.3h0.95M419.4 81.3h0.95M430.2 65.5h0.95M429.0 88.2h0.95M424.9 74.9h0.95M433.1 80.0h0.95M429.7 70.0h0.95M428.1 77.9h0.95M425.8 78.8h0.95M423.5 94.2h0.95M433.8 69.4h0.95M426.8 72.4h0.95M433.2 82.4h0.95M434.5 77.5h0.95M418.5 81.3h0.95M428.2 87.5h0.95M433.6 78.2h0.95M428.3 70.2h0.95M425.8 89.8h0.95M428.5 92.5h0.95M434.0 72.9h0.95M422.8 83.9h0.95M426.2 85.8h0.95M422.4 74.9h0.95M434.0 80.3h0.95M426.6 77.0h0.95M431.4 72.9h0.95M435.6 76.4h0.95M430.3 83.0h0.95M432.8 100.9h0.95M438.7 64.7h0.95M421.9 82.9h0.95M424.4 75.0h0.95M432.5 72.1h0.95M428.7 79.7h0.95M434.6 83.9h0.95M434.1 87.6h0.95M434.1 93.3h0.95M434.5 85.8h0.95M425.5 82.6h0.95M433.2 90.1h0.95M430.4 72.3h0.95M430.8 85.2h0.95M431.9 91.2h0.95M437.9 82.6h0.95M430.9 72.2h0.95M435.4 93.1h0.95M427.5 81.0h0.95M427.8 85.8h0.95M418.4 81.2h0.95M418.3 79.6h0.95M427.6 98.4h0.95M433.2 101.5h0.95M433.1 88.7h0.95" stroke="#3030d0" stroke-width="0.95" fill="none"/>
<path d="M431.2 77.3h0.95M426.3 72.3h0.95M439.1 90.9h0.95M424.7 76.4h0.95M426.5 91.0h0.95M429.0 81.0h0.95M426.6 90.4h0.95M431.0 84.9h0.95M422.3 70.5h0.95M424.7 75.9h0.95M437.1 75.4h0.95M431.5 83.3h0.95M424.7 79.6h0.95M431.3 86.4h0.95M434.1 88.7h0.95M426.7 91.9h0.95M421.4 78.2h0.95M429.8 88.3h0.95M429.4 96.5h0.95M432.6 93.3h0.95M427.1 89.2h0.95M425.8 86.1h0.95M436.3 82.9h0.95M426.2 101.4h0.95M433.1 78.8h0.95M417.9 68.4h0.95M431.7 81.7h0.95M426.4 70.3h0.95M436.1 83.6h0.95M419.9 86.1h0.95M431.7 83.3h0.95M437.5 85.2h0.95M439.9 77.0h0.95M429.0 70.3h0.95M434.8 77.8h0.95M428.1 92.1h0.95M426.3 88.6h0.95M424.0 86.4h0.95M426.7 76.6h0.95M425.9 86.0h0.95M430.0 78.9h0.95M427.8 76.2h0.95M430.6 69.8h0.95M434.7 79.3h0.95M428.1 93.4h0.95M427.3 81.4h0.95M430.2 84.4h0.95M429.2 73.9h0.95M428.5 82.1h0.95M420.5 69.5h0.95M420.0 92.3h0.95M426.2 76.6h0.95M429.0 73.6h0.95M429.2 65.5h0.95M425.0 77.3h0.95M424.3 96.0h0.95M430.0 85.2h0.95M431.6 69.3h0.95M431.6 69.4h0.95M418.6 87.1h0.95M424.4 74.6h0.95M433.0 84.3h0.95M429.9 78.0h0.95M430.9 84.5h0.95M435.8 72.6h0.95M433.0 88.4h0.95M433.3 78.2h0.95M434.7 80.5h0.95M426.6 73.5h0.95M419.1 89.1h0.95M438.8 71.3h0.95M437.9 84.7h0.95M425.5 90.1h0.95M433.7 78.9h0.95M418.9 78.3h0.95M427.5 69.8h0.95M419.7 75.0h0.95M431.9 97.7h0.95M427.3 74.9h0.95M433.6 89.0h0.95M427.2 83.7h0.95M428.9 81.4h0.95M437.4 91.6h0.95M430.8 81.7h0.95M424.6 68.2h0.95M433.1 69.8h0.95M431.1 87.7h0.95M436.8 95.1h0.95M433.1 84.4h0.95M434.4 80.6h0.95M436.6 88.3h0.95M425.0 90.0h0.95M436.0 79.4h0.95M428.6 90.3h0.95M426.2 90.9h0.95M425.9 84.8h0.95M428.9 89.0h0.95M432.8 90.5h0.95M431.4 68.6h0.95M430.2 76.5h0.95M432.3 81.9h0.95M428.0 83.3h0.95M435.7 97.3h0.95M427.0 89.9h0.95M433.3 87.0h0.95M430.2 80.9h0.95M424.0 98.8h0.95M435.8 75.3h0.95M431.4 89.9h0.95M421.4 78.2h0.95M427.6 90.5h0.95M435.1 65.1h0.95M425.7 91.5h0.95M431.6 79.6h0.95M426.0 81.0h0.95M429.0 75.8h0.95M424.6 72.1h0.95M431.1 97.3h0.95M427.4 76.9h0.95M426.4 87.1h0.95M431.2 71.6h0.95M418.3 80.1h0.95M419.5 98.0h0.95M433.7 81.5h0.95M425.2 87.8h0.95M427.0 89.8h0.95M425.3 71.4h0.95M425.0 72.0h0.95M423.6 89.2h0.95M428.0 64.3h0.95M434.2 100.8h0.95M435.6 88.6h0.95M425.6 85.3h0.95M432.7 90.2h0.95M418.0 80.3h0.95M437.4 93.3h0.95M419.7 80.5h0.95M432.9 86.5h0.95M428.7 68.1h0.95M430.9 88.6h0.95M430.5 62.5h0.95M433.9 77.4h0.95M430.8 78.0h0.95M429.0 94.1h0.95M419.9 88.8h0.95M435.4 81.4h0.95M435.0 84.5h0.95M429.2 78.4h0.95M430.9 88.9h0.95M427.7 75.5h0.95M422.1 90.2h0.95M417.2 94.3h0.95M429.3 77.3h0.95M430.3 90.2h0.95M423.9 100.2h0.95M422.0 84.3h0.95M426.6 84.3h0.95M427.9 83.0h0.95M434.7 79.2h0.95M423.8 71.8h0.95M423.8 82.0h0.95M430.1 76.2h0.95M427.6 88.2h0.95M436.9 75.4h0.95M431.6 69.4h0.95M433.8 86.5h0.95M419.8 71.3h0.95M433.7 87.2h0.95M432.6 84.5h0.95M430.4 73.4h0.95M432.7 68.8h0.95" stroke="#7030b0" stroke-width="0.95" fill="none"/>
<path d="M431.6 85.9h0.95M421.7 84.6h0.95M430.1 85.8h0.95M429.5 90.6h0.95M434.8 79.8h0.95M429.2 89.7h0.95M418.0 82.0h0.95M427.8 67.5h0.95M434.2 69.1h0.95M435.9 95.4h0.95M426.2 79.0h0.95M433.7 71.2h0.95M422.1 66.3h0.95M426.4 77.2h0.95M433.2 81.0h0.95M434.2 83.2h0.95M423.5 86.4h0.95M438.3 86.5h0.95M434.3 82.7h0.95M422.2 75.2h0.95M433.2 82.5h0.95M427.5 79.2h0.95M427.3 84.0h0.95M428.3 81.9h0.95M430.0 73.0h0.95M417.7 62.1h0.95M427.5 87.4h0.95M429.8 69.9h0.95M426.1 72.4h0.95M429.5 69.9h0.95M434.4 88.4h0.95M430.4 93.2h0.95M432.9 71.4h0.95M426.9 81.1h0.95M427.7 98.2h0.95M430.1 75.2h0.95M424.2 90.4h0.95M427.9 78.0h0.95M426.0 84.5h0.95M430.4 80.6h0.95M432.7 96.1h0.95M434.2 76.9h0.95M436.4 65.7h0.95M418.0 94.0h0.95M423.3 86.3h0.95M426.8 95.4h0.95M436.2 64.5h0.95M416.8 94.3h0.95M420.0 75.6h0.95M433.9 82.7h0.95M438.8 71.0h0.95M429.2 90.5h0.95M419.5 69.7h0.95M433.4 86.0h0.95M424.5 76.0h0.95M420.6 86.8h0.95M428.7 64.4h0.95M431.6 87.1h0.95M423.2 78.1h0.95M429.3 80.1h0.95M429.2 80.2h0.95M431.3 87.7h0.95M425.3 93.5h0.95M436.3 63.7h0.95M425.5 69.4h0.95M426.8 82.4h0.95M432.8 77.5h0.95M431.3 83.4h0.95M427.8 78.0h0.95M433.2 78.4h0.95M428.8 100.8h0.95M429.9 79.1h0.95M423.0 78.5h0.95M424.3 80.4h0.95M425.8 76.3h0.95M430.8 74.9h0.95M434.7 78.5h0.95M429.6 83.6h0.95M423.0 86.3h0.95M434.5 80.9h0.95M431.9 82.2h0.95M428.9 93.4h0.95M434.8 69.2h0.95M428.4 68.3h0.95M424.4 65.1h0.95M437.7 81.1h0.95M428.3 77.8h0.95M437.1 76.2h0.95M426.6 84.3h0.95M430.3 95.6h0.95M425.8 77.9h0.95M429.6 82.4h0.95M424.9 83.2h0.95M429.6 83.5h0.95M433.9 80.1h0.95M425.4 94.7h0.95M421.6 82.4h0.95M432.0 85.1h0.95M431.6 77.5h0.95M430.4 80.7h0.95M433.4 87.0h0.95M423.5 84.8h0.95M424.6 71.4h0.95M432.8 89.0h0.95M428.8 69.4h0.95M427.1 80.5h0.95M435.9 76.2h0.95M432.0 80.8h0.95M432.5 81.1h0.95M434.0 86.7h0.95M436.7 89.8h0.95M433.1 85.6h0.95M431.4 88.3h0.95M435.8 78.8h0.95M438.6 92.3h0.95M436.6 71.8h0.95M435.0 78.1h0.95M434.4 80.7h0.95M425.3 87.1h0.95M423.7 76.7h0.95M421.2 66.5h0.95M420.7 88.7h0.95M436.3 83.1h0.95M422.9 82.2h0.95M424.6 84.4h0.95M429.1 79.3h0.95M429.2 94.6h0.95M426.1 70.5h0.95M431.0 71.2h0.95M421.7 81.6h0.95M431.8 76.3h0.95M422.1 76.5h0.95M431.3 85.6h0.95M439.6 71.4h0.95M421.4 82.1h0.95M431.9 81.0h0.95M435.8 88.5h0.95M431.7 85.2h0.95M436.9 88.1h0.95M437.6 74.7h0.95M425.9 86.0h0.95M431.3 92.1h0.95M427.7 93.0h0.95M421.2 88.8h0.95M435.5 70.1h0.95M429.1 70.6h0.95M433.3 96.5h0.95M425.5 84.4h0.95M425.1 84.4h0.95M430.9 77.1h0.95M432.5 73.7h0.95M439.1 73.4h0.95M427.6 81.9h0.95M427.0 81.9h0.95M434.0 76.2h0.95" stroke="#9a2a90" stroke-width="0.95" fill="none"/>
<path d="M434.8 96.6h0.95M432.4 73.0h0.95M420.6 77.4h0.95M417.9 80.1h0.95M429.3 71.6h0.95M433.5 75.3h0.95M429.3 78.7h0.95M432.6 78.3h0.95M430.4 81.8h0.95M428.8 80.1h0.95M425.6 79.0h0.95M421.9 74.8h0.95M425.2 80.8h0.95M431.0 81.0h0.95M422.5 91.8h0.95M436.7 75.4h0.95M434.7 83.9h0.95M426.3 67.0h0.95M431.1 75.5h0.95M427.8 71.4h0.95M427.8 87.8h0.95M437.8 72.9h0.95M429.4 87.6h0.95M426.4 79.9h0.95M433.9 82.4h0.95M425.7 70.5h0.95M433.0 86.7h0.95M435.2 100.7h0.95M431.4 81.0h0.95M428.2 81.3h0.95M434.7 73.6h0.95M433.1 82.1h0.95M427.2 75.9h0.95M432.1 82.1h0.95M424.0 84.8h0.95M426.3 99.8h0.95M428.3 92.9h0.95M427.5 87.8h0.95M431.4 97.4h0.95M434.6 70.3h0.95M431.7 78.6h0.95M429.8 77.3h0.95M426.8 75.8h0.95M431.4 78.6h0.95M425.8 84.4h0.95M430.9 70.3h0.95M421.5 77.5h0.95M425.1 61.5h0.95M430.7 71.8h0.95M416.8 70.5h0.95M420.1 67.9h0.95M431.4 86.4h0.95M430.8 93.5h0.95M424.8 70.1h0.95M435.1 82.7h0.95M419.4 86.1h0.95M426.9 91.1h0.95M428.1 82.9h0.95M437.7 89.7h0.95M434.2 91.5h0.95M429.3 96.0h0.95M431.8 81.1h0.95M431.0 73.8h0.95M431.2 87.3h0.95M422.8 95.8h0.95M433.2 82.7h0.95M436.3 92.8h0.95M433.3 92.7h0.95M436.4 64.5h0.95M431.3 89.5h0.95M434.6 74.9h0.95M424.4 89.1h0.95M428.9 71.5h0.95M429.2 82.0h0.95M425.0 94.4h0.95M435.4 83.1h0.95M425.9 69.0h0.95M420.5 74.2h0.95M433.5 85.2h0.95M430.6 80.0h0.95M429.4 79.2h0.95M430.6 93.8h0.95M422.0 84.8h0.95M424.8 88.6h0.95M430.5 89.1h0.95M429.5 80.9h0.95M423.9 98.2h0.95M426.6 87.6h0.95M439.5 91.2h0.95M431.0 79.4h0.95M426.5 80.8h0.95M439.1 79.1h0.95M426.5 88.4h0.95M430.3 74.5h0.95M427.2 86.8h0.95M432.2 85.0h0.95M435.9 79.2h0.95M430.4 77.8h0.95M435.0 85.5h0.95M434.6 91.5h0.95M433.8 86.2h0.95M429.5 86.3h0.95M428.5 80.1h0.95M427.3 84.8h0.95M420.3 80.5h0.95M428.8 85.5h0.95M433.1 75.5h0.95M427.8 70.5h0.95M426.2 88.6h0.95M434.4 71.2h0.95M420.3 73.5h0.95M427.0 86.8h0.95M427.0 97.9h0.95M419.9 73.8h0.95M425.8 77.9h0.95M422.7 74.0h0.95M429.1 65.2h0.95M429.0 84.9h0.95M424.3 89.5h0.95M422.0 99.8h0.95M432.9 95.0h0.95M434.3 95.2h0.95M428.1 69.2h0.95M421.0 72.3h0.95M418.7 72.2h0.95M420.7 101.9h0.95M432.6 71.5h0.95M436.2 78.8h0.95M432.5 80.0h0.95M424.9 66.8h0.95M421.0 87.7h0.95M433.2 76.3h0.95M427.3 70.5h0.95M431.2 74.4h0.95M421.9 86.2h0.95M422.5 91.8h0.95M434.8 64.8h0.95M432.9 79.9h0.95M431.5 70.3h0.95M434.9 79.4h0.95M433.5 74.5h0.95M418.3 85.7h0.95M427.7 91.1h0.95M432.5 81.8h0.95M423.1 82.9h0.95M431.2 69.6h0.95M419.7 72.2h0.95M433.7 93.7h0.95M434.0 68.8h0.95M439.0 67.0h0.95M425.7 93.3h0.95M425.6 99.8h0.95M427.0 79.1h0.95M430.9 88.5h0.95M431.5 85.1h0.95M418.1 93.0h0.95M422.2 94.9h0.95M434.2 88.0h0.95M432.0 78.9h0.95M420.0 73.3h0.95M419.9 75.7h0.95M428.4 81.4h0.95M423.2 85.1h0.95M425.2 86.9h0.95M429.7 87.3h0.95M424.8 90.4h0.95M435.2 80.6h0.95M420.8 74.5h0.95M431.5 89.2h0.95M427.4 68.4h0.95" stroke="#5a40e0" stroke-width="0.95" fill="none"/>
<path d="M433.5 93.8h0.95M423.8 68.6h0.95M431.5 77.7h0.95M428.7 71.5h0.95M434.0 77.7h0.95M428.0 79.0h0.95M430.0 73.4h0.95M425.8 79.7h0.95M419.1 91.5h0.95M433.4 82.9h0.95M429.3 73.1h0.95M430.6 79.2h0.95M439.2 81.7h0.95M429.0 76.8h0.95M425.9 85.1h0.95M430.6 88.8h0.95M431.3 86.5h0.95M427.3 74.9h0.95M420.5 80.4h0.95M428.6 91.2h0.95M424.4 81.7h0.95M435.6 81.5h0.95M435.8 83.4h0.95M426.5 81.3h0.95M424.6 101.7h0.95M431.1 99.2h0.95M424.6 90.2h0.95M427.2 82.7h0.95M427.8 81.4h0.95M431.9 95.6h0.95M421.8 100.6h0.95M426.3 89.9h0.95M431.9 92.8h0.95M435.3 85.7h0.95M426.8 80.9h0.95M430.9 62.7h0.95M430.0 67.0h0.95M434.9 77.0h0.95M420.0 70.8h0.95M431.3 76.3h0.95M433.1 79.7h0.95M433.5 82.0h0.95M430.0 86.3h0.95M428.0 94.8h0.95M429.5 83.8h0.95M429.7 80.7h0.95M432.6 74.8h0.95M423.5 87.6h0.95M428.5 79.4h0.95M436.7 63.3h0.95M430.2 78.4h0.95M434.0 81.7h0.95M423.1 85.8h0.95M430.8 80.7h0.95M426.2 95.3h0.95M430.1 86.8h0.95M433.4 90.3h0.95M432.0 90.6h0.95M422.3 88.4h0.95M438.3 93.1h0.95M427.1 71.9h0.95M424.8 81.7h0.95M427.8 84.2h0.95M431.9 83.8h0.95M433.0 91.0h0.95M425.9 83.0h0.95M426.8 77.5h0.95M430.7 74.1h0.95M428.6 80.8h0.95M420.8 72.1h0.95M431.3 76.1h0.95M431.1 79.3h0.95M436.9 84.2h0.95M420.0 72.1h0.95M438.3 73.1h0.95M430.6 83.0h0.95M431.0 76.5h0.95M434.4 96.0h0.95M429.7 86.8h0.95M427.0 83.7h0.95M427.4 99.2h0.95M426.2 75.3h0.95M423.8 84.8h0.95M427.9 72.7h0.95M429.5 83.5h0.95M430.1 79.3h0.95M423.5 87.6h0.95M427.0 70.8h0.95M435.6 80.2h0.95M427.5 91.9h0.95M425.7 79.7h0.95M426.6 85.4h0.95M428.0 91.9h0.95M426.8 78.7h0.95M430.5 76.6h0.95M428.8 85.3h0.95M439.6 83.1h0.95M430.0 83.1h0.95M433.8 74.7h0.95M425.8 79.1h0.95M437.5 89.4h0.95M422.3 70.6h0.95M427.4 80.2h0.95M425.1 86.5h0.95M434.3 89.9h0.95M422.6 86.9h0.95M435.4 72.6h0.95M431.0 78.6h0.95M424.4 69.7h0.95M425.2 94.9h0.95M432.2 81.0h0.95M433.5 80.3h0.95M425.7 85.1h0.95M432.5 66.3h0.95M426.3 72.1h0.95M435.2 82.4h0.95M421.5 77.9h0.95M431.0 76.2h0.95M421.7 90.5h0.95M437.7 80.6h0.95M433.7 91.3h0.95M427.5 92.3h0.95M432.2 66.5h0.95M429.6 74.9h0.95M438.4 82.7h0.95M426.9 79.3h0.95M419.0 82.2h0.95M427.0 73.8h0.95M428.0 74.0h0.95M435.4 89.8h0.95M429.4 68.7h0.95M432.9 78.1h0.95M428.6 84.2h0.95M428.7 96.1h0.95M438.9 68.5h0.95M433.0 93.4h0.95M436.1 85.6h0.95M424.7 91.3h0.95M430.7 73.7h0.95M432.0 87.0h0.95M430.6 77.1h0.95M429.5 83.3h0.95M431.8 86.4h0.95M426.6 89.5h0.95M423.0 84.8h0.95M433.0 64.6h0.95M424.1 74.3h0.95M426.5 91.6h0.95M429.9 87.6h0.95M436.1 68.4h0.95M426.3 91.5h0.95M435.5 86.0h0.95M423.0 81.5h0.95M426.9 71.7h0.95M428.3 79.9h0.95M426.6 73.2h0.95M426.8 87.6h0.95M429.0 67.1h0.95M429.6 92.7h0.95M432.9 73.6h0.95M423.9 78.3h0.95M418.9 85.9h0.95M431.5 67.3h0.95M423.0 81.2h0.95M428.4 87.8h0.95M425.8 100.3h0.95M431.5 97.3h0.95M430.4 86.4h0.95M429.1 87.1h0.95M433.8 79.2h0.95M428.5 76.1h0.95M429.7 78.1h0.95M431.7 76.5h0.95M426.3 75.1h0.95M424.5 92.1h0.95M435.1 95.6h0.95M428.7 75.9h0.95M435.1 76.2h0.95M430.9 95.4h0.95M424.9 77.4h0.95M434.2 86.7h0.95M420.3 91.7h0.95" stroke="#d02050" stroke-width="0.95" fill="none"/>
<path d="M425.8 78.5h1.1M428.6 79.2h1.1M423.0 72.9h1.1M428.4 74.9h1.1M423.0 75.9h1.1M425.7 81.1h1.1M429.9 81.8h1.1M427.2 80.9h1.1M429.7 71.7h1.1M427.7 83.5h1.1M426.2 70.2h1.1M426.8 76.4h1.1M425.6 83.2h1.1M428.3 77.2h1.1M426.6 76.4h1.1M425.1 77.1h1.1M429.7 66.9h1.1M421.2 71.8h1.1M427.4 79.1h1.1M425.1 77.4h1.1M427.1 79.5h1.1M424.8 74.3h1.1M426.4 75.7h1.1M425.5 81.7h1.1M429.1 71.3h1.1M424.1 82.9h1.1M425.2 77.5h1.1M423.3 72.6h1.1M423.2 80.6h1.1M426.9 72.2h1.1M425.7 76.2h1.1M425.2 71.9h1.1M424.4 78.8h1.1M427.3 69.0h1.1M428.4 75.4h1.1M426.4 73.0h1.1M424.9 75.3h1.1M424.7 77.3h1.1M431.6 71.5h1.1M421.9 70.4h1.1M424.7 79.4h1.1M426.7 73.5h1.1M424.0 75.2h1.1M429.4 71.5h1.1M427.8 78.4h1.1M427.2 77.2h1.1M427.7 84.8h1.1M427.0 78.8h1.1M423.3 73.5h1.1M428.9 77.7h1.1M429.8 80.1h1.1M426.6 80.5h1.1M420.6 73.9h1.1M421.3 72.1h1.1M428.0 74.9h1.1M426.3 71.3h1.1M427.4 73.9h1.1M434.3 75.0h1.1M429.0 81.9h1.1M424.4 78.5h1.1M422.9 82.7h1.1M428.0 76.7h1.1M424.8 71.2h1.1M427.6 66.1h1.1M425.9 75.8h1.1M422.9 80.0h1.1M422.3 72.0h1.1M425.8 81.2h1.1M427.9 65.7h1.1M424.8 70.2h1.1M428.2 69.7h1.1M424.7 81.2h1.1M428.2 79.7h1.1M424.3 80.4h1.1M426.6 77.0h1.1M431.2 72.2h1.1M425.7 84.8h1.1M429.1 75.3h1.1M429.2 79.2h1.1M431.5 78.8h1.1M423.0 78.3h1.1M426.7 80.1h1.1M422.9 79.5h1.1M430.6 72.0h1.1M426.2 75.5h1.1M419.9 71.6h1.1M427.0 77.3h1.1M423.5 72.6h1.1M424.5 78.2h1.1M427.5 67.7h1.1M422.8 79.4h1.1M431.5 75.5h1.1M423.8 80.0h1.1M424.2 79.4h1.1M426.4 74.5h1.1M424.1 77.0h1.1M427.2 80.5h1.1M428.3 81.2h1.1M422.8 71.0h1.1M423.9 80.3h1.1M428.6 75.1h1.1M428.2 77.2h1.1M423.2 75.6h1.1M428.8 78.4h1.1M429.1 77.4h1.1M425.4 73.9h1.1M430.1 78.3h1.1M433.3 74.0h1.1M427.1 81.3h1.1M428.0 71.5h1.1M431.0 76.1h1.1M426.1 69.0h1.1M422.7 83.1h1.1M427.4 72.0h1.1M427.5 82.5h1.1M432.3 78.6h1.1M427.6 71.7h1.1M427.6 72.4h1.1M423.4 72.3h1.1M423.0 84.0h1.1M428.6 76.0h1.1M422.6 79.3h1.1M427.2 78.0h1.1M425.3 80.9h1.1M425.9 75.5h1.1M430.2 82.1h1.1M424.9 77.1h1.1M430.6 81.1h1.1M425.9 80.3h1.1M424.3 68.9h1.1M428.3 74.7h1.1M425.6 74.7h1.1M425.3 75.0h1.1M426.3 75.7h1.1M421.6 73.0h1.1M428.1 81.8h1.1M426.4 78.3h1.1M426.9 75.9h1.1M423.1 74.3h1.1M428.9 87.5h1.1M424.9 76.6h1.1M429.5 76.2h1.1M430.0 67.2h1.1M429.7 77.3h1.1M426.5 78.3h1.1M430.4 71.2h1.1M428.1 81.4h1.1M427.4 78.7h1.1M423.8 72.3h1.1M432.2 74.5h1.1M426.1 75.6h1.1M426.2 73.4h1.1M428.8 83.3h1.1M423.1 78.9h1.1M424.2 72.3h1.1M424.7 77.9h1.1M427.3 76.3h1.1M433.7 78.8h1.1M422.9 74.7h1.1M423.5 78.0h1.1M424.8 72.5h1.1M427.3 76.6h1.1M426.3 74.0h1.1M429.6 77.6h1.1M429.7 77.6h1.1M426.1 79.2h1.1M430.3 75.5h1.1M427.4 72.7h1.1M431.5 69.8h1.1M429.6 77.7h1.1M429.5 74.7h1.1M427.1 75.4h1.1M426.0 78.6h1.1M425.7 78.8h1.1M420.3 75.0h1.1M428.5 81.4h1.1M423.8 80.3h1.1M423.0 77.5h1.1M428.5 69.2h1.1M426.8 75.8h1.1M425.2 74.2h1.1M428.6 78.3h1.1M423.7 78.5h1.1M433.1 81.7h1.1M429.7 73.4h1.1M423.1 70.1h1.1M426.3 78.7h1.1M428.1 74.3h1.1M424.4 74.9h1.1M428.6 77.7h1.1M422.5 73.4h1.1M427.0 67.3h1.1M421.1 76.3h1.1M430.7 77.8h1.1M428.8 75.0h1.1M429.4 74.7h1.1M428.3 83.5h1.1M430.3 74.8h1.1M431.7 72.1h1.1M423.3 72.1h1.1M424.2 74.0h1.1M424.1 74.0h1.1M423.7 78.3h1.1M428.4 72.5h1.1M427.3 74.2h1.1M432.3 80.4h1.1M423.3 74.0h1.1M426.7 76.5h1.1M425.0 72.5h1.1M432.4 70.9h1.1M430.8 79.5h1.1M426.6 74.2h1.1M423.4 74.0h1.1M428.4 66.9h1.1M421.9 77.7h1.1M424.9 85.0h1.1M425.3 82.1h1.1M435.5 80.7h1.1M425.6 65.4h1.1M425.6 77.1h1.1M425.4 82.1h1.1M418.9 80.6h1.1M427.3 81.3h1.1M434.4 73.4h1.1M428.8 73.6h1.1M426.7 77.9h1.1M426.6 79.5h1.1M427.7 78.4h1.1M420.9 80.0h1.1M430.5 68.5h1.1M428.5 80.0h1.1M429.9 71.7h1.1M427.1 81.8h1.1M426.4 76.8h1.1M430.0 73.9h1.1M431.2 73.6h1.1M425.4 80.6h1.1M424.7 78.5h1.1M423.7 79.4h1.1M425.6 81.3h1.1M426.6 77.6h1.1M424.9 72.3h1.1M425.5 76.2h1.1M425.6 70.7h1.1M421.7 75.6h1.1M424.0 72.6h1.1M432.9 85.6h1.1M433.4 71.8h1.1M425.8 76.2h1.1M425.2 77.0h1.1M429.3 75.2h1.1M427.5 77.3h1.1M427.9 81.5h1.1M422.5 72.2h1.1M425.2 68.2h1.1M428.1 81.4h1.1M426.0 73.8h1.1M431.5 72.4h1.1M428.7 77.6h1.1M427.7 75.5h1.1M425.1 78.9h1.1M423.6 76.3h1.1M430.1 71.5h1.1M425.1 66.9h1.1M427.1 76.1h1.1M421.6 83.7h1.1M426.3 73.9h1.1M432.2 80.2h1.1M428.2 76.1h1.1M422.9 78.0h1.1M424.7 67.4h1.1M423.8 66.2h1.1M429.7 78.9h1.1M429.2 76.0h1.1M429.3 85.4h1.1M421.9 79.1h1.1M428.8 78.3h1.1M427.7 82.4h1.1M426.6 75.2h1.1M427.2 76.7h1.1M428.9 77.4h1.1M429.1 74.6h1.1M428.9 80.7h1.1M426.8 69.7h1.1M429.2 71.6h1.1M426.2 81.0h1.1M428.7 81.1h1.1M427.4 79.0h1.1M426.7 78.1h1.1M426.4 69.6h1.1M426.0 70.3h1.1M426.8 79.4h1.1M424.3 77.4h1.1M424.4 74.3h1.1M429.7 76.1h1.1M425.0 70.5h1.1M426.2 76.3h1.1M432.7 83.5h1.1M431.4 80.8h1.1M426.9 77.5h1.1M431.5 78.5h1.1M426.9 82.6h1.1M429.1 71.6h1.1M425.1 77.9h1.1M431.4 79.4h1.1M425.0 82.0h1.1M428.2 81.4h1.1M425.9 73.8h1.1M425.1 80.5h1.1M426.3 84.6h1.1M430.7 73.5h1.1M423.3 65.1h1.1M425.1 73.3h1.1M430.3 78.6h1.1M426.0 68.1h1.1M425.7 81.6h1.1M426.9 75.6h1.1M425.5 76.8h1.1M427.4 72.9h1.1M429.8 70.9h1.1M427.7 75.3h1.1M425.9 82.0h1.1M431.7 72.1h1.1M429.2 71.9h1.1M428.5 81.1h1.1M422.2 70.3h1.1M432.2 75.2h1.1M423.5 72.9h1.1M429.5 78.8h1.1M429.2 73.3h1.1M426.0 67.0h1.1M421.8 78.0h1.1M425.7 77.1h1.1M428.9 77.6h1.1M423.2 68.0h1.1M422.1 74.0h1.1M427.9 71.0h1.1M427.6 80.2h1.1M428.6 70.8h1.1M422.8 69.8h1.1M426.8 73.7h1.1M423.6 72.1h1.1M423.8 75.7h1.1M423.6 78.8h1.1M433.4 79.2h1.1M432.9 73.1h1.1M430.3 71.6h1.1M423.2 75.6h1.1M430.0 72.8h1.1M425.7 75.9h1.1M430.1 76.1h1.1M428.1 75.2h1.1M428.0 84.4h1.1M424.8 81.1h1.1M424.8 77.8h1.1M429.6 79.7h1.1M428.8 76.8h1.1M429.0 72.1h1.1M423.2 64.1h1.1M431.0 81.4h1.1M431.5 74.3h1.1M423.5 73.2h1.1M427.3 71.8h1.1M429.4 75.2h1.1M422.1 73.9h1.1M427.5 78.6h1.1M429.2 72.7h1.1M426.3 77.2h1.1M426.9 77.0h1.1M426.1 79.4h1.1M430.1 73.2h1.1M431.2 77.3h1.1M427.3 82.0h1.1M429.8 71.4h1.1M427.6 72.2h1.1M424.5 78.8h1.1M427.0 83.2h1.1M424.5 75.5h1.1M425.0 76.8h1.1M427.3 76.8h1.1M426.4 79.8h1.1M423.7 80.5h1.1M430.0 77.2h1.1M429.5 78.2h1.1M424.2 76.8h1.1M425.6 77.8h1.1M429.4 81.5h1.1M422.3 71.6h1.1M429.0 79.1h1.1M430.1 70.9h1.1M424.7 73.9h1.1M422.4 73.5h1.1M430.9 80.8h1.1M435.1 82.9h1.1M425.7 83.7h1.1M426.5 76.2h1.1M423.7 79.0h1.1M423.6 82.6h1.1M425.3 73.3h1.1M425.6 75.0h1.1M423.9 77.7h1.1M423.4 76.1h1.1M427.6 67.9h1.1M426.0 78.8h1.1M427.8 76.8h1.1M430.6 72.8h1.1M431.0 82.8h1.1M430.0 78.6h1.1M427.0 79.5h1.1M426.4 72.1h1.1M424.2 74.9h1.1M421.9 76.4h1.1M434.8 73.6h1.1M429.1 70.9h1.1M424.8 75.4h1.1M432.1 73.9h1.1M424.5 70.1h1.1M424.7 74.6h1.1M424.5 71.2h1.1M426.8 77.4h1.1M433.9 77.5h1.1M424.5 77.4h1.1M425.4 80.5h1.1M426.8 82.0h1.1M427.1 69.2h1.1M431.8 71.9h1.1M433.2 73.5h1.1M426.8 69.6h1.1M428.1 79.7h1.1M430.8 76.0h1.1M429.1 77.0h1.1M425.5 76.6h1.1M424.2 76.9h1.1M430.3 70.1h1.1M430.0 80.9h1.1M433.7 80.2h1.1M428.5 78.4h1.1M430.0 75.7h1.1M423.1 86.7h1.1M422.9 80.4h1.1M429.5 77.1h1.1M428.7 81.2h1.1M429.7 79.9h1.1M426.0 84.0h1.1M425.7 79.3h1.1M428.6 71.0h1.1M429.9 78.6h1.1M429.8 77.1h1.1M429.2 68.5h1.1M429.3 75.7h1.1M428.1 75.2h1.1M421.6 67.9h1.1M423.7 76.2h1.1M428.4 75.4h1.1M425.5 75.0h1.1M425.8 74.3h1.1M431.1 66.7h1.1M425.6 74.4h1.1M424.1 83.0h1.1M427.0 83.3h1.1M424.8 72.0h1.1M422.6 82.4h1.1M425.4 69.1h1.1M427.7 81.0h1.1M420.8 72.5h1.1M431.0 77.2h1.1M421.0 65.8h1.1M424.1 74.3h1.1M423.9 74.6h1.1M421.7 76.4h1.1M424.5 79.9h1.1M432.4 75.6h1.1M425.0 73.4h1.1M434.6 73.7h1.1M428.5 80.2h1.1M424.8 85.8h1.1M425.0 78.3h1.1M428.2 74.2h1.1M424.6 83.0h1.1M426.5 71.7h1.1M422.0 68.5h1.1M427.7 79.1h1.1M429.2 77.0h1.1M423.1 80.7h1.1M427.8 81.8h1.1M430.3 78.9h1.1M426.7 70.3h1.1M426.6 72.0h1.1M430.7 85.2h1.1M429.3 77.8h1.1M427.4 74.6h1.1M429.7 74.5h1.1M422.8 71.1h1.1M425.4 86.9h1.1M430.3 87.1h1.1M426.9 80.9h1.1M425.2 73.2h1.1M429.7 73.4h1.1M426.9 82.4h1.1M428.2 79.1h1.1M426.0 77.2h1.1M424.1 73.0h1.1M426.1 72.6h1.1M430.4 81.7h1.1M426.1 83.3h1.1M429.8 75.0h1.1M422.3 80.8h1.1M422.3 71.4h1.1M425.7 75.6h1.1M427.9 73.2h1.1M428.7 78.1h1.1M428.2 71.6h1.1M430.4 75.4h1.1M426.3 79.6h1.1M427.4 73.5h1.1M424.4 72.6h1.1M427.0 75.7h1.1M428.9 76.0h1.1M427.8 77.7h1.1M428.3 70.3h1.1M426.8 72.9h1.1M423.5 77.4h1.1M425.4 71.3h1.1M426.1 76.3h1.1M424.0 75.9h1.1M424.4 73.1h1.1M427.6 71.9h1.1M425.4 71.8h1.1M426.1 77.8h1.1M431.8 79.0h1.1M420.4 75.8h1.1M431.0 79.6h1.1M420.2 76.9h1.1M427.7 77.1h1.1M421.8 73.6h1.1M434.2 67.3h1.1M427.0 79.7h1.1M423.7 78.8h1.1M427.4 81.9h1.1M425.6 75.6h1.1M428.0 74.2h1.1M428.1 75.1h1.1M430.5 76.2h1.1M429.0 84.9h1.1M426.8 78.1h1.1M430.3 71.2h1.1M428.8 70.1h1.1M428.7 80.9h1.1M424.2 73.5h1.1M428.8 77.7h1.1M424.9 77.2h1.1M423.6 72.0h1.1M424.7 78.3h1.1M425.0 82.1h1.1M427.8 68.5h1.1M428.3 82.4h1.1M422.4 76.8h1.1M424.6 71.6h1.1M427.9 79.0h1.1M422.3 80.0h1.1M423.7 75.4h1.1M422.9 78.1h1.1M425.2 78.5h1.1M427.9 73.6h1.1M421.5 74.8h1.1M426.0 74.0h1.1M425.4 79.1h1.1M429.0 74.6h1.1M431.1 64.0h1.1M424.5 73.1h1.1M426.5 70.1h1.1M427.7 74.0h1.1M425.9 78.1h1.1M421.8 79.2h1.1M419.9 83.0h1.1M422.0 72.6h1.1M428.0 79.9h1.1M420.8 69.3h1.1M423.5 76.4h1.1M430.1 68.8h1.1M420.3 75.8h1.1M426.7 82.1h1.1M427.1 81.4h1.1M427.9 75.1h1.1M430.4 73.4h1.1M426.4 72.0h1.1M428.7 78.1h1.1M426.6 68.8h1.1M429.4 76.9h1.1M429.8 84.4h1.1M433.6 75.5h1.1M425.8 72.3h1.1M429.1 76.4h1.1M424.4 79.1h1.1M427.3 79.9h1.1M425.6 80.1h1.1M425.3 82.5h1.1M419.9 78.8h1.1M425.5 72.8h1.1M421.2 76.6h1.1M428.7 77.9h1.1M428.0 79.3h1.1M425.4 78.4h1.1M423.3 70.3h1.1M427.0 74.6h1.1M429.2 69.9h1.1M427.0 70.0h1.1M424.9 71.0h1.1M428.8 75.5h1.1M421.3 77.0h1.1M431.9 73.3h1.1M423.8 70.5h1.1M423.1 70.6h1.1M426.3 79.4h1.1M425.0 75.9h1.1M422.6 71.4h1.1M428.5 75.2h1.1M429.9 75.4h1.1M426.8 82.4h1.1M426.2 79.0h1.1M425.6 74.9h1.1M423.3 78.7h1.1M426.7 76.7h1.1M418.9 76.7h1.1M423.4 79.5h1.1M425.2 79.0h1.1M425.5 74.8h1.1M428.5 67.9h1.1M425.7 77.0h1.1M427.8 82.9h1.1M426.0 69.3h1.1M425.0 73.8h1.1M427.8 69.8h1.1M427.2 72.3h1.1M419.6 70.2h1.1M424.4 75.4h1.1M423.7 74.1h1.1M422.7 73.1h1.1M423.2 70.6h1.1M423.9 72.9h1.1M429.8 84.0h1.1M420.9 76.4h1.1M428.0 70.8h1.1M430.8 78.7h1.1M424.4 76.1h1.1M426.0 77.5h1.1M430.9 77.6h1.1M427.2 76.9h1.1M428.4 75.6h1.1" stroke="#f01420" stroke-width="1.1" fill="none"/>
<path d="M441.5 82.9h1.1M448.4 86.8h1.1M474.2 83.2h1.1M448.9 96.1h1.1M453.3 77.9h1.1M457.5 86.9h1.1M442.5 80.5h1.1M459.9 70.5h1.1M453.6 84.7h1.1M444.0 84.3h1.1M451.3 68.4h1.1M450.0 75.6h1.1M476.8 79.0h1.1M444.3 72.3h1.1M441.3 94.1h1.1M454.5 90.2h1.1M452.4 75.5h1.1M450.6 83.9h1.1M447.7 64.0h1.1M441.1 86.3h1.1M445.4 82.3h1.1M458.9 68.2h1.1M447.1 72.6h1.1M445.7 72.6h1.1M454.2 66.8h1.1" stroke="#e02828" stroke-width="1.1" fill="none"/>
<path d="M464.2 97.5h1.1M449.4 89.9h1.1M441.8 87.1h1.1M450.0 84.6h1.1M453.2 73.7h1.1M440.6 93.1h1.1M489.0 80.4h1.1M442.7 69.3h1.1M463.0 72.1h1.1M472.7 81.4h1.1M460.2 72.8h1.1M453.0 69.8h1.1M443.4 76.5h1.1M458.0 80.9h1.1M460.8 66.9h1.1M454.8 79.1h1.1M451.5 82.5h1.1M483.1 88.4h1.1M455.5 72.7h1.1M460.1 67.9h1.1M443.1 76.4h1.1M442.7 88.0h1.1M460.7 84.3h1.1M451.6 94.9h1.1M453.1 87.6h1.1M451.1 76.0h1.1M449.5 84.2h1.1M473.2 93.2h1.1M441.1 72.0h1.1M445.7 87.5h1.1" stroke="#d84848" stroke-width="1.1" fill="none"/>
<path d="M485.3 85.7h1.1M453.1 89.6h1.1M445.9 85.9h1.1M456.6 90.4h1.1M446.7 65.4h1.1M467.9 88.8h1.1M442.5 72.5h1.1M443.7 83.2h1.1M440.9 75.5h1.1M471.7 86.7h1.1M445.8 75.0h1.1M455.0 81.5h1.1M449.6 86.2h1.1M462.9 89.1h1.1M448.1 70.4h1.1M466.9 73.9h1.1M440.9 81.4h1.1M442.8 76.9h1.1M457.3 97.4h1.1M444.5 81.1h1.1M460.3 86.0h1.1M462.3 82.2h1.1M456.9 73.4h1.1M444.3 82.1h1.1M451.5 76.4h1.1M461.2 95.4h1.1M463.0 83.8h1.1M448.8 94.7h1.1M452.5 85.2h1.1M442.3 86.6h1.1M464.3 67.4h1.1M464.3 70.0h1.1M464.2 71.8h1.1M443.4 92.0h1.1" stroke="#b03080" stroke-width="1.1" fill="none"/>
<path d="M456.5 81.2h1.1M457.5 77.7h1.1M448.1 81.2h1.1M461.3 73.9h1.1M460.5 82.6h1.1M454.0 87.0h1.1M464.2 82.1h1.1M485.1 72.1h1.1M446.0 78.8h1.1M450.7 74.5h1.1M447.7 77.4h1.1M465.6 95.6h1.1M447.8 73.6h1.1M468.7 71.9h1.1M467.0 84.1h1.1M457.0 82.0h1.1M450.4 95.6h1.1M457.9 91.3h1.1M446.5 81.4h1.1M464.3 78.1h1.1M481.4 79.3h1.1M441.5 93.1h1.1M452.2 76.0h1.1M446.9 65.2h1.1M455.8 75.7h1.1M440.5 78.5h1.1M449.5 88.9h1.1M459.4 83.7h1.1M462.8 74.0h1.1M481.6 92.0h1.1M446.8 88.6h1.1M454.0 75.0h1.1M441.6 86.5h1.1M445.5 84.0h1.1M460.9 79.0h1.1" stroke="#3a3ad8" stroke-width="1.1" fill="none"/>
<path d="M443.2 116.1h0.8M453.5 116.4h0.8M461.1 123.2h0.8M446.0 124.6h0.8M443.2 125.7h0.8M459.1 126.8h0.8M446.8 120.0h0.8M441.9 120.8h0.8M448.5 118.9h0.8M445.1 109.9h0.8M454.4 128.1h0.8M461.6 116.3h0.8M489.5 115.8h0.8M447.1 120.3h0.8M461.8 118.7h0.8M446.0 114.7h0.8M442.7 115.1h0.8M452.4 106.7h0.8M446.1 126.8h0.8M464.5 127.6h0.8M444.0 123.0h0.8M446.4 129.3h0.8" stroke="#d07070" stroke-width="0.8" fill="none" opacity="0.6"/>
<rect x="415.7" y="33.4" width="96.59999999999997" height="97.9" fill="none" stroke="#000" stroke-width="1.5"/>
<line x1="440.3" y1="33.4" x2="440.3" y2="131.3" stroke="#000" stroke-width="1.3"/>
<line x1="415.7" y1="102.1" x2="512.3" y2="102.1" stroke="#000" stroke-width="1.3"/>
<line x1="417.7" y1="131.3" x2="417.7" y2="133.3" stroke="#111" stroke-width="0.8"/>
<line x1="421.1296296296296" y1="131.3" x2="421.1296296296296" y2="133.3" stroke="#111" stroke-width="0.8"/>
<line x1="424.55925925925925" y1="131.3" x2="424.55925925925925" y2="133.3" stroke="#111" stroke-width="0.8"/>
<line x1="427.9888888888889" y1="131.3" x2="427.9888888888889" y2="133.3" stroke="#111" stroke-width="0.8"/>
<line x1="431.4185185185185" y1="131.3" x2="431.4185185185185" y2="133.3" stroke="#111" stroke-width="0.8"/>
<line x1="434.84814814814814" y1="131.3" x2="434.84814814814814" y2="133.3" stroke="#111" stroke-width="0.8"/>
<line x1="438.27777777777777" y1="131.3" x2="438.27777777777777" y2="133.3" stroke="#111" stroke-width="0.8"/>
<line x1="441.7074074074074" y1="131.3" x2="441.7074074074074" y2="133.3" stroke="#111" stroke-width="0.8"/>
<line x1="445.13703703703703" y1="131.3" x2="445.13703703703703" y2="133.3" stroke="#111" stroke-width="0.8"/>
<line x1="448.56666666666666" y1="131.3" x2="448.56666666666666" y2="133.3" stroke="#111" stroke-width="0.8"/>
<line x1="451.9962962962963" y1="131.3" x2="451.9962962962963" y2="133.3" stroke="#111" stroke-width="0.8"/>
<line x1="455.4259259259259" y1="131.3" x2="455.4259259259259" y2="133.3" stroke="#111" stroke-width="0.8"/>
<line x1="458.8555555555555" y1="131.3" x2="458.8555555555555" y2="133.3" stroke="#111" stroke-width="0.8"/>
<line x1="462.2851851851851" y1="131.3" x2="462.2851851851851" y2="133.3" stroke="#111" stroke-width="0.8"/>
<line x1="465.71481481481476" y1="131.3" x2="465.71481481481476" y2="133.3" stroke="#111" stroke-width="0.8"/>
<line x1="469.1444444444444" y1="131.3" x2="469.1444444444444" y2="133.3" stroke="#111" stroke-width="0.8"/>
<line x1="472.574074074074" y1="131.3" x2="472.574074074074" y2="133.3" stroke="#111" stroke-width="0.8"/>
<line x1="476.00370370370365" y1="131.3" x2="476.00370370370365" y2="133.3" stroke="#111" stroke-width="0.8"/>
<line x1="479.4333333333333" y1="131.3" x2="479.4333333333333" y2="133.3" stroke="#111" stroke-width="0.8"/>
<line x1="482.8629629629629" y1="131.3" x2="482.8629629629629" y2="133.3" stroke="#111" stroke-width="0.8"/>
<line x1="486.29259259259254" y1="131.3" x2="486.29259259259254" y2="133.3" stroke="#111" stroke-width="0.8"/>
<line x1="489.7222222222222" y1="131.3" x2="489.7222222222222" y2="133.3" stroke="#111" stroke-width="0.8"/>
<line x1="493.1518518518518" y1="131.3" x2="493.1518518518518" y2="133.3" stroke="#111" stroke-width="0.8"/>
<line x1="496.58148148148143" y1="131.3" x2="496.58148148148143" y2="133.3" stroke="#111" stroke-width="0.8"/>
<line x1="500.01111111111106" y1="131.3" x2="500.01111111111106" y2="133.3" stroke="#111" stroke-width="0.8"/>
<line x1="503.4407407407407" y1="131.3" x2="503.4407407407407" y2="133.3" stroke="#111" stroke-width="0.8"/>
<line x1="506.8703703703703" y1="131.3" x2="506.8703703703703" y2="133.3" stroke="#111" stroke-width="0.8"/>
<line x1="510.29999999999995" y1="131.3" x2="510.29999999999995" y2="133.3" stroke="#111" stroke-width="0.8"/>
<line x1="413.7" y1="35.4" x2="415.7" y2="35.4" stroke="#111" stroke-width="0.8"/>
<line x1="413.7" y1="39.156" x2="415.7" y2="39.156" stroke="#111" stroke-width="0.8"/>
<line x1="413.7" y1="42.912" x2="415.7" y2="42.912" stroke="#111" stroke-width="0.8"/>
<line x1="413.7" y1="46.668" x2="415.7" y2="46.668" stroke="#111" stroke-width="0.8"/>
<line x1="413.7" y1="50.424" x2="415.7" y2="50.424" stroke="#111" stroke-width="0.8"/>
<line x1="413.7" y1="54.18" x2="415.7" y2="54.18" stroke="#111" stroke-width="0.8"/>
<line x1="413.7" y1="57.93600000000001" x2="415.7" y2="57.93600000000001" stroke="#111" stroke-width="0.8"/>
<line x1="413.7" y1="61.692" x2="415.7" y2="61.692" stroke="#111" stroke-width="0.8"/>
<line x1="413.7" y1="65.44800000000001" x2="415.7" y2="65.44800000000001" stroke="#111" stroke-width="0.8"/>
<line x1="413.7" y1="69.20400000000001" x2="415.7" y2="69.20400000000001" stroke="#111" stroke-width="0.8"/>
<line x1="413.7" y1="72.96000000000001" x2="415.7" y2="72.96000000000001" stroke="#111" stroke-width="0.8"/>
<line x1="413.7" y1="76.71600000000001" x2="415.7" y2="76.71600000000001" stroke="#111" stroke-width="0.8"/>
<line x1="413.7" y1="80.47200000000001" x2="415.7" y2="80.47200000000001" stroke="#111" stroke-width="0.8"/>
<line x1="413.7" y1="84.22800000000001" x2="415.7" y2="84.22800000000001" stroke="#111" stroke-width="0.8"/>
<line x1="413.7" y1="87.98400000000001" x2="415.7" y2="87.98400000000001" stroke="#111" stroke-width="0.8"/>
<line x1="413.7" y1="91.74000000000001" x2="415.7" y2="91.74000000000001" stroke="#111" stroke-width="0.8"/>
<line x1="413.7" y1="95.49600000000001" x2="415.7" y2="95.49600000000001" stroke="#111" stroke-width="0.8"/>
<line x1="413.7" y1="99.25200000000001" x2="415.7" y2="99.25200000000001" stroke="#111" stroke-width="0.8"/>
<line x1="413.7" y1="103.00800000000001" x2="415.7" y2="103.00800000000001" stroke="#111" stroke-width="0.8"/>
<line x1="413.7" y1="106.76400000000001" x2="415.7" y2="106.76400000000001" stroke="#111" stroke-width="0.8"/>
<line x1="413.7" y1="110.52000000000001" x2="415.7" y2="110.52000000000001" stroke="#111" stroke-width="0.8"/>
<line x1="413.7" y1="114.27600000000001" x2="415.7" y2="114.27600000000001" stroke="#111" stroke-width="0.8"/>
<line x1="413.7" y1="118.03200000000001" x2="415.7" y2="118.03200000000001" stroke="#111" stroke-width="0.8"/>
<line x1="413.7" y1="121.78800000000001" x2="415.7" y2="121.78800000000001" stroke="#111" stroke-width="0.8"/>
<line x1="413.7" y1="125.54400000000001" x2="415.7" y2="125.54400000000001" stroke="#111" stroke-width="0.8"/>
<line x1="413.7" y1="129.3" x2="415.7" y2="129.3" stroke="#111" stroke-width="0.8"/>
<text x="498" y="45" font-size="9.5" text-anchor="start" font-weight="normal" fill="#000" color="#000">Q1</text>
<text x="408.5" y="42.5" font-size="5.2" text-anchor="end" font-weight="normal" fill="#333" color="#333">10<tspan dy="-2" font-size="3.6">5</tspan></text>
<line x1="413.7" y1="41" x2="415.7" y2="41" stroke="#000" stroke-width="1"/>
<text x="408.5" y="61.5" font-size="5.2" text-anchor="end" font-weight="normal" fill="#333" color="#333">10<tspan dy="-2" font-size="3.6">4</tspan></text>
<line x1="413.7" y1="60" x2="415.7" y2="60" stroke="#000" stroke-width="1"/>
<text x="408.5" y="79.9" font-size="5.2" text-anchor="end" font-weight="normal" fill="#333" color="#333">10<tspan dy="-2" font-size="3.6">3</tspan></text>
<line x1="413.7" y1="78.4" x2="415.7" y2="78.4" stroke="#000" stroke-width="1"/>
<text x="408.5" y="99.5" font-size="5.2" text-anchor="end" font-weight="normal" fill="#333" color="#333">10<tspan dy="-2" font-size="3.6">2</tspan></text>
<line x1="413.7" y1="98" x2="415.7" y2="98" stroke="#000" stroke-width="1"/>
<text x="408.5" y="108.9" font-size="5.2" text-anchor="end" font-weight="normal" fill="#333" color="#333">0</text>
<line x1="413.7" y1="107.4" x2="415.7" y2="107.4" stroke="#000" stroke-width="1"/>
<text x="442" y="140" font-size="5.2" text-anchor="middle" font-weight="normal" fill="#333" color="#333">0</text>
<text x="467" y="140" font-size="5.2" text-anchor="middle" font-weight="normal" fill="#333" color="#333">10<tspan dy="-2" font-size="3.6">3</tspan></text>
<text x="486" y="140" font-size="5.2" text-anchor="middle" font-weight="normal" fill="#333" color="#333">10<tspan dy="-2" font-size="3.6">4</tspan></text>
<text x="504" y="140" font-size="5.2" text-anchor="middle" font-weight="normal" fill="#333" color="#333">10<tspan dy="-2" font-size="3.6">5</tspan></text>
<text x="466.2" y="153.7" font-size="13.2" text-anchor="middle" font-weight="normal" fill="#000" color="#000">CD41</text>
<text x="401.2" y="75.7" font-size="13.2" text-anchor="middle" font-weight="normal" fill="#000" color="#000" transform="rotate(-90 401.2 75.7)">CD48</text>
<text x="1.2" y="181.5" font-size="13.8" text-anchor="start" font-weight="bold" fill="#000" color="#000">B</text>
<line x1="165.5" y1="197.1" x2="165.5" y2="359.8" stroke="#000" stroke-width="1.5" stroke-dasharray="2.2 1.6"/>
<line x1="36.3" y1="361.3" x2="40.6" y2="361.3" stroke="#000" stroke-width="2"/>
<text x="29.2" y="365.7" font-size="10.7" text-anchor="end" font-weight="normal" fill="#222" color="#222">0</text>
<line x1="36.3" y1="331.1" x2="40.6" y2="331.1" stroke="#000" stroke-width="2"/>
<text x="29.2" y="335.5" font-size="10.7" text-anchor="end" font-weight="normal" fill="#222" color="#222">10</text>
<line x1="36.3" y1="300.90000000000003" x2="40.6" y2="300.90000000000003" stroke="#000" stroke-width="2"/>
<text x="29.2" y="305.3" font-size="10.7" text-anchor="end" font-weight="normal" fill="#222" color="#222">20</text>
<line x1="36.3" y1="270.70000000000005" x2="40.6" y2="270.70000000000005" stroke="#000" stroke-width="2"/>
<text x="29.2" y="275.1" font-size="10.7" text-anchor="end" font-weight="normal" fill="#222" color="#222">30</text>
<line x1="36.3" y1="240.5" x2="40.6" y2="240.5" stroke="#000" stroke-width="2"/>
<text x="29.2" y="244.9" font-size="10.7" text-anchor="end" font-weight="normal" fill="#222" color="#222">40</text>
<line x1="56.25" y1="361.3" x2="56.25" y2="366.3" stroke="#000" stroke-width="2"/>
<line x1="87.5" y1="361.3" x2="87.5" y2="366.3" stroke="#000" stroke-width="2"/>
<line x1="118.75" y1="361.3" x2="118.75" y2="366.3" stroke="#000" stroke-width="2"/>
<line x1="150" y1="361.3" x2="150" y2="366.3" stroke="#000" stroke-width="2"/>
<line x1="181.25" y1="361.3" x2="181.25" y2="366.3" stroke="#000" stroke-width="2"/>
<line x1="212.5" y1="361.3" x2="212.5" y2="366.3" stroke="#000" stroke-width="2"/>
<line x1="243.75" y1="361.3" x2="243.75" y2="366.3" stroke="#000" stroke-width="2"/>
<line x1="275" y1="361.3" x2="275" y2="366.3" stroke="#000" stroke-width="2"/>
<text x="104.8" y="190.6" font-size="12.9" text-anchor="middle" font-weight="normal" fill="#000" color="#000">endosteal</text>
<text x="224.5" y="190.6" font-size="12.9" text-anchor="middle" font-weight="normal" fill="#000" color="#000">central</text>
<text x="10.8" y="276.4" font-size="12.7" text-anchor="middle" font-weight="normal" fill="#111" color="#111" transform="rotate(-90 10.8 276.4)">homing efficiency in %</text>
<path d="M55.8,227.4 L55.8,224.5 L87.5,224.5 L87.5,227.4" fill="none" stroke="#000" stroke-width="1.8"/>
<text x="71.9" y="222.2" font-size="10.3" text-anchor="middle" font-weight="normal" fill="#000" color="#000">p&lt;0.005</text>
<path d="M179.8,227.4 L179.8,224.5 L212.2,224.5 L212.2,227.4" fill="none" stroke="#000" stroke-width="1.8"/>
<text x="197.1" y="222.2" font-size="10.3" text-anchor="middle" font-weight="normal" fill="#000" color="#000">p&lt;0.05</text>
<circle cx="56.00" cy="266.75" r="4.5" fill="#000" stroke="#000" stroke-width="1.0"/>
<circle cx="56.00" cy="288.00" r="4.5" fill="#000" stroke="#000" stroke-width="1.0"/>
<circle cx="56.00" cy="291.50" r="4.5" fill="#000" stroke="#000" stroke-width="1.0"/>
<circle cx="56.00" cy="295.00" r="4.5" fill="#000" stroke="#000" stroke-width="1.0"/>
<circle cx="56.00" cy="298.00" r="4.5" fill="#000" stroke="#000" stroke-width="1.0"/>
<circle cx="56.00" cy="304.00" r="4.5" fill="#000" stroke="#000" stroke-width="1.0"/>
<circle cx="56.00" cy="308.00" r="4.5" fill="#000" stroke="#000" stroke-width="1.0"/>
<circle cx="56.00" cy="316.30" r="4.5" fill="#000" stroke="#000" stroke-width="1.0"/>
<circle cx="56.00" cy="326.30" r="4.5" fill="#000" stroke="#000" stroke-width="1.0"/>
<line x1="45.5" y1="298" x2="66.3" y2="298" stroke="#000" stroke-width="2.2"/>
<circle cx="87.50" cy="303.90" r="4.4" fill="#e81418" stroke="#600000" stroke-width="1.3"/>
<circle cx="87.50" cy="307.80" r="4.4" fill="#e81418" stroke="#600000" stroke-width="1.3"/>
<circle cx="87.50" cy="314.50" r="4.4" fill="#e81418" stroke="#600000" stroke-width="1.3"/>
<circle cx="87.50" cy="340.70" r="4.4" fill="#e81418" stroke="#600000" stroke-width="1.3"/>
<circle cx="87.50" cy="345.70" r="4.4" fill="#e81418" stroke="#600000" stroke-width="1.3"/>
<circle cx="87.50" cy="350.20" r="4.4" fill="#e81418" stroke="#600000" stroke-width="1.3"/>
<circle cx="87.50" cy="356.30" r="4.4" fill="#e81418" stroke="#600000" stroke-width="1.3"/>
<line x1="77" y1="335" x2="97.5" y2="335" stroke="#000" stroke-width="2.2"/>
<circle cx="118.50" cy="294.80" r="4.4" fill="#1ee01e" stroke="#0a400a" stroke-width="1.3"/>
<circle cx="118.50" cy="298.30" r="4.4" fill="#1ee01e" stroke="#0a400a" stroke-width="1.3"/>
<circle cx="118.50" cy="305.80" r="4.4" fill="#1ee01e" stroke="#0a400a" stroke-width="1.3"/>
<circle cx="118.50" cy="311.00" r="4.4" fill="#1ee01e" stroke="#0a400a" stroke-width="1.3"/>
<circle cx="118.50" cy="315.00" r="4.4" fill="#1ee01e" stroke="#0a400a" stroke-width="1.3"/>
<circle cx="118.50" cy="318.50" r="4.4" fill="#1ee01e" stroke="#0a400a" stroke-width="1.3"/>
<circle cx="118.50" cy="326.00" r="4.4" fill="#1ee01e" stroke="#0a400a" stroke-width="1.3"/>
<line x1="108" y1="312.5" x2="128.75" y2="312.5" stroke="#000" stroke-width="2.2"/>
<circle cx="150.00" cy="272.00" r="4.4" fill="#6b96ee" stroke="#1a2a6a" stroke-width="1.3"/>
<circle cx="150.00" cy="285.50" r="4.4" fill="#6b96ee" stroke="#1a2a6a" stroke-width="1.3"/>
<circle cx="150.00" cy="295.40" r="4.4" fill="#6b96ee" stroke="#1a2a6a" stroke-width="1.3"/>
<circle cx="150.00" cy="304.00" r="4.4" fill="#6b96ee" stroke="#1a2a6a" stroke-width="1.3"/>
<circle cx="150.00" cy="307.50" r="4.4" fill="#6b96ee" stroke="#1a2a6a" stroke-width="1.3"/>
<circle cx="150.00" cy="313.30" r="4.4" fill="#6b96ee" stroke="#1a2a6a" stroke-width="1.3"/>
<line x1="140" y1="296.3" x2="160.3" y2="296.3" stroke="#000" stroke-width="2.2"/>
<circle cx="181.25" cy="297.00" r="4.3" fill="none" stroke="#000" stroke-width="1.95"/>
<circle cx="181.25" cy="300.00" r="4.3" fill="none" stroke="#000" stroke-width="1.95"/>
<circle cx="181.25" cy="303.50" r="4.3" fill="none" stroke="#000" stroke-width="1.95"/>
<circle cx="181.25" cy="306.50" r="4.3" fill="none" stroke="#000" stroke-width="1.95"/>
<circle cx="181.25" cy="312.00" r="4.3" fill="none" stroke="#000" stroke-width="1.95"/>
<circle cx="181.25" cy="317.50" r="4.3" fill="none" stroke="#000" stroke-width="1.95"/>
<circle cx="181.25" cy="321.50" r="4.3" fill="none" stroke="#000" stroke-width="1.95"/>
<circle cx="181.25" cy="325.00" r="4.3" fill="none" stroke="#000" stroke-width="1.95"/>
<circle cx="181.25" cy="328.00" r="4.3" fill="none" stroke="#000" stroke-width="1.95"/>
<circle cx="181.25" cy="330.80" r="4.3" fill="none" stroke="#000" stroke-width="1.95"/>
<line x1="171.25" y1="312" x2="191.25" y2="312" stroke="#000" stroke-width="2.2"/>
<circle cx="212.50" cy="312.50" r="4.3" fill="none" stroke="#e01c24" stroke-width="1.95"/>
<circle cx="212.50" cy="320.50" r="4.3" fill="none" stroke="#e01c24" stroke-width="1.95"/>
<circle cx="212.50" cy="329.25" r="4.3" fill="none" stroke="#e01c24" stroke-width="1.95"/>
<circle cx="212.50" cy="345.00" r="4.3" fill="none" stroke="#e01c24" stroke-width="1.95"/>
<circle cx="212.50" cy="348.75" r="4.3" fill="none" stroke="#e01c24" stroke-width="1.95"/>
<circle cx="212.50" cy="352.50" r="4.3" fill="none" stroke="#e01c24" stroke-width="1.95"/>
<circle cx="212.50" cy="356.25" r="4.3" fill="none" stroke="#e01c24" stroke-width="1.95"/>
<line x1="202.5" y1="340" x2="223" y2="340" stroke="#000" stroke-width="2.2"/>
<circle cx="243.75" cy="272.00" r="4.3" fill="none" stroke="#22e022" stroke-width="1.95"/>
<circle cx="243.75" cy="294.50" r="4.3" fill="none" stroke="#22e022" stroke-width="1.95"/>
<circle cx="243.75" cy="300.00" r="4.3" fill="none" stroke="#22e022" stroke-width="1.95"/>
<circle cx="243.75" cy="303.75" r="4.3" fill="none" stroke="#22e022" stroke-width="1.95"/>
<circle cx="243.75" cy="307.50" r="4.3" fill="none" stroke="#22e022" stroke-width="1.95"/>
<circle cx="243.75" cy="330.00" r="4.3" fill="none" stroke="#22e022" stroke-width="1.95"/>
<circle cx="243.75" cy="333.00" r="4.3" fill="none" stroke="#22e022" stroke-width="1.95"/>
<circle cx="243.75" cy="343.00" r="4.3" fill="none" stroke="#22e022" stroke-width="1.95"/>
<line x1="233.75" y1="313" x2="254.25" y2="313" stroke="#000" stroke-width="2.2"/>
<circle cx="275.00" cy="277.00" r="4.3" fill="none" stroke="#6b8ef0" stroke-width="1.95"/>
<circle cx="275.00" cy="284.25" r="4.3" fill="none" stroke="#6b8ef0" stroke-width="1.95"/>
<circle cx="275.00" cy="300.00" r="4.3" fill="none" stroke="#6b8ef0" stroke-width="1.95"/>
<circle cx="275.00" cy="303.75" r="4.3" fill="none" stroke="#6b8ef0" stroke-width="1.95"/>
<line x1="265" y1="295" x2="285.75" y2="295" stroke="#000" stroke-width="2.2"/>
<path d="M40.6,195.6 L291.0,195.6 L291.0,361.3 L40.6,361.3 Z" fill="none" stroke="#000" stroke-width="2.8" stroke-linejoin="miter"/>
<text x="52.6" y="380.6" font-size="9.8" text-anchor="middle" font-weight="normal" fill="#000" color="#000" transform="rotate(-90 52.6 380.6)">LSK</text>
<text x="64.0" y="380.6" font-size="9.8" text-anchor="middle" font-weight="normal" fill="#000" color="#000" transform="rotate(-90 64.0 380.6)">only</text>
<text x="85.2" y="386.8" font-size="9.8" text-anchor="middle" font-weight="normal" fill="#000" color="#000" transform="rotate(-90 85.2 386.8)">LSK</text>
<text x="97.3" y="386.8" font-size="9.8" text-anchor="middle" font-weight="normal" fill="#000" color="#000" transform="rotate(-90 97.3 386.8)">HM48.1</text>
<text x="116.9" y="385.1" font-size="9.8" text-anchor="middle" font-weight="normal" fill="#000" color="#000" transform="rotate(-90 116.9 385.1)">LSK</text>
<text x="128.4" y="385.1" font-size="9.8" text-anchor="middle" font-weight="normal" fill="#000" color="#000" transform="rotate(-90 128.4 385.1)">OX-78</text>
<text x="150.3" y="383.0" font-size="9.8" text-anchor="middle" font-weight="normal" fill="#000" color="#000" transform="rotate(-90 150.3 383.0)">LSK</text>
<text x="161.2" y="383.0" font-size="9.8" text-anchor="middle" font-weight="normal" fill="#000" color="#000" transform="rotate(-90 161.2 383.0)">CD41</text>
<text x="177.8" y="380.6" font-size="9.8" text-anchor="middle" font-weight="normal" fill="#000" color="#000" transform="rotate(-90 177.8 380.6)">LSK</text>
<text x="189.5" y="380.6" font-size="9.8" text-anchor="middle" font-weight="normal" fill="#000" color="#000" transform="rotate(-90 189.5 380.6)">only</text>
<text x="211.3" y="386.8" font-size="9.8" text-anchor="middle" font-weight="normal" fill="#000" color="#000" transform="rotate(-90 211.3 386.8)">LSK</text>
<text x="222.9" y="386.8" font-size="9.8" text-anchor="middle" font-weight="normal" fill="#000" color="#000" transform="rotate(-90 222.9 386.8)">HM48.1</text>
<text x="243.1" y="385.1" font-size="9.8" text-anchor="middle" font-weight="normal" fill="#000" color="#000" transform="rotate(-90 243.1 385.1)">LSK</text>
<text x="254.6" y="385.1" font-size="9.8" text-anchor="middle" font-weight="normal" fill="#000" color="#000" transform="rotate(-90 254.6 385.1)">OX-78</text>
<text x="273.6" y="383.0" font-size="9.8" text-anchor="middle" font-weight="normal" fill="#000" color="#000" transform="rotate(-90 273.6 383.0)">LSK</text>
<text x="285.2" y="383.0" font-size="9.8" text-anchor="middle" font-weight="normal" fill="#000" color="#000" transform="rotate(-90 285.2 383.0)">CD41</text>
<text x="325.2" y="181.5" font-size="13.8" text-anchor="start" font-weight="bold" fill="#000" color="#000">C</text>
<line x1="428.5" y1="197.3" x2="428.5" y2="360.1" stroke="#000" stroke-width="1.5" stroke-dasharray="2.2 1.6"/>
<line x1="354.2" y1="362.0" x2="359.8" y2="362.0" stroke="#000" stroke-width="2"/>
<text x="352.8" y="366.4" font-size="10.7" text-anchor="end" font-weight="normal" fill="#222" color="#222">0</text>
<line x1="354.2" y1="328.7" x2="359.8" y2="328.7" stroke="#000" stroke-width="2"/>
<text x="352.8" y="333.09999999999997" font-size="10.7" text-anchor="end" font-weight="normal" fill="#222" color="#222">10</text>
<line x1="354.2" y1="295.4" x2="359.8" y2="295.4" stroke="#000" stroke-width="2"/>
<text x="352.8" y="299.79999999999995" font-size="10.7" text-anchor="end" font-weight="normal" fill="#222" color="#222">20</text>
<line x1="354.2" y1="262.1" x2="359.8" y2="262.1" stroke="#000" stroke-width="2"/>
<text x="352.8" y="266.5" font-size="10.7" text-anchor="end" font-weight="normal" fill="#222" color="#222">30</text>
<line x1="354.2" y1="228.8" x2="359.8" y2="228.8" stroke="#000" stroke-width="2"/>
<text x="352.8" y="233.20000000000002" font-size="10.7" text-anchor="end" font-weight="normal" fill="#222" color="#222">40</text>
<line x1="376.0" y1="361.6" x2="376.0" y2="366.5" stroke="#000" stroke-width="2"/>
<line x1="410.5" y1="361.6" x2="410.5" y2="366.5" stroke="#000" stroke-width="2"/>
<line x1="445.3" y1="361.6" x2="445.3" y2="366.5" stroke="#000" stroke-width="2"/>
<line x1="479.7" y1="361.6" x2="479.7" y2="366.5" stroke="#000" stroke-width="2"/>
<text x="395.4" y="190.8" font-size="12.9" text-anchor="middle" font-weight="normal" fill="#000" color="#000">endosteal</text>
<text x="460.9" y="190.8" font-size="12.9" text-anchor="middle" font-weight="normal" fill="#000" color="#000">central</text>
<text x="335.6" y="276.9" font-size="13.0" text-anchor="middle" font-weight="normal" fill="#111" color="#111" transform="rotate(-90 335.6 276.9)">homing efficiency in%</text>
<path d="M375.8,227.4 L375.8,224.5 L410.4,224.5 L410.4,227.4" fill="none" stroke="#000" stroke-width="1.8"/>
<text x="392.4" y="222.2" font-size="10.3" text-anchor="middle" font-weight="normal" fill="#000" color="#000">p&lt;0.005</text>
<path d="M445,227.4 L445,224.5 L479.6,224.5 L479.6,227.4" fill="none" stroke="#000" stroke-width="1.8"/>
<text x="462.2" y="222.2" font-size="10.3" text-anchor="middle" font-weight="normal" fill="#000" color="#000">p&lt;0.005</text>
<circle cx="376.10" cy="286.60" r="4.5" fill="#000" stroke="#000" stroke-width="1.0"/>
<circle cx="376.10" cy="290.50" r="4.5" fill="#000" stroke="#000" stroke-width="1.0"/>
<circle cx="376.10" cy="294.50" r="4.5" fill="#000" stroke="#000" stroke-width="1.0"/>
<circle cx="376.10" cy="297.20" r="4.5" fill="#000" stroke="#000" stroke-width="1.0"/>
<circle cx="376.10" cy="305.80" r="4.5" fill="#000" stroke="#000" stroke-width="1.0"/>
<circle cx="376.10" cy="309.50" r="4.5" fill="#000" stroke="#000" stroke-width="1.0"/>
<circle cx="376.10" cy="313.30" r="4.5" fill="#000" stroke="#000" stroke-width="1.0"/>
<circle cx="376.10" cy="317.00" r="4.5" fill="#000" stroke="#000" stroke-width="1.0"/>
<circle cx="376.10" cy="320.70" r="4.5" fill="#000" stroke="#000" stroke-width="1.0"/>
<line x1="365" y1="307.4" x2="387.3" y2="307.4" stroke="#000" stroke-width="2.2"/>
<circle cx="410.40" cy="318.00" r="4.4" fill="#e81418" stroke="#600000" stroke-width="1.3"/>
<circle cx="410.40" cy="332.50" r="4.4" fill="#e81418" stroke="#600000" stroke-width="1.3"/>
<circle cx="410.40" cy="336.20" r="4.4" fill="#e81418" stroke="#600000" stroke-width="1.3"/>
<circle cx="410.40" cy="342.00" r="4.4" fill="#e81418" stroke="#600000" stroke-width="1.3"/>
<circle cx="410.40" cy="347.00" r="4.4" fill="#e81418" stroke="#600000" stroke-width="1.3"/>
<circle cx="410.40" cy="352.00" r="4.4" fill="#e81418" stroke="#600000" stroke-width="1.3"/>
<line x1="399.7" y1="342" x2="422" y2="342" stroke="#000" stroke-width="2.2"/>
<circle cx="445.00" cy="288.70" r="4.3" fill="none" stroke="#000" stroke-width="1.95"/>
<circle cx="445.00" cy="299.40" r="4.3" fill="none" stroke="#000" stroke-width="1.95"/>
<circle cx="445.00" cy="303.50" r="4.3" fill="none" stroke="#000" stroke-width="1.95"/>
<circle cx="445.00" cy="306.50" r="4.3" fill="none" stroke="#000" stroke-width="1.95"/>
<circle cx="445.00" cy="309.50" r="4.3" fill="none" stroke="#000" stroke-width="1.95"/>
<circle cx="445.00" cy="319.60" r="4.3" fill="none" stroke="#000" stroke-width="1.95"/>
<circle cx="445.00" cy="334.60" r="4.3" fill="none" stroke="#000" stroke-width="1.95"/>
<line x1="434.3" y1="308.8" x2="456.5" y2="308.8" stroke="#000" stroke-width="2.2"/>
<circle cx="479.60" cy="317.50" r="4.3" fill="none" stroke="#e01c24" stroke-width="1.95"/>
<circle cx="479.60" cy="329.00" r="4.3" fill="none" stroke="#e01c24" stroke-width="1.95"/>
<circle cx="479.60" cy="333.40" r="4.3" fill="none" stroke="#e01c24" stroke-width="1.95"/>
<circle cx="479.60" cy="339.10" r="4.3" fill="none" stroke="#e01c24" stroke-width="1.95"/>
<circle cx="479.60" cy="344.00" r="4.3" fill="none" stroke="#e01c24" stroke-width="1.95"/>
<circle cx="479.60" cy="347.80" r="4.3" fill="none" stroke="#e01c24" stroke-width="1.95"/>
<circle cx="479.60" cy="352.10" r="4.3" fill="none" stroke="#e01c24" stroke-width="1.95"/>
<line x1="468.4" y1="339.1" x2="490.6" y2="339.1" stroke="#000" stroke-width="2.2"/>
<path d="M359.8,195.8 L496.9,195.8 L496.9,361.6 L359.8,361.6 Z" fill="none" stroke="#000" stroke-width="2.8" stroke-linejoin="miter"/>
<text x="374.7" y="380.85" font-size="9.8" text-anchor="middle" font-weight="normal" fill="#000" color="#000" transform="rotate(-90 374.7 380.85)">LSK</text>
<text x="386.0" y="380.85" font-size="9.8" text-anchor="middle" font-weight="normal" fill="#000" color="#000" transform="rotate(-90 386.0 380.85)">only</text>
<text x="405.3" y="387.2" font-size="9.8" text-anchor="middle" font-weight="normal" fill="#000" color="#000" transform="rotate(-90 405.3 387.2)">LSK</text>
<text x="416.3" y="387.2" font-size="9.8" text-anchor="middle" font-weight="normal" fill="#000" color="#000" transform="rotate(-90 416.3 387.2)">HM48.1</text>
<text x="443.1" y="380.25" font-size="9.8" text-anchor="middle" font-weight="normal" fill="#000" color="#000" transform="rotate(-90 443.1 380.25)">LSK</text>
<text x="454.6" y="380.25" font-size="9.8" text-anchor="middle" font-weight="normal" fill="#000" color="#000" transform="rotate(-90 454.6 380.25)">only</text>
<text x="476.0" y="387.0" font-size="9.8" text-anchor="middle" font-weight="normal" fill="#000" color="#000" transform="rotate(-90 476.0 387.0)">LSK</text>
<text x="487.7" y="387.0" font-size="9.8" text-anchor="middle" font-weight="normal" fill="#000" color="#000" transform="rotate(-90 487.7 387.0)">HM48.1</text>
<text x="1.5" y="433.8" font-size="13.8" text-anchor="start" font-weight="bold" fill="#000" color="#000">D</text>
<line x1="115.5" y1="444.7" x2="115.5" y2="589.0" stroke="#000" stroke-width="1.5" stroke-dasharray="2.2 1.6"/>
<line x1="50.5" y1="590.0" x2="56.0" y2="590.0" stroke="#000" stroke-width="2.2"/>
<text x="48.1" y="593.9" font-size="12" text-anchor="end" font-weight="normal" fill="#111" color="#111">0</text>
<line x1="50.5" y1="560.74" x2="56.0" y2="560.74" stroke="#000" stroke-width="2.2"/>
<text x="48.1" y="564.64" font-size="12" text-anchor="end" font-weight="normal" fill="#111" color="#111">20</text>
<line x1="50.5" y1="531.48" x2="56.0" y2="531.48" stroke="#000" stroke-width="2.2"/>
<text x="48.1" y="535.38" font-size="12" text-anchor="end" font-weight="normal" fill="#111" color="#111">40</text>
<line x1="50.5" y1="502.22" x2="56.0" y2="502.22" stroke="#000" stroke-width="2.2"/>
<text x="48.1" y="506.12" font-size="12" text-anchor="end" font-weight="normal" fill="#111" color="#111">60</text>
<line x1="50.5" y1="472.96" x2="56.0" y2="472.96" stroke="#000" stroke-width="2.2"/>
<text x="48.1" y="476.85999999999996" font-size="12" text-anchor="end" font-weight="normal" fill="#111" color="#111">80</text>
<line x1="50.5" y1="443.7" x2="56.0" y2="443.7" stroke="#000" stroke-width="2.2"/>
<text x="48.1" y="447.59999999999997" font-size="12" text-anchor="end" font-weight="normal" fill="#111" color="#111">100</text>
<line x1="73.75" y1="494.0272" x2="73.75" y2="491.5401" stroke="#000" stroke-width="1.8"/>
<line x1="69.55" y1="491.5401" x2="77.95" y2="491.5401" stroke="#000" stroke-width="1.8"/>
<rect x="66.85" y="495.1272" width="13.8" height="93.7728" fill="#000" stroke="#000" stroke-width="2.2"/>
<line x1="94.125" y1="514.2166" x2="94.125" y2="496.8069" stroke="#000" stroke-width="1.8"/>
<line x1="89.925" y1="496.8069" x2="98.325" y2="496.8069" stroke="#000" stroke-width="1.8"/>
<rect x="87.35" y="515.3166" width="13.55" height="73.58340000000003" fill="#fff" stroke="#000" stroke-width="2.2"/>
<line x1="139.4" y1="483.7862" x2="139.4" y2="475.3008" stroke="#000" stroke-width="1.8"/>
<line x1="135.20000000000002" y1="475.3008" x2="143.6" y2="475.3008" stroke="#000" stroke-width="1.8"/>
<rect x="132.4" y="484.88620000000003" width="13.99999999999999" height="104.01379999999999" fill="#000" stroke="#000" stroke-width="2.2"/>
<line x1="160.1" y1="488.0289" x2="160.1" y2="471.20439999999996" stroke="#000" stroke-width="1.8"/>
<line x1="155.9" y1="471.20439999999996" x2="164.29999999999998" y2="471.20439999999996" stroke="#000" stroke-width="1.8"/>
<rect x="153.6" y="489.12890000000004" width="12.99999999999999" height="99.77109999999998" fill="#fff" stroke="#000" stroke-width="2.2"/>
<line x1="83.8" y1="590.0" x2="83.8" y2="594.5" stroke="#000" stroke-width="2"/>
<line x1="150" y1="590.0" x2="150" y2="594.5" stroke="#000" stroke-width="2"/>
<path d="M56.0,443.7 L180.3,443.7 L180.3,590.0 L56.0,590.0 Z" fill="none" stroke="#000" stroke-width="2.9" stroke-linejoin="miter"/>
<rect x="63.25" y="432.5" width="9.8" height="4.8" fill="#000"/>
<text x="80" y="438.6" font-size="12.5" text-anchor="start" font-weight="normal" fill="#000" color="#000">endo</text>
<rect x="112.0" y="432.8" width="10" height="5.2" fill="#fff" stroke="#333" stroke-width="1.1"/>
<text x="128.5" y="438.6" font-size="12.9" text-anchor="start" font-weight="normal" fill="#000" color="#000">central</text>
<text x="29.4" y="518.5" font-size="12.5" text-anchor="middle" font-weight="normal" fill="#111" color="#111" transform="rotate(-90 29.4 518.5)">% endosteal cells</text>
<text x="84.2" y="610.3" font-size="12.4" text-anchor="middle" font-weight="normal" fill="#000" color="#000">LSK</text>
<text x="149.3" y="610.3" font-size="12.4" text-anchor="middle" font-weight="normal" fill="#000" color="#000">LSK</text>
<text x="149.2" y="624.0" font-size="12.4" text-anchor="middle" font-weight="normal" fill="#000" color="#000">HM48.1</text>
<text x="213" y="434.9" font-size="13.8" text-anchor="start" font-weight="bold" fill="#000" color="#000">E</text>
<line x1="309.5" y1="445.8" x2="309.5" y2="590.5" stroke="#000" stroke-width="1.5" stroke-dasharray="2.2 1.6"/>
<line x1="245.1" y1="591.5" x2="250.6" y2="591.5" stroke="#000" stroke-width="2.2"/>
<text x="242.7" y="595.4" font-size="12" text-anchor="end" font-weight="normal" fill="#111" color="#111">0</text>
<line x1="245.1" y1="562.16" x2="250.6" y2="562.16" stroke="#000" stroke-width="2.2"/>
<text x="242.7" y="566.06" font-size="12" text-anchor="end" font-weight="normal" fill="#111" color="#111">20</text>
<line x1="245.1" y1="532.82" x2="250.6" y2="532.82" stroke="#000" stroke-width="2.2"/>
<text x="242.7" y="536.72" font-size="12" text-anchor="end" font-weight="normal" fill="#111" color="#111">40</text>
<line x1="245.1" y1="503.48" x2="250.6" y2="503.48" stroke="#000" stroke-width="2.2"/>
<text x="242.7" y="507.38" font-size="12" text-anchor="end" font-weight="normal" fill="#111" color="#111">60</text>
<line x1="245.1" y1="474.14" x2="250.6" y2="474.14" stroke="#000" stroke-width="2.2"/>
<text x="242.7" y="478.03999999999996" font-size="12" text-anchor="end" font-weight="normal" fill="#111" color="#111">80</text>
<line x1="245.1" y1="444.8" x2="250.6" y2="444.8" stroke="#000" stroke-width="2.2"/>
<text x="242.7" y="448.7" font-size="12" text-anchor="end" font-weight="normal" fill="#111" color="#111">100</text>
<line x1="267.5" y1="467.8319" x2="267.5" y2="461.23040000000003" stroke="#000" stroke-width="1.8"/>
<line x1="263.3" y1="461.23040000000003" x2="271.7" y2="461.23040000000003" stroke="#000" stroke-width="1.8"/>
<rect x="260.5" y="468.93190000000004" width="14.000000000000046" height="121.46809999999998" fill="#000" stroke="#000" stroke-width="2.2"/>
<line x1="288.1" y1="462.2573" x2="288.1" y2="452.86850000000004" stroke="#000" stroke-width="1.8"/>
<line x1="283.90000000000003" y1="452.86850000000004" x2="292.3" y2="452.86850000000004" stroke="#000" stroke-width="1.8"/>
<rect x="281.3" y="463.3573" width="13.600000000000012" height="127.04270000000001" fill="#fff" stroke="#000" stroke-width="2.2"/>
<line x1="333.25" y1="460.20349999999996" x2="333.25" y2="450.2279" stroke="#000" stroke-width="1.8"/>
<line x1="329.05" y1="450.2279" x2="337.45" y2="450.2279" stroke="#000" stroke-width="1.8"/>
<rect x="326.3" y="461.3035" width="13.900000000000023" height="129.09650000000005" fill="#000" stroke="#000" stroke-width="2.2"/>
<line x1="353.70000000000005" y1="462.404" x2="353.70000000000005" y2="453.8954" stroke="#000" stroke-width="1.8"/>
<line x1="349.50000000000006" y1="453.8954" x2="357.90000000000003" y2="453.8954" stroke="#000" stroke-width="1.8"/>
<rect x="346.90000000000003" y="463.504" width="13.600000000000012" height="126.896" fill="#fff" stroke="#000" stroke-width="2.2"/>
<line x1="276.9" y1="591.5" x2="276.9" y2="596.0" stroke="#000" stroke-width="2"/>
<line x1="343.7" y1="591.5" x2="343.7" y2="596.0" stroke="#000" stroke-width="2"/>
<path d="M250.6,444.8 L375.5,444.8 L375.5,591.5 L250.6,591.5 Z" fill="none" stroke="#000" stroke-width="2.9" stroke-linejoin="miter"/>
<rect x="263.75" y="433.0" width="9.8" height="4.8" fill="#000"/>
<text x="280.5" y="439.1" font-size="12.5" text-anchor="start" font-weight="normal" fill="#000" color="#000">endo</text>
<rect x="313.0" y="433.3" width="10" height="5.2" fill="#fff" stroke="#333" stroke-width="1.1"/>
<text x="328.75" y="439.1" font-size="12.9" text-anchor="start" font-weight="normal" fill="#000" color="#000">central</text>
<text x="225.3" y="522" font-size="12.5" text-anchor="middle" font-weight="normal" fill="#111" color="#111" transform="rotate(-90 225.3 522)">% endosteal cells</text>
<text x="277.8" y="610.3" font-size="12.4" text-anchor="middle" font-weight="normal" fill="#000" color="#000">LSK</text>
<text x="342.2" y="610.3" font-size="12.4" text-anchor="middle" font-weight="normal" fill="#000" color="#000">LSK</text>
<text x="342.3" y="624.0" font-size="12.4" text-anchor="middle" font-weight="normal" fill="#000" color="#000">HM48.1</text>
</svg></body></html>
